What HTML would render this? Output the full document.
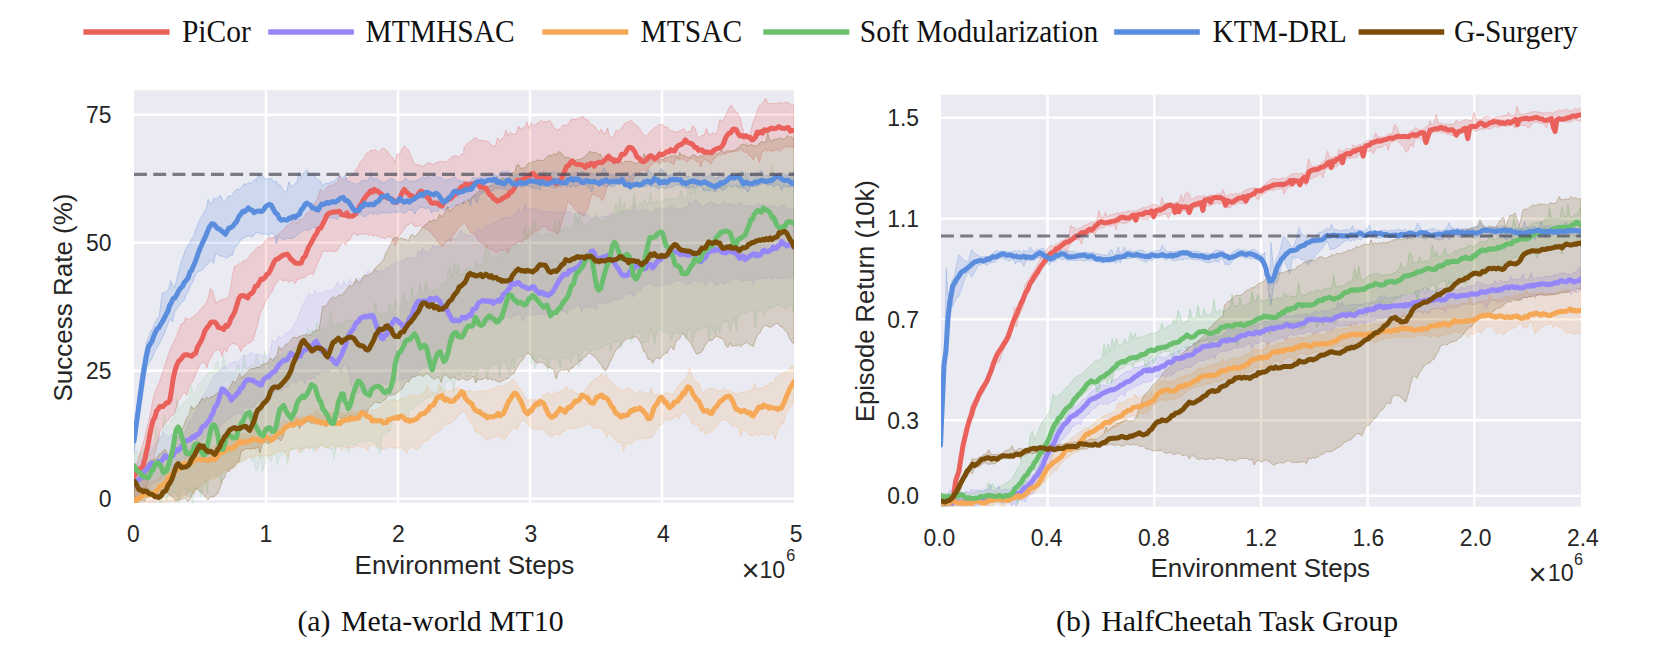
<!DOCTYPE html>
<html><head><meta charset="utf-8"><style>html,body{margin:0;padding:0;background:#fff;overflow:hidden}svg{display:block}</style></head>
<body><svg width="1653" height="662" viewBox="0 0 1653 662">
<rect width="1653" height="662" fill="#fff"/>
<line x1="83.4" y1="32" x2="169.6" y2="32" stroke="#EA615C" stroke-width="5.5"/>
<text transform="translate(181.9,41.7) scale(1,1.1)" font-family="Liberation Serif, serif" font-size="29.5" fill="#111">PiCor</text>
<line x1="268.2" y1="32" x2="353.9" y2="32" stroke="#9587F7" stroke-width="5.5"/>
<text transform="translate(365.6,41.7) scale(1,1.1)" font-family="Liberation Serif, serif" font-size="29.5" fill="#111">MTMHSAC</text>
<line x1="542.3" y1="32" x2="628.2" y2="32" stroke="#F5A855" stroke-width="5.5"/>
<text transform="translate(640.5,41.7) scale(1,1.1)" font-family="Liberation Serif, serif" font-size="29.5" fill="#111">MTSAC</text>
<line x1="763.3" y1="32" x2="849.3" y2="32" stroke="#6ABF6E" stroke-width="5.5"/>
<text transform="translate(859.8,41.7) scale(1,1.1)" font-family="Liberation Serif, serif" font-size="29.5" fill="#111">Soft Modularization</text>
<line x1="1114.2" y1="32" x2="1199.8" y2="32" stroke="#5A8DDD" stroke-width="5.5"/>
<text transform="translate(1212.5,41.7) scale(1,1.1)" font-family="Liberation Serif, serif" font-size="29.5" fill="#111">KTM-DRL</text>
<line x1="1358.6" y1="32" x2="1444.2" y2="32" stroke="#7A4E08" stroke-width="5.5"/>
<text transform="translate(1453.9,41.7) scale(1,1.1)" font-family="Liberation Serif, serif" font-size="29.5" fill="#111">G-Surgery</text>
<rect x="134" y="90.3" width="660" height="412.59999999999997" fill="#EAEAF2"/>
<line x1="266" y1="90.3" x2="266" y2="502.9" stroke="#fff" stroke-width="2.4"/>
<line x1="398" y1="90.3" x2="398" y2="502.9" stroke="#fff" stroke-width="2.4"/>
<line x1="530" y1="90.3" x2="530" y2="502.9" stroke="#fff" stroke-width="2.4"/>
<line x1="662" y1="90.3" x2="662" y2="502.9" stroke="#fff" stroke-width="2.4"/>
<line x1="134" y1="498.8" x2="794" y2="498.8" stroke="#fff" stroke-width="2.4"/>
<line x1="134" y1="370.76750000000004" x2="794" y2="370.76750000000004" stroke="#fff" stroke-width="2.4"/>
<line x1="134" y1="242.735" x2="794" y2="242.735" stroke="#fff" stroke-width="2.4"/>
<line x1="134" y1="114.70250000000004" x2="794" y2="114.70250000000004" stroke="#fff" stroke-width="2.4"/>
<rect x="941" y="94.6" width="640" height="411.9" fill="#EAEAF2"/>
<line x1="1047.6680000000001" y1="94.6" x2="1047.6680000000001" y2="506.5" stroke="#fff" stroke-width="2.4"/>
<line x1="1154.336" y1="94.6" x2="1154.336" y2="506.5" stroke="#fff" stroke-width="2.4"/>
<line x1="1261.004" y1="94.6" x2="1261.004" y2="506.5" stroke="#fff" stroke-width="2.4"/>
<line x1="1367.672" y1="94.6" x2="1367.672" y2="506.5" stroke="#fff" stroke-width="2.4"/>
<line x1="1474.3400000000001" y1="94.6" x2="1474.3400000000001" y2="506.5" stroke="#fff" stroke-width="2.4"/>
<line x1="941" y1="495.8" x2="1581" y2="495.8" stroke="#fff" stroke-width="2.4"/>
<line x1="941" y1="420.20000000000005" x2="1581" y2="420.20000000000005" stroke="#fff" stroke-width="2.4"/>
<line x1="941" y1="319.40000000000003" x2="1581" y2="319.40000000000003" stroke="#fff" stroke-width="2.4"/>
<line x1="941" y1="218.59999999999997" x2="1581" y2="218.59999999999997" stroke="#fff" stroke-width="2.4"/>
<line x1="941" y1="117.80000000000001" x2="1581" y2="117.80000000000001" stroke="#fff" stroke-width="2.4"/>
<defs><clipPath id="cl"><rect x="134" y="90.3" width="660" height="412.59999999999997"/></clipPath><clipPath id="cr"><rect x="941" y="94.6" width="640" height="411.9"/></clipPath></defs>
<g clip-path="url(#cl)"><path d="M134.0,471.6 L136.1,465.7 L138.2,459.6 L140.3,451.5 L142.4,445.7 L144.5,438.5 L146.6,429.0 L148.7,421.4 L150.8,411.4 L152.9,400.0 L155.0,392.1 L157.1,387.1 L159.2,383.0 L161.2,376.7 L163.3,370.1 L165.4,364.3 L167.6,357.1 L169.9,350.6 L172.1,345.0 L174.4,341.0 L176.6,335.9 L178.9,330.2 L181.1,323.7 L183.4,323.5 L185.6,317.4 L187.9,319.5 L190.1,319.2 L192.4,317.3 L194.6,315.3 L196.9,313.9 L199.1,310.9 L201.4,308.6 L203.6,306.0 L205.9,303.6 L208.1,298.2 L210.4,288.5 L212.6,291.1 L215.7,302.6 L217.8,302.2 L219.9,300.0 L222.0,299.9 L224.1,298.0 L226.2,299.4 L228.3,296.8 L230.4,288.6 L232.5,275.4 L234.6,266.1 L236.7,265.9 L238.8,263.7 L240.9,264.0 L243.0,261.0 L245.0,260.9 L247.1,259.5 L249.2,256.8 L251.3,253.8 L253.4,251.9 L255.5,249.4 L257.6,247.1 L259.7,247.0 L261.8,245.6 L263.9,242.6 L266.0,239.9 L268.1,237.9 L270.2,237.9 L272.3,237.9 L274.6,237.3 L277.0,235.6 L279.4,233.4 L281.7,231.0 L283.9,229.8 L286.2,226.0 L288.4,225.5 L290.7,222.9 L292.9,221.6 L295.2,218.4 L297.4,224.0 L299.5,219.1 L301.6,219.3 L303.7,218.1 L305.8,214.1 L307.9,213.6 L310.0,209.9 L312.1,208.3 L314.2,203.5 L316.3,200.9 L318.4,195.4 L320.5,189.1 L322.6,192.6 L324.7,190.3 L326.8,187.6 L328.9,186.1 L331.0,184.7 L333.1,185.8 L335.2,182.9 L337.3,183.0 L339.4,175.9 L341.5,179.3 L343.6,180.2 L345.6,178.2 L347.7,178.4 L349.8,176.5 L351.9,175.0 L354.0,173.3 L356.1,169.2 L358.2,166.9 L360.3,162.4 L362.4,160.2 L364.5,157.3 L366.6,153.3 L368.7,152.3 L370.8,150.2 L372.9,150.9 L375.0,149.3 L377.0,151.8 L379.1,152.2 L381.2,149.4 L383.3,148.2 L385.4,149.3 L387.8,152.0 L390.1,155.6 L392.5,157.6 L394.9,162.6 L397.2,154.2 L399.6,154.2 L401.9,149.2 L404.3,146.0 L406.4,148.2 L408.5,150.1 L410.6,155.1 L412.7,160.5 L414.8,164.1 L416.9,165.1 L419.1,164.8 L421.4,165.8 L423.6,166.7 L425.9,164.2 L428.1,162.9 L430.4,163.1 L432.6,164.6 L434.8,163.5 L437.1,162.2 L439.3,161.5 L441.6,161.7 L443.8,161.6 L446.1,162.3 L448.3,159.8 L450.5,158.7 L452.7,156.2 L454.9,156.0 L457.1,156.3 L459.3,156.7 L461.5,154.3 L463.7,154.4 L464.0,147.7 L466.1,145.0 L468.2,142.9 L470.3,141.8 L472.4,139.9 L474.5,137.8 L476.6,138.0 L478.7,140.8 L480.8,139.8 L482.9,140.6 L485.0,141.5 L487.0,140.8 L489.1,142.4 L491.2,144.7 L493.3,146.2 L495.4,146.7 L497.5,137.9 L499.6,141.4 L501.7,138.6 L503.8,137.6 L505.9,130.1 L508.0,135.9 L510.1,132.5 L512.2,133.9 L514.3,134.0 L516.4,134.0 L518.5,125.9 L520.6,129.8 L522.7,127.7 L524.8,128.1 L526.9,121.9 L529.0,128.8 L531.1,122.5 L533.2,126.2 L535.2,124.9 L537.3,123.0 L539.4,122.2 L541.5,120.3 L543.6,122.1 L545.7,121.8 L547.8,121.6 L549.9,120.4 L552.0,124.0 L554.1,127.5 L556.2,130.2 L558.3,129.6 L560.4,128.4 L562.5,125.4 L564.6,125.0 L566.7,125.2 L568.8,123.4 L570.9,119.8 L573.0,119.5 L575.1,119.6 L577.1,118.9 L579.2,118.6 L581.3,116.5 L583.4,116.8 L585.6,119.6 L587.9,119.9 L590.1,124.4 L592.4,124.7 L594.6,126.2 L596.9,130.0 L599.1,133.2 L601.2,129.1 L603.3,133.9 L605.4,133.1 L607.5,127.9 L609.6,136.4 L611.7,137.8 L613.8,136.6 L615.9,130.3 L618.0,130.9 L620.1,129.8 L622.2,127.2 L624.3,124.0 L626.4,122.1 L628.5,121.9 L630.6,120.3 L632.8,122.0 L635.1,125.0 L637.3,126.0 L639.6,128.0 L641.8,133.0 L644.1,135.1 L646.3,136.4 L648.4,134.2 L650.5,131.3 L652.6,129.4 L654.7,127.3 L656.8,127.4 L658.9,124.2 L661.0,125.1 L663.1,124.6 L665.1,127.6 L667.2,127.2 L669.3,129.1 L671.4,131.3 L673.5,131.2 L675.6,132.4 L677.7,131.5 L679.8,131.0 L681.9,129.8 L684.0,128.9 L686.2,132.6 L688.5,131.5 L690.7,131.5 L693.0,125.6 L695.2,128.7 L697.5,136.7 L699.7,137.6 L701.9,135.3 L704.2,135.3 L706.4,128.4 L708.7,134.8 L710.9,133.9 L713.2,132.6 L715.4,134.2 L717.7,130.7 L719.9,119.5 L722.2,121.5 L724.4,117.9 L726.7,113.7 L728.9,108.2 L731.2,105.0 L733.6,109.1 L735.9,112.1 L738.2,113.6 L740.6,119.9 L742.7,128.6 L744.8,137.8 L746.9,145.8 L749.0,137.4 L751.1,129.8 L753.1,122.2 L755.2,117.6 L757.3,110.4 L759.4,105.5 L761.5,104.2 L763.6,101.7 L765.7,98.3 L767.8,103.0 L769.9,104.0 L772.0,103.4 L774.1,103.6 L776.2,103.7 L778.3,102.4 L780.5,102.6 L782.8,103.7 L785.0,102.4 L787.3,102.1 L789.5,103.6 L791.8,104.9 L794.0,104.8 L794.0,147.7 L792.0,147.2 L790.0,146.9 L788.0,146.8 L786.0,146.6 L784.0,147.2 L782.0,149.1 L780.0,151.3 L778.0,148.8 L776.0,150.1 L774.0,150.3 L772.0,151.7 L769.9,149.8 L767.8,151.5 L765.7,149.6 L763.6,151.1 L761.6,152.5 L759.5,162.2 L757.4,156.1 L755.3,154.5 L753.2,159.8 L751.1,156.8 L749.0,155.2 L746.9,151.9 L744.8,152.4 L742.7,150.8 L740.6,148.9 L738.4,150.4 L736.1,151.3 L733.9,151.0 L731.6,151.8 L729.4,152.5 L727.1,152.7 L724.9,154.5 L722.9,153.4 L720.9,155.1 L718.9,153.7 L716.9,156.5 L714.9,158.5 L712.9,159.1 L710.9,164.3 L708.9,161.3 L706.9,161.3 L704.9,159.4 L702.9,160.3 L700.8,166.8 L698.7,161.0 L696.6,162.2 L694.5,159.3 L692.4,158.2 L690.3,158.9 L688.2,160.8 L686.1,161.7 L684.0,159.6 L681.9,158.3 L679.8,160.2 L677.7,157.9 L675.6,158.8 L673.6,164.9 L671.5,162.4 L669.4,162.1 L667.3,160.0 L665.2,162.2 L663.1,160.9 L661.0,163.1 L658.9,163.4 L656.8,161.4 L654.7,162.3 L652.6,163.6 L650.5,166.3 L648.4,168.0 L646.3,171.6 L644.1,169.5 L641.8,169.8 L639.6,172.5 L637.3,174.6 L635.1,177.1 L632.8,179.6 L630.6,187.7 L628.5,180.2 L626.4,180.9 L624.3,177.9 L622.2,178.8 L620.1,178.3 L618.0,179.8 L615.9,177.3 L613.8,178.7 L611.7,177.7 L609.4,182.3 L607.0,187.4 L604.6,194.9 L602.3,200.7 L599.9,197.1 L597.6,195.8 L595.2,195.4 L592.9,193.6 L590.5,197.9 L588.1,207.6 L585.8,211.7 L583.4,216.3 L581.2,213.4 L578.9,213.2 L576.7,210.9 L574.4,208.4 L572.2,204.8 L569.9,203.4 L567.7,201.2 L565.4,210.6 L563.0,217.7 L560.6,226.2 L558.3,233.5 L556.1,233.6 L553.8,231.0 L551.6,230.3 L549.3,231.0 L547.1,228.0 L544.8,226.6 L542.6,226.4 L540.6,228.5 L538.6,230.5 L536.5,230.7 L534.5,230.2 L532.5,233.7 L530.5,236.1 L528.5,237.2 L526.4,238.1 L524.4,239.2 L522.4,241.7 L520.4,241.7 L518.3,241.5 L516.3,244.0 L514.3,244.2 L512.2,245.6 L510.1,247.7 L508.0,253.1 L505.9,249.4 L503.8,250.6 L501.7,250.2 L499.6,250.6 L497.5,252.6 L495.4,252.3 L493.2,250.8 L490.9,248.6 L488.7,248.1 L486.4,247.4 L484.2,244.5 L481.9,242.9 L479.7,242.1 L477.5,238.6 L475.2,234.0 L473.0,232.7 L470.7,232.7 L468.5,228.8 L466.2,224.9 L464.0,221.8 L463.7,223.1 L461.5,224.8 L459.4,226.2 L457.2,229.8 L455.0,233.2 L452.9,234.6 L450.7,241.3 L448.5,240.1 L446.3,240.6 L444.2,243.6 L442.0,246.9 L439.9,243.7 L437.8,241.9 L435.7,237.4 L433.6,236.2 L431.5,232.9 L429.4,231.0 L427.3,229.6 L425.2,228.5 L423.1,227.4 L421.0,226.3 L419.0,225.4 L416.9,226.4 L414.8,226.6 L412.7,224.0 L410.6,223.0 L408.4,225.3 L406.1,226.0 L403.9,229.8 L401.6,232.5 L399.4,235.8 L397.1,240.9 L394.9,245.7 L392.9,240.1 L390.9,236.8 L388.9,236.7 L386.9,237.1 L384.9,238.7 L382.9,237.2 L380.9,237.9 L378.9,235.7 L376.9,236.3 L374.9,234.8 L372.9,236.4 L370.8,234.2 L368.7,235.5 L366.6,233.6 L364.5,233.6 L362.4,234.3 L360.3,234.1 L358.2,235.4 L356.1,234.8 L354.0,232.5 L351.9,235.6 L349.8,240.2 L347.7,240.3 L345.6,245.3 L343.6,242.1 L341.5,243.1 L339.4,246.6 L337.3,250.8 L335.2,251.8 L333.1,250.8 L331.0,251.9 L328.9,250.4 L326.8,251.9 L324.7,250.4 L322.6,251.4 L320.2,258.0 L317.9,262.3 L315.6,268.5 L313.2,274.6 L310.9,273.5 L308.7,274.3 L306.4,276.2 L304.2,278.1 L301.9,277.6 L299.7,279.3 L297.4,278.9 L295.3,283.8 L293.2,280.9 L291.1,280.0 L289.0,282.6 L287.0,280.1 L284.9,280.3 L282.8,280.9 L280.7,279.3 L278.6,279.9 L276.5,282.4 L274.4,285.3 L272.3,291.3 L270.2,293.5 L268.1,297.7 L266.0,300.2 L263.9,305.7 L261.8,310.2 L259.7,314.8 L257.4,325.1 L255.2,332.8 L252.9,340.2 L250.2,342.9 L247.6,343.1 L245.0,346.0 L242.9,346.7 L240.9,351.6 L238.8,346.8 L236.7,344.5 L234.7,343.9 L232.6,343.3 L230.6,344.8 L228.5,346.6 L226.5,352.2 L224.3,348.6 L222.1,355.9 L219.9,350.0 L217.7,349.9 L215.5,350.6 L213.3,352.2 L211.1,357.7 L209.0,359.4 L206.9,368.1 L204.8,362.5 L202.7,362.6 L200.4,364.5 L198.2,368.7 L195.9,373.7 L193.6,379.6 L191.4,383.3 L189.1,385.9 L186.8,395.2 L184.6,392.7 L182.4,393.6 L180.2,398.8 L178.0,400.5 L175.8,409.7 L173.6,414.8 L171.4,415.4 L169.2,418.7 L167.0,421.4 L164.8,423.3 L162.6,427.1 L160.4,429.5 L158.3,440.1 L156.2,447.6 L154.1,457.7 L152.0,467.0 L149.9,478.1 L147.7,482.8 L145.6,488.3 L143.4,491.7 L141.1,493.8 L138.7,496.7 L136.3,500.1 L134.0,503.2Z" fill="#EA615C" fill-opacity="0.2" stroke="#EA615C" stroke-opacity="0.32000000000000006" stroke-width="1"/><path d="M134.0,467.0 L136.1,466.5 L138.2,462.4 L140.3,461.1 L142.4,457.0 L144.5,456.6 L146.6,453.6 L148.7,450.6 L150.7,447.6 L152.8,447.2 L154.9,444.9 L157.0,443.9 L159.1,436.3 L161.2,437.7 L163.3,431.7 L165.4,434.5 L167.4,435.5 L169.4,437.0 L171.5,434.6 L173.5,434.5 L175.5,436.5 L177.5,436.9 L179.5,437.5 L181.6,437.9 L183.7,433.0 L185.8,430.7 L187.9,424.2 L190.0,420.1 L192.1,418.0 L194.2,413.0 L196.4,411.4 L198.5,405.4 L200.6,400.0 L202.7,397.2 L204.8,392.6 L206.9,389.4 L209.0,387.3 L211.1,380.9 L213.3,377.1 L215.9,374.0 L218.5,372.4 L221.2,369.2 L223.2,366.7 L225.3,367.0 L227.4,365.7 L229.4,362.9 L231.5,363.6 L233.5,361.6 L235.6,361.9 L237.6,362.2 L239.7,360.0 L241.8,357.1 L243.9,354.7 L246.0,355.2 L248.1,355.6 L250.2,352.8 L252.5,352.7 L254.8,354.9 L257.0,353.9 L259.3,355.1 L261.6,355.3 L263.8,355.9 L266.1,356.4 L268.2,354.5 L270.3,351.6 L272.4,340.2 L274.6,342.4 L276.7,340.3 L278.9,336.4 L281.2,337.4 L283.5,336.4 L285.7,333.0 L288.0,333.1 L290.3,329.7 L292.5,329.1 L294.6,323.4 L296.6,321.1 L298.7,314.9 L300.7,310.7 L302.8,304.7 L304.8,301.3 L306.9,298.0 L308.9,293.4 L311.0,295.3 L313.0,296.2 L315.1,290.4 L317.1,294.9 L319.2,292.4 L321.2,292.8 L323.3,292.8 L325.3,291.1 L327.4,290.3 L329.4,291.0 L331.5,290.5 L333.5,288.2 L335.6,286.0 L337.6,281.9 L339.7,285.9 L341.7,286.8 L343.8,280.9 L345.8,286.6 L347.9,284.8 L349.9,278.8 L352.0,283.3 L354.0,282.9 L356.0,280.5 L358.0,281.6 L360.0,278.2 L362.0,278.9 L364.1,277.6 L366.1,275.2 L368.1,270.2 L370.1,274.2 L372.1,272.2 L374.1,270.7 L376.1,269.8 L378.1,271.1 L380.1,271.9 L382.1,270.7 L384.2,271.1 L386.2,268.2 L388.2,268.5 L390.2,266.0 L392.2,264.1 L394.2,264.6 L396.2,261.8 L398.2,262.2 L400.2,262.2 L402.3,260.1 L404.3,261.1 L406.3,258.1 L408.3,256.7 L410.3,257.6 L412.3,258.1 L414.3,257.8 L416.3,257.8 L418.3,250.4 L420.3,254.3 L422.4,247.5 L424.4,252.2 L426.4,250.2 L428.4,251.7 L430.4,251.4 L432.4,245.3 L434.4,247.3 L436.4,247.0 L438.4,246.2 L440.4,247.4 L442.5,246.9 L444.5,243.7 L446.5,241.2 L448.5,239.2 L450.5,239.7 L452.5,237.9 L454.5,239.5 L456.5,238.0 L458.5,236.5 L460.6,230.1 L462.6,233.3 L464.6,233.8 L466.6,234.9 L468.6,235.5 L470.6,235.7 L472.6,234.6 L474.6,233.4 L476.6,232.5 L478.6,228.7 L480.7,230.5 L482.7,230.3 L484.7,226.7 L486.7,225.5 L488.7,226.2 L490.7,225.0 L492.7,223.8 L494.7,223.6 L496.7,222.2 L498.8,221.1 L500.8,218.5 L502.8,218.9 L504.8,217.6 L506.8,217.8 L508.8,216.9 L510.8,217.4 L512.8,217.1 L514.8,213.6 L516.8,214.9 L518.9,208.5 L520.9,215.0 L522.9,212.4 L524.9,203.6 L526.9,209.4 L528.9,208.7 L531.0,208.7 L533.0,209.1 L535.0,209.0 L537.0,209.5 L539.1,210.3 L541.1,211.8 L543.1,211.8 L545.1,211.5 L547.2,211.3 L549.2,212.3 L551.2,210.9 L553.2,211.9 L555.3,212.2 L557.3,213.6 L559.3,211.5 L561.3,213.9 L563.4,212.7 L565.4,211.1 L567.4,212.4 L569.4,211.6 L571.5,213.3 L573.5,214.7 L575.5,213.6 L577.5,213.2 L579.6,212.2 L581.6,214.1 L583.6,213.8 L585.6,214.8 L587.7,214.6 L589.7,217.1 L591.7,218.2 L593.8,218.0 L595.8,216.5 L597.8,217.6 L599.8,217.3 L601.9,216.3 L603.9,216.5 L605.9,216.7 L608.0,216.4 L610.0,212.7 L612.0,213.8 L614.0,214.5 L616.1,215.1 L618.1,214.2 L620.1,211.6 L622.2,212.6 L624.2,211.0 L626.2,210.7 L628.3,211.6 L630.3,210.6 L632.3,212.2 L634.3,204.5 L636.4,212.1 L638.4,212.9 L640.4,209.9 L642.5,210.0 L644.5,211.4 L646.5,209.0 L648.5,211.4 L650.6,212.4 L652.6,212.3 L654.6,209.7 L656.7,209.3 L658.7,208.8 L660.7,207.8 L662.7,209.7 L664.8,208.9 L666.8,210.2 L668.8,207.2 L670.8,205.3 L672.9,206.7 L674.9,208.7 L676.9,208.3 L678.9,208.7 L681.0,209.5 L683.0,208.1 L685.0,207.1 L687.0,207.9 L689.1,201.5 L691.1,204.8 L693.1,205.5 L695.1,199.5 L697.2,200.5 L699.2,203.6 L701.2,205.8 L703.2,206.4 L705.3,205.1 L707.3,203.1 L709.3,202.7 L711.3,201.4 L713.4,203.4 L715.4,204.1 L717.4,204.7 L719.5,205.5 L721.5,202.9 L723.5,201.7 L725.5,203.7 L727.6,204.6 L729.6,203.3 L731.6,203.7 L733.7,204.9 L735.7,205.2 L737.7,204.0 L739.7,202.6 L741.8,204.0 L743.8,206.0 L745.8,206.4 L747.9,206.0 L749.9,206.1 L751.9,205.5 L754.0,207.0 L756.0,205.4 L758.0,203.7 L760.0,205.6 L762.1,204.9 L764.1,204.7 L766.1,206.3 L768.2,206.5 L770.2,206.8 L772.2,205.4 L774.2,206.5 L776.3,208.2 L778.3,207.0 L780.5,206.3 L782.8,205.4 L785.0,204.7 L787.3,207.6 L789.5,209.7 L791.8,208.4 L794.0,209.9 L794.0,276.2 L792.0,278.0 L790.0,277.1 L788.0,279.0 L785.9,277.3 L783.9,278.0 L781.9,278.4 L779.9,278.6 L777.9,279.5 L775.8,276.8 L773.8,277.6 L771.8,279.4 L769.8,277.4 L767.7,278.0 L765.7,279.3 L763.7,277.6 L761.7,278.9 L759.7,278.5 L757.6,278.5 L755.6,279.7 L753.6,284.5 L751.6,280.4 L749.6,280.3 L747.5,280.1 L745.5,279.8 L743.5,282.0 L741.5,281.5 L739.5,280.1 L737.4,278.8 L735.4,277.9 L733.4,279.1 L731.4,280.5 L729.4,283.0 L727.3,282.1 L725.3,284.0 L723.3,283.4 L721.3,281.8 L719.3,282.6 L717.2,285.6 L715.2,285.2 L713.2,281.2 L711.2,280.1 L709.2,281.4 L707.1,283.1 L705.1,285.4 L703.1,282.5 L701.1,280.6 L699.1,282.4 L697.0,280.9 L695.0,280.0 L693.0,280.9 L691.0,282.6 L688.9,284.2 L686.9,284.8 L684.9,283.5 L682.9,281.6 L680.9,280.4 L678.8,280.4 L676.8,281.3 L674.8,281.2 L672.8,282.5 L670.8,283.6 L668.7,284.1 L666.7,284.1 L664.7,285.0 L662.7,285.6 L660.7,285.4 L658.6,285.0 L656.6,285.9 L654.6,286.2 L652.6,284.6 L650.5,283.8 L648.4,283.8 L646.3,285.4 L644.2,285.8 L642.1,288.6 L640.0,291.1 L637.9,290.2 L635.8,290.7 L633.7,297.3 L631.6,293.0 L629.5,294.4 L627.4,292.7 L625.3,295.7 L623.2,297.8 L621.1,298.0 L619.1,299.7 L617.0,298.7 L614.9,299.8 L612.8,299.0 L610.7,302.5 L608.6,303.0 L606.5,303.2 L604.4,303.7 L602.3,302.8 L600.2,302.3 L598.1,302.6 L596.0,309.5 L593.9,307.4 L591.8,307.3 L589.7,308.3 L587.7,306.6 L585.7,307.5 L583.6,306.9 L581.6,312.0 L579.6,304.8 L577.6,305.5 L575.5,306.8 L573.5,308.5 L571.5,308.4 L569.4,307.8 L567.4,313.9 L565.4,311.6 L563.4,311.4 L561.3,311.3 L559.3,310.0 L557.3,308.4 L555.2,309.4 L553.2,316.7 L551.2,313.8 L549.2,312.5 L547.1,315.0 L545.1,314.2 L543.1,314.8 L541.1,313.9 L539.0,313.4 L537.0,314.1 L535.0,315.2 L532.9,315.6 L530.9,315.6 L528.9,314.5 L526.9,314.8 L524.8,316.4 L522.8,321.6 L520.8,315.8 L518.7,314.8 L516.7,314.5 L514.7,315.7 L512.7,317.2 L510.6,319.2 L508.6,316.3 L506.6,316.6 L504.6,317.5 L502.5,319.2 L500.5,322.1 L498.5,319.5 L496.4,321.2 L494.4,321.5 L492.4,322.4 L490.4,323.2 L488.3,321.5 L486.3,323.4 L484.3,324.5 L482.2,324.9 L480.2,322.3 L478.2,322.8 L476.2,323.9 L474.1,326.0 L472.1,325.8 L470.1,325.5 L468.1,326.2 L466.0,327.0 L464.0,329.0 L462.0,330.1 L459.9,335.9 L457.9,334.0 L455.8,336.7 L453.8,342.0 L451.7,343.3 L449.7,345.3 L447.6,345.9 L445.6,348.5 L443.5,349.5 L441.5,351.0 L439.4,351.8 L437.4,354.1 L435.3,358.0 L433.3,361.7 L431.2,361.5 L429.2,363.7 L427.1,367.1 L425.1,367.0 L423.0,367.2 L421.0,369.4 L418.9,370.2 L416.9,373.1 L414.9,374.4 L412.8,378.7 L410.8,375.8 L408.8,379.0 L406.8,378.6 L404.7,377.4 L402.7,379.9 L400.7,379.2 L398.6,380.7 L396.6,380.5 L394.6,382.3 L392.6,383.0 L390.5,381.5 L388.5,382.0 L386.5,385.1 L384.4,383.6 L382.4,383.3 L380.4,382.8 L378.3,384.8 L376.3,387.7 L374.3,386.2 L372.3,387.1 L370.2,393.5 L368.2,390.9 L366.2,395.4 L364.1,391.7 L362.1,391.9 L360.1,392.2 L358.1,392.6 L356.0,393.3 L354.0,393.0 L351.8,385.4 L349.7,377.3 L347.5,369.2 L345.4,363.3 L343.3,365.2 L341.3,372.8 L339.3,368.9 L337.2,368.0 L335.2,368.2 L333.2,368.9 L331.1,367.5 L329.1,372.7 L327.1,371.4 L325.0,371.2 L323.0,371.0 L321.0,372.0 L318.9,374.6 L316.9,374.9 L314.9,378.2 L312.8,376.9 L310.8,379.5 L308.8,379.3 L306.7,378.5 L304.7,383.7 L302.7,378.7 L300.6,379.3 L298.6,380.8 L296.6,382.6 L294.6,382.5 L292.5,381.4 L290.5,383.4 L288.5,386.4 L286.4,387.6 L284.4,386.8 L282.4,390.3 L280.3,391.2 L278.3,390.7 L276.3,390.5 L274.2,392.7 L272.2,396.4 L270.2,397.4 L268.1,398.4 L266.1,398.5 L264.1,401.0 L262.0,401.5 L260.0,400.5 L258.0,401.6 L255.9,403.1 L253.9,407.0 L251.9,407.0 L249.8,408.4 L247.8,408.5 L245.8,406.6 L243.7,409.0 L241.7,415.1 L239.7,411.8 L237.6,414.5 L235.6,414.9 L233.6,413.8 L231.6,417.0 L229.5,419.1 L227.5,418.5 L225.5,421.7 L223.4,423.1 L221.4,424.2 L219.4,427.7 L217.3,429.0 L215.3,428.4 L213.3,429.0 L211.2,429.5 L209.2,432.5 L207.2,434.4 L205.1,437.4 L203.1,438.3 L201.1,442.5 L199.0,444.1 L197.0,443.2 L195.0,445.8 L192.9,450.0 L190.9,454.0 L188.9,457.2 L186.8,456.4 L184.8,457.7 L182.8,457.7 L180.7,460.5 L178.7,463.0 L176.7,466.2 L174.6,467.1 L172.6,471.8 L170.6,469.9 L168.5,470.6 L166.5,473.5 L164.5,475.6 L162.5,475.2 L160.4,479.8 L158.4,481.3 L156.4,481.6 L154.3,483.0 L152.3,483.6 L150.3,484.4 L148.2,492.9 L146.2,488.4 L144.2,491.4 L142.1,492.4 L140.1,494.5 L138.1,496.1 L136.0,496.7 L134.0,499.9Z" fill="#9587F7" fill-opacity="0.12" stroke="#9587F7" stroke-opacity="0.192" stroke-width="1"/><path d="M134.0,490.5 L136.0,490.9 L138.1,485.5 L140.1,489.4 L142.1,488.9 L144.2,485.8 L146.2,485.5 L148.2,483.3 L150.3,483.2 L152.3,481.2 L154.3,481.3 L156.4,479.9 L158.4,477.6 L160.4,477.7 L162.5,475.9 L164.5,475.8 L166.5,475.5 L168.5,474.2 L170.6,472.3 L172.6,470.1 L174.6,467.7 L176.7,461.0 L178.7,466.2 L180.7,464.0 L182.8,461.1 L184.8,458.7 L186.8,455.9 L188.9,454.1 L190.9,453.8 L192.9,453.3 L195.0,452.1 L197.0,451.8 L199.0,451.3 L201.1,449.7 L203.1,450.7 L205.1,451.6 L207.2,447.9 L209.2,448.0 L211.2,448.0 L213.3,446.6 L215.3,446.8 L217.3,443.6 L219.4,441.8 L221.4,441.8 L223.4,440.9 L225.5,440.5 L227.5,438.1 L229.5,438.6 L231.6,440.1 L233.6,435.2 L235.6,438.5 L237.6,436.2 L239.7,436.3 L241.7,433.7 L243.7,434.7 L245.8,432.6 L247.8,434.5 L249.8,431.8 L251.9,431.0 L253.9,430.8 L255.9,431.2 L258.0,425.7 L260.0,432.1 L262.0,432.3 L264.1,425.9 L266.1,430.2 L268.1,428.3 L270.2,429.1 L272.2,428.5 L274.2,427.5 L276.3,426.4 L278.3,426.5 L280.3,423.9 L282.4,421.9 L284.4,420.6 L286.4,422.0 L288.5,423.1 L290.5,422.5 L292.5,419.6 L294.6,417.3 L296.6,417.0 L298.6,416.8 L300.6,417.9 L302.7,416.0 L304.7,417.8 L306.7,416.4 L308.8,416.3 L310.8,414.8 L312.8,414.3 L314.9,412.6 L316.9,409.3 L318.9,413.4 L321.0,415.3 L323.0,415.1 L325.0,413.6 L327.1,412.5 L329.1,412.3 L331.1,413.2 L333.2,412.0 L335.2,411.0 L337.2,411.3 L339.3,413.0 L341.3,412.8 L343.3,414.0 L345.4,414.0 L347.4,411.8 L349.4,413.6 L351.5,411.2 L353.5,411.5 L355.5,412.8 L357.6,413.2 L359.6,413.7 L361.6,413.1 L363.7,412.8 L365.7,411.8 L367.8,409.4 L369.8,411.5 L371.8,410.0 L373.9,410.9 L375.9,409.1 L377.9,408.0 L380.0,408.1 L382.7,405.1 L385.4,402.2 L387.5,402.8 L389.6,400.8 L391.7,399.6 L393.8,400.2 L395.9,400.4 L398.0,400.9 L400.1,399.7 L402.2,397.9 L404.3,399.0 L406.4,397.4 L408.5,395.7 L410.6,397.2 L412.7,394.4 L414.8,395.4 L416.9,396.0 L418.9,395.5 L421.0,395.9 L423.0,392.9 L425.1,391.9 L427.1,385.3 L429.2,390.2 L431.2,391.9 L433.3,393.1 L435.3,393.2 L437.4,392.7 L439.4,385.0 L441.5,390.5 L443.5,391.6 L445.6,390.2 L447.6,390.2 L449.7,391.1 L451.7,390.0 L453.8,388.4 L455.8,390.0 L457.9,386.2 L459.9,390.2 L462.0,391.8 L464.0,391.7 L466.5,390.9 L469.0,390.7 L471.5,390.9 L474.0,392.5 L476.2,391.8 L478.4,390.7 L480.6,392.0 L482.9,390.5 L485.1,390.6 L487.3,391.2 L489.5,389.4 L491.7,389.1 L493.9,388.5 L496.2,386.7 L498.4,386.0 L500.6,385.2 L502.8,386.9 L505.0,386.1 L507.3,384.1 L509.5,383.1 L511.7,380.0 L513.9,379.4 L516.2,384.1 L518.6,386.4 L520.9,390.2 L523.2,393.9 L525.6,398.3 L527.9,401.4 L530.2,398.7 L532.4,399.9 L534.7,400.0 L537.0,399.8 L539.3,398.8 L541.6,398.4 L543.9,395.0 L546.1,393.2 L548.3,392.8 L550.5,395.1 L552.7,395.0 L554.9,391.2 L557.2,392.7 L559.4,392.3 L561.6,391.0 L563.8,390.3 L566.0,386.2 L568.3,390.8 L570.5,390.6 L572.7,389.9 L574.9,392.5 L577.1,394.2 L579.3,393.6 L581.6,393.9 L583.8,393.0 L586.0,388.8 L588.3,385.8 L590.5,382.9 L592.8,381.6 L595.0,377.9 L597.3,378.1 L599.5,376.8 L601.8,373.6 L603.9,376.8 L606.1,374.5 L608.3,378.6 L610.5,381.2 L612.7,383.4 L614.9,386.1 L617.1,387.7 L619.3,388.7 L621.5,391.3 L623.7,390.1 L626.0,389.1 L628.3,387.3 L630.6,390.7 L632.8,390.4 L635.1,392.6 L637.4,393.2 L639.7,391.0 L642.0,391.8 L644.3,393.9 L646.7,392.6 L649.0,395.0 L651.3,388.5 L653.7,396.5 L655.9,394.3 L658.1,393.9 L660.3,396.3 L662.5,395.2 L664.7,393.1 L667.0,392.9 L669.2,393.2 L671.4,393.9 L673.6,394.6 L675.9,389.5 L678.2,385.8 L680.5,384.2 L682.7,381.3 L685.0,380.1 L687.3,376.6 L689.6,368.4 L691.9,375.2 L694.3,380.5 L696.6,381.3 L698.9,383.4 L701.2,390.7 L703.6,392.8 L705.8,390.3 L708.0,389.3 L710.2,388.8 L712.4,388.4 L714.7,388.9 L716.9,390.4 L719.1,390.4 L721.3,390.6 L723.5,388.4 L725.8,390.7 L728.0,390.7 L730.2,390.2 L732.4,392.4 L734.6,393.1 L736.8,393.9 L739.1,393.5 L741.3,391.3 L743.5,393.1 L745.7,391.4 L747.9,391.7 L750.2,389.7 L752.4,389.9 L754.6,383.7 L756.8,390.2 L759.0,387.9 L761.2,387.7 L763.5,389.2 L765.6,385.2 L767.8,385.9 L769.9,382.7 L772.1,383.0 L774.2,382.0 L776.4,377.0 L778.5,376.2 L780.7,374.5 L782.8,373.5 L785.0,372.0 L787.1,371.4 L789.3,369.3 L791.4,366.2 L794.0,366.4 L794.0,402.0 L791.9,405.6 L789.8,408.0 L787.8,411.1 L785.7,413.8 L783.6,424.4 L781.5,422.9 L779.4,428.3 L777.3,430.6 L775.1,439.5 L773.0,432.5 L770.8,433.5 L768.7,435.2 L766.5,435.1 L764.4,434.7 L762.2,433.2 L760.1,435.1 L757.9,435.4 L755.8,433.7 L753.6,435.3 L751.5,435.4 L749.3,435.5 L747.2,432.0 L745.0,429.8 L742.9,429.2 L740.7,436.4 L738.6,428.0 L736.4,426.3 L734.3,425.9 L732.1,425.9 L730.0,422.9 L727.8,421.9 L725.7,419.7 L723.5,419.6 L721.3,419.8 L719.0,422.4 L716.7,426.3 L714.4,428.8 L712.1,431.2 L709.8,432.5 L707.6,432.7 L705.4,434.5 L703.2,427.9 L701.0,431.7 L698.8,426.4 L696.7,425.1 L694.5,424.0 L692.3,424.0 L690.1,418.0 L688.0,415.9 L685.8,413.2 L683.6,412.1 L681.4,413.0 L679.2,418.9 L677.0,415.3 L674.7,418.2 L672.5,418.7 L670.3,419.6 L668.1,420.4 L665.9,419.1 L663.6,421.0 L661.3,425.1 L659.0,424.9 L656.7,429.2 L654.3,434.2 L652.0,436.8 L649.7,438.4 L647.5,436.9 L645.3,439.6 L643.2,438.2 L641.0,438.5 L638.9,440.3 L636.7,438.9 L634.5,441.0 L632.4,442.5 L630.2,444.6 L628.0,443.3 L625.9,443.9 L623.7,450.8 L621.6,441.9 L619.4,442.6 L617.3,442.1 L615.2,439.7 L613.0,437.4 L610.9,433.7 L608.7,433.7 L606.6,437.8 L604.5,432.6 L602.3,429.2 L600.2,428.9 L598.0,427.6 L595.9,429.0 L593.8,427.7 L591.6,425.8 L589.4,424.3 L587.2,423.6 L585.0,425.0 L582.8,425.7 L580.6,427.0 L578.4,426.4 L576.2,428.3 L574.0,429.0 L571.8,428.1 L569.6,428.0 L567.4,427.9 L565.2,431.0 L562.9,430.3 L560.7,434.2 L558.5,434.9 L556.3,433.8 L554.1,434.4 L551.8,437.1 L549.7,434.7 L547.5,434.7 L545.4,432.6 L543.2,429.7 L541.1,429.5 L538.9,428.6 L536.8,429.0 L534.6,429.4 L532.5,428.4 L530.3,426.8 L528.2,424.9 L526.0,422.8 L523.9,419.4 L521.7,421.0 L519.5,424.0 L517.2,430.0 L515.0,427.7 L512.8,427.7 L510.6,431.9 L508.4,434.0 L506.1,437.5 L503.9,440.6 L501.7,436.3 L499.5,437.7 L497.3,435.6 L495.1,438.0 L492.8,436.7 L490.6,438.2 L488.4,440.8 L486.2,439.6 L484.0,437.6 L481.7,435.7 L479.5,433.5 L477.3,431.9 L475.1,431.2 L472.9,424.4 L470.7,422.7 L468.4,418.6 L466.2,414.0 L464.0,411.2 L462.0,411.3 L459.9,414.5 L457.9,415.2 L455.8,418.8 L453.8,420.5 L451.7,422.6 L449.7,423.2 L447.6,424.5 L445.6,424.1 L443.5,426.3 L441.5,428.0 L439.4,431.6 L437.4,431.9 L435.3,434.0 L433.3,434.6 L431.2,436.5 L429.2,439.4 L427.1,441.1 L425.1,440.1 L423.0,443.4 L421.0,445.5 L418.9,447.6 L416.9,449.5 L414.8,448.4 L412.7,447.3 L410.6,448.2 L408.5,448.5 L406.4,453.8 L404.3,449.7 L402.2,448.5 L400.1,447.4 L398.0,448.5 L395.9,447.7 L393.8,448.2 L391.7,446.7 L389.6,447.7 L387.5,447.1 L385.4,448.7 L382.7,449.3 L380.0,447.9 L377.9,445.9 L375.9,446.7 L373.9,444.0 L371.8,445.0 L369.8,445.4 L367.8,450.6 L365.7,448.2 L363.7,446.6 L361.6,447.6 L359.6,445.3 L357.6,446.7 L355.5,445.6 L353.5,447.8 L351.5,447.5 L349.4,447.8 L347.4,446.9 L345.4,448.1 L343.3,447.6 L341.3,450.3 L339.3,445.4 L337.2,445.2 L335.2,448.6 L333.2,444.2 L331.1,445.3 L329.1,446.9 L327.1,448.1 L325.0,447.0 L323.0,444.8 L321.0,446.3 L318.9,446.5 L316.9,450.9 L314.9,446.4 L312.8,447.4 L310.8,448.2 L308.8,448.4 L306.7,446.7 L304.7,449.1 L302.7,449.4 L300.6,448.4 L298.6,453.1 L296.6,447.4 L294.6,448.5 L292.5,449.4 L290.5,448.1 L288.5,457.5 L286.4,454.6 L284.4,451.5 L282.4,450.4 L280.3,451.3 L278.3,451.3 L276.3,451.9 L274.2,452.5 L272.2,455.1 L270.2,455.6 L268.1,456.1 L266.1,455.5 L264.1,456.2 L262.0,456.2 L260.0,456.0 L258.0,454.9 L255.9,455.3 L253.9,457.0 L251.9,458.8 L249.8,456.1 L247.8,457.9 L245.8,459.6 L243.7,461.2 L241.7,460.6 L239.7,462.7 L237.6,463.5 L235.6,466.8 L233.6,466.4 L231.6,467.8 L229.5,470.0 L227.5,470.5 L225.5,469.3 L223.4,471.0 L221.4,473.2 L219.4,475.0 L217.3,476.0 L215.3,478.6 L213.3,478.6 L211.2,478.9 L209.1,478.9 L207.0,482.3 L204.9,483.2 L202.8,483.8 L200.7,486.7 L198.7,487.1 L196.6,488.9 L194.5,492.7 L192.4,493.1 L190.3,489.4 L188.2,492.3 L186.1,495.7 L184.1,493.9 L182.0,496.5 L179.9,499.1 L177.8,498.6 L175.7,502.2 L173.6,501.5 L171.5,500.8 L169.5,501.2 L167.4,501.8 L165.3,502.4 L163.2,503.7 L161.1,502.1 L159.0,500.6 L156.9,501.1 L154.9,502.4 L152.8,507.6 L150.7,502.3 L148.6,503.1 L146.5,507.9 L144.4,503.7 L142.3,504.8 L140.3,502.9 L138.2,508.6 L136.1,504.1 L134.0,506.0Z" fill="#F5A855" fill-opacity="0.17" stroke="#F5A855" stroke-opacity="0.272" stroke-width="1"/><path d="M134.0,462.4 L136.2,450.0 L138.5,458.2 L140.7,451.7 L143.0,452.8 L145.2,446.2 L147.5,455.8 L149.7,455.7 L151.8,450.6 L153.9,449.0 L156.0,428.0 L158.1,442.0 L160.2,438.8 L162.3,433.2 L164.4,414.5 L166.5,426.7 L168.6,425.4 L170.7,422.2 L172.8,418.1 L174.9,415.3 L176.9,398.2 L179.0,409.6 L181.0,407.2 L183.0,404.6 L185.0,401.7 L187.1,399.8 L189.1,398.4 L191.1,385.5 L193.2,393.1 L195.2,391.5 L197.2,387.5 L199.3,383.1 L201.3,381.8 L203.3,378.7 L205.3,377.6 L207.4,374.0 L209.4,372.4 L211.4,371.9 L213.5,373.4 L215.5,363.9 L217.5,361.0 L219.6,371.8 L221.6,369.6 L223.6,355.1 L225.7,370.6 L227.7,371.6 L229.8,370.0 L231.8,371.3 L233.8,370.6 L235.9,370.9 L237.9,364.2 L239.9,371.4 L242.0,372.2 L244.0,355.3 L246.1,368.6 L248.2,367.3 L250.3,365.8 L252.4,365.1 L254.5,364.3 L256.6,354.5 L258.7,362.4 L260.7,364.7 L262.8,364.0 L264.9,350.6 L267.0,362.4 L269.1,363.1 L271.2,362.5 L273.3,360.3 L275.4,356.2 L277.5,359.1 L279.5,355.6 L281.6,355.8 L283.6,355.1 L285.7,355.2 L287.7,351.7 L289.8,350.7 L291.8,350.8 L293.9,347.5 L295.9,347.3 L298.0,345.9 L300.0,346.0 L302.1,342.4 L304.1,341.3 L306.2,333.7 L308.2,328.9 L310.3,335.7 L312.3,329.3 L314.4,336.7 L316.4,322.2 L318.5,325.7 L320.5,329.1 L322.6,328.4 L324.6,327.4 L326.7,328.3 L328.7,325.4 L330.7,311.4 L332.7,326.6 L334.8,326.0 L336.8,324.7 L338.8,323.8 L340.8,324.9 L342.9,322.5 L344.9,321.1 L346.9,320.1 L348.9,321.8 L351.0,319.5 L353.0,321.3 L355.0,321.9 L357.0,320.4 L359.1,319.3 L361.1,317.4 L363.1,317.9 L365.1,312.1 L367.2,316.8 L369.2,310.5 L371.2,315.8 L373.2,313.8 L375.3,302.3 L377.3,313.6 L379.3,313.0 L381.3,313.1 L383.4,312.9 L385.4,313.9 L387.4,312.7 L389.4,304.1 L391.5,308.8 L393.5,309.9 L395.5,298.1 L397.5,307.3 L399.5,306.7 L401.6,305.0 L403.6,291.9 L405.6,302.3 L407.6,302.3 L409.7,302.7 L411.7,286.2 L413.7,299.5 L415.7,296.7 L417.7,295.8 L419.8,282.8 L421.8,292.9 L423.8,292.6 L425.8,281.3 L427.8,289.9 L429.9,291.0 L431.9,291.0 L433.9,289.5 L435.9,289.5 L438.0,288.9 L440.0,286.8 L442.0,283.0 L444.0,283.6 L446.0,282.2 L448.1,272.5 L450.1,266.1 L452.1,278.1 L454.1,263.9 L456.1,274.1 L458.2,264.2 L460.2,274.2 L462.2,274.2 L464.2,272.1 L466.3,269.4 L468.3,267.6 L470.3,268.0 L472.3,269.2 L474.3,268.4 L476.4,259.5 L478.4,263.9 L480.4,264.9 L482.4,265.7 L484.4,254.8 L486.5,245.5 L488.5,250.1 L490.5,257.4 L492.5,257.8 L494.6,258.5 L496.6,257.7 L498.6,256.2 L500.6,252.9 L502.6,253.8 L504.7,252.3 L506.7,251.5 L508.7,248.6 L510.7,249.2 L512.8,247.0 L514.8,244.5 L516.8,245.8 L518.8,245.3 L520.8,243.0 L522.9,240.5 L524.9,226.6 L526.9,240.1 L528.9,227.1 L531.0,229.5 L533.0,225.6 L535.0,221.0 L537.0,234.6 L539.1,234.0 L541.1,235.4 L543.1,236.7 L545.1,234.6 L547.2,233.1 L549.2,234.7 L551.2,233.3 L553.2,232.2 L555.3,220.3 L557.3,232.6 L559.3,220.7 L561.3,230.8 L563.4,228.6 L565.4,226.6 L567.4,228.4 L569.4,229.6 L571.5,229.7 L573.5,228.4 L575.5,213.4 L577.5,223.7 L579.6,213.2 L581.6,222.6 L583.6,224.7 L585.6,223.9 L587.7,223.9 L589.7,221.0 L591.7,220.3 L593.8,220.7 L595.8,213.2 L597.8,218.7 L599.8,219.8 L601.9,220.5 L603.9,220.7 L605.9,218.6 L608.0,218.0 L610.0,217.4 L612.0,216.7 L614.0,209.8 L616.1,202.9 L618.1,214.2 L620.1,198.4 L622.2,212.7 L624.2,202.2 L626.2,210.0 L628.3,209.1 L630.3,207.5 L632.3,207.4 L634.3,193.5 L636.4,208.4 L638.4,207.1 L640.4,201.9 L642.5,205.8 L644.5,198.8 L646.5,203.6 L648.5,203.1 L650.6,192.4 L652.6,204.2 L654.6,201.8 L656.7,201.2 L658.7,202.0 L660.7,202.2 L662.7,199.8 L664.8,200.1 L666.8,198.3 L668.8,198.5 L670.8,198.7 L672.9,199.2 L674.9,199.1 L676.9,197.4 L678.9,199.4 L681.0,190.6 L683.0,197.4 L685.0,198.5 L687.0,197.1 L689.1,181.6 L691.1,194.8 L693.1,184.4 L695.1,193.1 L697.2,182.4 L699.2,193.3 L701.2,191.8 L703.2,187.2 L705.3,191.0 L707.3,180.4 L709.3,190.1 L711.3,191.0 L713.4,190.8 L715.4,189.1 L717.4,191.0 L719.5,190.4 L721.5,188.0 L723.5,187.3 L725.5,182.4 L727.6,190.2 L729.6,189.5 L731.6,186.8 L733.7,187.2 L735.7,185.8 L737.7,185.6 L739.7,186.9 L741.8,170.8 L743.8,186.3 L745.8,174.1 L747.9,182.9 L749.9,185.1 L751.9,184.2 L754.0,186.0 L756.0,172.6 L758.0,183.4 L760.0,183.2 L762.1,173.4 L764.1,184.1 L766.1,184.6 L768.2,185.1 L770.2,181.9 L772.2,164.5 L774.2,181.7 L776.3,182.6 L778.3,182.2 L780.5,172.8 L782.8,179.2 L785.0,179.4 L787.3,180.2 L789.5,182.0 L791.8,172.3 L794.0,181.7 L794.0,312.3 L791.8,304.1 L789.5,305.6 L787.3,308.4 L785.0,308.1 L782.8,307.2 L780.5,306.0 L778.3,305.0 L776.2,305.6 L774.1,307.3 L772.0,307.6 L769.9,307.9 L767.8,310.0 L765.7,310.9 L763.6,315.8 L761.5,310.0 L759.4,311.9 L757.3,310.0 L755.3,327.6 L753.2,310.9 L751.1,311.0 L749.0,310.9 L746.9,312.9 L744.8,312.8 L742.7,313.0 L740.6,314.5 L738.5,315.3 L736.4,330.4 L734.3,316.8 L732.2,323.7 L730.1,330.7 L728.0,321.3 L725.9,321.0 L723.8,320.9 L721.7,322.3 L719.6,332.7 L717.5,324.3 L715.4,335.2 L713.3,331.1 L711.2,324.5 L709.2,340.6 L707.1,326.9 L705.0,326.9 L702.9,328.5 L700.8,328.4 L698.7,330.5 L696.6,329.2 L694.5,335.4 L692.4,342.5 L690.3,327.9 L688.2,329.8 L686.1,340.1 L684.0,333.8 L681.9,331.7 L679.8,334.1 L677.7,333.1 L675.6,332.8 L673.5,332.9 L671.4,340.6 L669.3,332.4 L667.2,330.8 L665.2,332.2 L663.1,331.6 L661.0,331.0 L658.9,329.1 L656.8,331.0 L654.7,344.6 L652.6,335.3 L650.5,327.5 L648.4,341.6 L646.3,341.9 L644.2,343.0 L642.1,343.1 L640.0,331.0 L637.9,333.6 L635.8,331.8 L633.7,333.1 L631.6,342.1 L629.5,334.1 L627.4,334.8 L625.3,337.5 L623.2,338.2 L621.1,348.3 L619.1,340.1 L617.0,342.0 L614.9,342.0 L612.8,341.1 L610.7,350.9 L608.6,343.1 L606.5,344.6 L604.4,344.6 L602.3,347.6 L600.2,347.3 L598.1,349.5 L596.0,349.2 L593.9,348.7 L591.8,351.4 L589.7,351.3 L587.6,349.5 L585.5,349.5 L583.4,351.2 L581.3,354.1 L579.2,366.7 L577.1,353.7 L575.1,353.3 L573.0,356.1 L570.9,363.3 L568.8,359.0 L566.7,358.7 L564.6,357.7 L562.5,357.1 L560.4,368.5 L558.3,360.7 L556.2,358.0 L554.1,358.7 L552.0,359.0 L549.9,358.2 L547.8,371.3 L545.7,357.9 L543.6,359.7 L541.5,358.2 L539.4,356.4 L537.3,356.8 L535.2,368.6 L533.1,355.8 L531.1,364.1 L529.0,354.1 L526.9,352.1 L524.8,354.4 L522.7,355.7 L520.6,356.7 L518.5,357.7 L516.4,357.0 L514.3,368.2 L512.2,358.3 L510.1,374.1 L508.0,371.1 L505.9,362.6 L503.8,361.5 L501.7,362.5 L499.6,377.4 L497.5,362.4 L495.4,364.1 L493.3,365.2 L491.2,366.6 L489.1,368.0 L487.0,379.3 L485.0,368.8 L482.9,368.6 L480.8,366.6 L478.7,368.0 L476.6,382.2 L474.5,370.0 L472.4,368.9 L470.3,376.6 L468.2,375.4 L466.1,378.6 L464.0,371.1 L462.0,371.1 L459.9,377.1 L457.9,372.7 L455.9,376.7 L453.9,392.7 L451.8,380.5 L449.8,381.4 L447.8,381.2 L445.8,382.3 L443.7,393.1 L441.7,385.8 L439.7,396.7 L437.7,394.8 L435.6,405.9 L433.6,394.2 L431.6,395.7 L429.6,397.4 L427.5,397.3 L425.5,398.9 L423.5,400.5 L421.5,402.4 L419.4,404.5 L417.4,405.6 L415.4,406.2 L413.4,409.5 L411.3,409.7 L409.3,410.2 L407.3,423.0 L405.3,420.2 L403.2,415.6 L401.2,416.0 L398.9,420.0 L396.7,419.4 L394.4,419.0 L392.2,420.2 L389.9,433.0 L387.7,430.5 L385.4,435.7 L382.7,433.1 L380.0,453.7 L377.8,447.8 L375.7,442.6 L373.6,442.2 L371.4,440.5 L369.3,440.9 L367.1,442.1 L365.0,441.6 L362.9,441.0 L360.7,441.5 L358.6,442.3 L356.5,444.7 L354.5,444.4 L352.5,444.9 L350.4,442.2 L348.4,452.7 L346.4,443.2 L344.3,444.9 L342.3,446.2 L340.3,446.8 L338.2,447.4 L336.2,446.3 L334.2,459.3 L332.2,448.6 L330.1,448.8 L328.1,448.3 L326.1,447.6 L324.0,446.1 L322.0,444.2 L320.0,445.4 L317.9,447.7 L315.9,445.3 L313.9,452.8 L311.8,446.4 L309.8,448.5 L307.8,447.7 L305.7,447.1 L303.7,447.1 L301.7,453.0 L299.6,449.0 L297.6,447.0 L295.6,449.5 L293.5,448.6 L291.5,450.9 L289.5,450.3 L287.4,464.4 L285.4,450.9 L283.4,453.3 L281.3,456.5 L279.3,456.3 L277.2,464.8 L275.1,453.2 L273.0,455.4 L270.9,461.7 L268.7,457.5 L266.6,458.4 L264.5,464.7 L262.4,471.7 L260.3,454.2 L258.2,468.1 L256.1,471.1 L253.9,460.3 L251.8,461.1 L249.7,456.0 L247.6,456.9 L245.6,458.3 L243.5,459.9 L241.5,462.5 L239.5,462.2 L237.4,462.3 L235.4,463.0 L233.4,464.7 L231.3,466.2 L229.3,469.5 L227.3,468.8 L225.3,469.4 L223.2,472.5 L221.2,482.7 L219.2,475.2 L217.1,475.9 L215.1,474.8 L213.1,474.6 L211.1,476.9 L209.1,476.4 L207.0,494.1 L205.0,478.1 L203.0,488.6 L201.0,497.4 L199.0,485.0 L196.9,490.1 L194.9,486.6 L192.9,503.0 L190.9,498.9 L188.9,489.8 L186.8,495.5 L184.8,488.6 L182.8,491.1 L180.7,490.8 L178.7,506.5 L176.7,491.4 L174.6,493.3 L172.6,494.1 L170.6,493.1 L168.5,492.4 L166.5,500.9 L164.5,490.8 L162.5,498.4 L160.4,506.4 L158.4,494.4 L156.4,496.1 L154.3,495.4 L152.3,493.4 L150.3,493.1 L148.2,493.6 L146.2,494.9 L144.2,496.0 L142.1,496.6 L140.1,513.9 L138.1,498.5 L136.0,496.6 L134.0,497.5Z" fill="#6ABF6E" fill-opacity="0.1" stroke="#6ABF6E" stroke-opacity="0.16000000000000003" stroke-width="1"/><path d="M134.0,430.8 L136.1,411.1 L138.2,394.6 L140.3,377.8 L142.4,364.6 L144.5,353.2 L146.6,341.8 L148.7,337.1 L150.8,331.5 L152.8,328.2 L154.9,323.1 L157.0,318.8 L159.1,316.6 L162.3,292.8 L164.4,293.1 L166.5,291.4 L168.6,288.8 L170.7,280.7 L172.8,286.0 L174.9,287.3 L177.0,278.3 L179.0,270.4 L181.1,262.0 L183.2,256.9 L185.3,250.2 L187.4,246.5 L189.5,242.9 L191.6,239.2 L193.7,236.6 L195.8,229.6 L197.9,224.4 L200.0,219.4 L202.0,216.2 L204.0,212.7 L206.0,209.4 L208.1,199.5 L210.1,204.0 L212.1,202.9 L214.1,197.9 L216.1,198.8 L218.2,197.5 L220.2,195.2 L222.2,199.5 L224.2,201.2 L226.3,199.4 L228.3,196.3 L230.5,196.5 L232.8,194.3 L235.0,190.9 L237.3,189.0 L239.5,189.5 L241.8,187.4 L244.0,183.4 L246.1,184.9 L248.2,182.5 L250.3,183.4 L252.4,182.6 L254.5,179.6 L256.6,180.5 L258.6,173.7 L260.7,178.5 L262.8,175.9 L264.9,179.1 L267.0,178.8 L269.1,179.2 L271.4,178.4 L273.6,182.2 L275.9,180.7 L278.1,185.0 L280.4,185.0 L282.6,188.9 L284.9,192.6 L286.9,190.3 L288.9,181.7 L290.9,187.0 L292.9,185.9 L294.9,183.6 L296.9,182.4 L298.9,172.7 L300.9,177.2 L302.9,174.0 L304.9,171.9 L306.9,169.8 L309.1,173.3 L311.4,175.0 L313.6,173.2 L315.9,178.9 L318.1,179.7 L320.4,181.2 L322.6,185.3 L324.8,183.7 L327.1,183.1 L329.3,183.1 L331.6,182.1 L333.8,181.6 L336.1,179.2 L338.3,176.5 L340.5,176.0 L342.8,178.7 L345.0,175.2 L347.3,181.9 L349.5,180.8 L351.8,183.4 L354.0,183.2 L356.1,184.2 L358.2,183.9 L360.3,181.9 L362.4,180.3 L364.5,180.6 L366.6,180.8 L368.7,180.2 L370.8,172.6 L372.9,180.0 L374.9,178.7 L376.9,178.3 L379.0,180.8 L381.0,181.2 L383.0,182.5 L385.0,183.0 L387.0,180.0 L389.1,180.3 L391.1,178.4 L393.1,179.3 L395.1,181.1 L397.2,182.3 L399.2,182.3 L401.2,181.7 L403.2,181.8 L405.3,178.1 L407.3,179.9 L409.4,181.3 L411.4,181.0 L413.5,181.7 L415.5,181.2 L417.6,179.6 L419.6,179.4 L421.7,177.5 L423.7,176.9 L425.8,179.1 L427.8,175.4 L429.9,178.2 L431.9,176.9 L434.0,174.5 L436.0,176.3 L438.1,177.5 L440.1,177.4 L442.2,178.1 L444.2,180.0 L446.3,180.2 L448.3,179.6 L450.5,179.1 L452.7,178.2 L454.9,176.9 L457.1,179.8 L459.3,180.2 L461.5,181.7 L463.7,180.6 L464.0,183.2 L466.1,183.7 L468.2,181.5 L470.3,181.4 L472.4,178.2 L474.5,177.3 L476.6,178.2 L478.7,177.5 L480.7,177.2 L482.8,176.9 L484.9,176.6 L487.0,174.4 L489.1,174.9 L491.2,173.6 L493.3,174.2 L495.4,175.2 L497.5,176.3 L499.6,173.3 L501.7,171.5 L503.8,171.8 L505.9,172.2 L508.0,171.1 L510.1,173.0 L512.2,174.4 L514.3,176.2 L516.4,173.8 L518.5,174.1 L520.6,174.5 L522.7,172.7 L524.8,172.2 L526.9,174.5 L529.0,174.3 L531.1,173.2 L533.2,174.7 L535.3,175.5 L537.4,174.4 L539.5,172.9 L541.6,172.7 L543.6,171.4 L545.7,172.3 L547.8,172.9 L549.9,173.3 L552.0,172.3 L554.1,172.4 L556.2,172.5 L558.3,174.9 L560.4,175.9 L562.5,174.5 L564.6,174.7 L566.7,174.8 L568.8,174.3 L570.9,175.1 L573.0,173.5 L575.0,172.9 L577.1,172.3 L579.2,173.0 L581.3,171.7 L583.4,171.6 L585.5,174.3 L587.6,175.3 L589.7,174.2 L591.8,173.3 L593.9,174.2 L596.0,174.9 L598.1,175.4 L600.2,175.2 L602.3,171.0 L604.4,167.5 L606.4,173.1 L608.5,173.4 L610.6,174.7 L612.7,174.7 L614.8,176.2 L616.9,176.2 L619.0,174.3 L621.1,174.4 L623.2,176.1 L625.3,175.6 L627.4,171.9 L629.5,176.2 L631.6,176.1 L633.7,173.3 L635.8,174.9 L637.9,175.8 L640.0,173.5 L642.1,173.5 L644.2,174.6 L646.3,175.6 L648.4,170.0 L650.5,171.9 L652.6,174.9 L654.7,176.3 L656.8,174.8 L658.9,173.1 L661.0,168.3 L663.1,170.3 L665.2,173.7 L667.3,175.7 L669.3,175.2 L671.4,174.7 L673.5,173.8 L675.6,172.8 L677.7,173.0 L679.8,171.2 L681.9,174.2 L684.0,172.2 L686.1,177.4 L688.2,176.2 L690.3,177.2 L692.4,178.3 L694.5,174.7 L696.6,177.4 L698.7,175.5 L700.7,175.1 L702.8,176.1 L704.9,176.3 L707.0,177.4 L709.1,175.7 L711.2,172.6 L713.3,177.4 L715.4,178.1 L717.5,178.3 L719.6,172.4 L721.7,176.9 L723.8,176.2 L725.9,178.0 L728.0,177.9 L730.1,177.4 L732.2,177.6 L734.3,175.6 L736.4,175.5 L738.5,173.6 L740.6,172.5 L742.7,172.1 L744.8,174.2 L746.9,173.2 L748.9,174.2 L751.0,173.5 L753.0,174.5 L755.1,174.2 L757.1,172.8 L759.2,173.8 L761.2,170.3 L763.3,174.3 L765.3,176.0 L767.4,175.2 L769.4,176.7 L771.5,174.4 L773.5,172.8 L775.6,174.4 L777.6,174.5 L779.7,172.9 L781.7,174.3 L783.8,173.5 L785.8,175.1 L787.9,175.7 L789.9,173.5 L792.0,172.2 L794.0,172.6 L794.0,184.0 L792.0,185.8 L789.9,187.1 L787.9,187.0 L785.8,187.0 L783.8,185.5 L781.7,190.2 L779.7,185.8 L777.6,184.3 L775.6,185.0 L773.5,187.2 L771.5,184.8 L769.4,184.8 L767.4,185.8 L765.3,182.7 L763.3,183.6 L761.2,184.4 L759.2,184.7 L757.1,187.0 L755.1,186.0 L753.0,186.8 L751.0,185.5 L748.9,191.2 L746.9,191.4 L744.8,187.5 L742.7,188.8 L740.6,187.6 L738.5,187.6 L736.4,186.2 L734.3,185.1 L732.2,186.8 L730.1,186.6 L728.0,185.9 L725.9,187.9 L723.8,190.3 L721.7,189.5 L719.6,188.3 L717.5,189.1 L715.4,192.0 L713.3,190.6 L711.2,189.1 L709.1,191.3 L707.0,190.1 L704.9,191.1 L702.8,189.5 L700.7,186.9 L698.7,186.1 L696.6,186.6 L694.5,188.6 L692.4,186.5 L690.3,188.2 L688.2,187.4 L686.1,188.4 L684.0,186.2 L681.9,187.3 L679.8,185.1 L677.7,184.8 L675.6,184.8 L673.5,186.2 L671.4,187.6 L669.3,186.4 L667.3,188.2 L665.2,188.2 L663.1,188.1 L661.0,186.7 L658.9,189.0 L656.8,187.5 L654.7,186.3 L652.6,186.5 L650.5,186.7 L648.4,184.5 L646.3,186.4 L644.2,186.5 L642.1,186.4 L640.0,183.9 L637.9,185.5 L635.8,183.7 L633.7,184.1 L631.6,183.9 L629.5,185.7 L627.4,185.4 L625.3,185.2 L623.2,183.0 L621.1,183.2 L619.0,183.9 L616.9,184.2 L614.8,186.0 L612.7,186.3 L610.6,186.5 L608.5,185.7 L606.4,186.8 L604.4,186.1 L602.3,185.6 L600.2,182.3 L598.1,182.4 L596.0,182.7 L593.9,184.2 L591.8,192.0 L589.7,187.7 L587.6,186.6 L585.5,184.6 L583.4,183.6 L581.3,183.6 L579.2,185.7 L577.1,185.8 L575.0,187.1 L573.0,185.1 L570.9,188.0 L568.8,185.3 L566.7,187.0 L564.6,185.3 L562.5,185.9 L560.4,187.0 L558.3,185.9 L556.2,188.0 L554.1,188.2 L552.0,187.5 L549.9,186.3 L547.8,184.8 L545.7,186.2 L543.6,186.6 L541.6,184.7 L539.5,190.1 L537.4,187.1 L535.3,188.4 L533.2,187.8 L531.1,187.3 L529.0,186.5 L526.9,184.9 L524.8,186.0 L522.7,187.2 L520.6,186.8 L518.5,184.8 L516.4,186.3 L514.3,188.1 L512.2,190.0 L510.1,189.8 L508.0,190.1 L505.9,189.4 L503.8,188.8 L501.7,189.3 L499.6,188.1 L497.5,188.9 L495.4,187.7 L493.3,191.2 L491.2,191.2 L489.1,190.2 L487.0,190.6 L484.9,191.4 L482.8,194.0 L480.7,192.9 L478.7,197.6 L476.6,202.6 L474.5,197.0 L472.4,197.0 L470.3,205.3 L468.2,198.9 L466.1,201.0 L464.0,200.7 L463.7,204.1 L461.5,202.8 L459.3,203.3 L457.1,204.9 L454.9,205.6 L452.7,206.9 L450.5,207.4 L448.3,207.7 L446.2,209.3 L444.1,210.5 L442.0,209.1 L439.9,208.5 L437.8,211.7 L435.7,210.9 L433.6,210.0 L431.6,213.1 L429.5,208.1 L427.4,208.1 L425.3,208.6 L423.2,207.2 L421.1,207.4 L419.0,208.3 L416.9,210.0 L414.8,214.1 L412.7,210.8 L410.6,209.7 L408.5,209.7 L406.4,212.2 L404.3,213.3 L402.2,212.4 L400.1,210.6 L398.0,212.3 L395.9,212.9 L393.8,211.8 L391.7,213.1 L389.6,212.3 L387.5,212.4 L385.4,213.2 L383.3,212.5 L381.2,213.0 L379.1,212.8 L377.0,214.8 L374.9,213.2 L372.8,214.5 L370.7,212.0 L368.7,214.1 L366.6,215.9 L364.5,217.0 L362.4,215.6 L360.3,213.8 L358.2,215.8 L356.1,214.9 L354.0,214.2 L351.9,216.3 L349.8,214.5 L347.7,216.3 L345.6,217.5 L343.5,215.6 L341.4,216.8 L339.4,216.4 L337.3,219.2 L335.2,218.7 L333.1,218.1 L331.0,217.9 L328.9,217.8 L326.8,220.3 L324.7,222.1 L322.6,223.3 L320.5,224.4 L318.4,230.0 L316.3,227.5 L314.2,227.6 L312.1,227.1 L310.0,230.0 L307.9,230.0 L305.8,230.0 L303.7,229.7 L301.6,231.7 L299.5,232.9 L297.4,235.3 L295.3,236.9 L293.2,238.0 L291.1,238.7 L289.0,238.4 L286.9,238.2 L284.8,239.5 L282.7,239.5 L280.7,238.5 L278.6,235.7 L276.5,244.0 L274.4,235.0 L272.3,233.2 L270.2,233.7 L268.1,235.7 L266.0,233.9 L263.9,233.8 L261.8,234.3 L259.7,232.8 L257.6,232.7 L255.5,232.7 L253.4,236.3 L251.3,237.1 L249.3,235.7 L247.2,236.2 L245.1,237.5 L243.0,238.5 L240.9,239.2 L238.8,243.5 L236.7,245.4 L234.6,248.3 L232.5,255.2 L230.4,255.4 L228.3,257.6 L226.2,258.2 L224.1,256.8 L222.0,256.1 L219.9,256.2 L217.8,254.4 L215.7,253.3 L213.6,263.5 L211.5,260.0 L209.4,262.3 L207.3,264.2 L205.3,266.2 L203.2,269.0 L201.1,270.5 L199.0,271.3 L196.9,272.3 L194.8,276.7 L192.7,282.1 L190.6,285.6 L188.5,291.1 L186.4,294.5 L184.3,300.1 L182.0,301.8 L179.6,304.8 L177.2,308.9 L174.9,310.3 L172.6,321.9 L170.4,318.5 L168.1,323.6 L165.9,329.3 L163.6,335.3 L161.4,339.9 L159.1,344.0 L157.0,347.9 L154.9,351.4 L152.8,356.4 L150.8,360.5 L148.7,363.2 L146.6,367.8 L144.5,382.0 L142.4,397.5 L140.3,408.4 L138.2,424.7 L136.1,437.8 L134.0,453.7Z" fill="#5A8DDD" fill-opacity="0.2" stroke="#5A8DDD" stroke-opacity="0.32000000000000006" stroke-width="1"/><path d="M134.0,474.5 L136.1,474.0 L138.2,470.4 L140.3,469.4 L142.4,466.5 L144.5,464.3 L146.6,464.4 L148.7,462.5 L150.7,460.4 L152.8,460.4 L154.9,458.9 L157.0,457.9 L159.1,454.3 L161.2,453.0 L163.3,450.6 L165.4,449.6 L168.3,456.3 L170.4,451.5 L172.5,447.8 L174.5,442.9 L176.6,439.4 L178.6,436.6 L180.7,428.6 L182.7,428.4 L184.8,423.1 L186.8,417.7 L189.0,415.5 L191.2,405.9 L193.4,408.8 L195.6,407.3 L197.8,404.8 L200.1,401.5 L202.3,397.8 L204.5,400.5 L206.7,397.4 L208.9,398.5 L211.1,396.7 L213.3,396.5 L215.5,394.3 L217.7,393.0 L219.9,394.3 L222.1,393.3 L224.3,392.8 L226.5,391.2 L228.7,388.7 L230.9,385.6 L233.1,380.9 L235.3,383.4 L237.5,378.9 L239.7,374.1 L241.9,378.3 L244.1,375.5 L246.3,373.7 L248.5,370.7 L250.7,368.5 L252.9,368.9 L255.1,368.0 L257.3,367.3 L259.5,367.3 L261.7,365.4 L263.9,364.2 L266.1,363.6 L268.2,362.2 L270.3,357.7 L272.4,360.3 L274.6,358.3 L276.7,356.3 L278.9,346.5 L281.2,349.6 L283.5,346.9 L285.7,344.6 L288.0,343.7 L290.3,341.0 L292.5,337.9 L294.6,337.0 L296.6,338.1 L298.6,336.4 L300.6,336.2 L302.7,335.2 L304.7,335.1 L306.7,334.4 L308.8,335.2 L310.8,335.2 L312.8,331.9 L314.9,330.9 L316.9,329.8 L318.9,330.9 L322.6,306.5 L324.7,306.3 L326.8,305.0 L328.9,301.4 L331.0,298.6 L333.1,296.6 L335.2,298.2 L337.3,296.6 L339.3,294.9 L341.4,295.3 L343.5,293.3 L345.6,290.4 L347.7,287.9 L349.8,285.1 L351.9,286.6 L354.0,283.8 L356.1,278.4 L358.2,282.2 L360.3,282.1 L362.4,278.0 L364.5,274.7 L366.6,275.7 L368.7,274.8 L370.8,273.9 L372.9,272.1 L375.0,268.1 L377.1,266.5 L379.2,264.2 L381.4,262.4 L383.7,259.4 L385.9,252.7 L388.2,249.2 L390.4,244.4 L392.7,239.5 L394.9,237.7 L397.1,237.2 L399.4,239.2 L401.6,237.9 L403.9,239.2 L406.1,239.4 L408.4,240.9 L410.6,235.4 L412.7,234.4 L414.8,236.9 L416.9,234.3 L419.0,232.2 L421.0,229.1 L423.1,226.9 L425.2,224.8 L427.3,223.7 L429.4,220.8 L431.4,221.6 L433.5,219.8 L435.5,220.5 L437.5,219.6 L439.6,214.1 L441.6,217.0 L443.6,214.5 L445.6,211.5 L447.7,206.4 L449.7,211.7 L451.7,209.0 L453.8,208.4 L455.8,205.9 L457.8,204.7 L459.9,205.0 L461.9,203.6 L463.9,201.9 L466.0,202.7 L468.0,200.1 L470.0,199.7 L472.1,197.7 L474.1,194.8 L476.1,194.6 L478.1,191.9 L480.2,191.3 L482.2,190.8 L484.2,190.5 L486.3,187.2 L488.3,186.8 L490.3,185.5 L492.4,185.6 L494.4,182.8 L496.4,176.4 L498.5,182.1 L500.5,180.3 L502.5,177.6 L504.6,179.2 L506.6,178.2 L508.6,178.3 L510.6,175.0 L512.7,173.0 L514.7,172.7 L516.7,165.2 L518.8,164.7 L520.8,168.9 L522.8,167.7 L524.9,168.1 L526.9,164.9 L529.0,162.8 L531.1,163.1 L533.2,161.4 L535.3,161.4 L537.4,159.9 L539.5,160.3 L541.6,160.6 L543.6,160.4 L545.7,158.3 L547.8,155.8 L549.9,155.7 L552.0,155.3 L554.1,153.7 L556.2,155.2 L558.3,151.7 L560.5,152.2 L562.8,155.4 L565.0,157.3 L567.3,157.3 L569.5,157.7 L571.8,160.3 L574.0,161.7 L576.2,159.7 L578.5,159.7 L580.7,159.2 L583.0,157.7 L585.2,156.8 L587.5,154.1 L589.7,151.3 L591.8,152.2 L593.9,152.8 L596.0,152.3 L598.1,154.7 L600.2,154.0 L602.3,158.2 L604.4,159.7 L606.4,157.7 L608.5,159.2 L610.6,159.8 L612.7,158.5 L614.8,159.2 L616.9,158.7 L619.0,160.7 L621.1,161.7 L623.2,163.5 L625.3,161.3 L627.4,161.4 L629.5,161.6 L631.6,161.2 L633.7,162.8 L635.8,163.5 L637.9,162.4 L640.0,161.7 L642.1,159.5 L644.2,153.6 L646.3,158.8 L648.4,158.1 L650.5,156.9 L652.6,158.7 L654.7,159.5 L656.8,159.3 L658.9,160.4 L661.0,158.5 L663.1,160.1 L665.2,157.8 L667.3,157.7 L669.3,156.7 L671.4,156.0 L673.5,156.2 L675.6,154.9 L677.7,159.0 L679.8,152.4 L681.9,155.9 L684.0,154.8 L686.1,156.8 L688.2,157.1 L690.3,157.9 L692.4,155.0 L694.5,155.0 L696.6,156.7 L698.7,157.2 L700.7,155.5 L702.8,156.5 L704.9,154.9 L707.0,153.8 L709.1,154.1 L711.2,152.3 L713.3,153.2 L715.4,152.6 L717.5,154.2 L719.6,152.9 L721.7,149.4 L723.8,152.5 L725.9,151.5 L728.0,150.1 L730.1,151.4 L732.2,150.3 L734.3,151.0 L736.4,148.8 L738.5,147.2 L740.6,145.3 L742.7,144.1 L744.8,144.4 L746.9,146.0 L749.0,145.6 L751.1,144.3 L753.2,145.5 L755.3,146.3 L757.4,145.8 L759.5,142.9 L761.6,141.6 L763.6,142.1 L765.7,142.7 L767.8,133.2 L769.9,140.7 L772.0,141.1 L774.1,139.3 L776.2,139.3 L778.3,138.5 L780.5,137.9 L782.8,139.0 L785.0,139.1 L787.3,135.5 L789.5,137.2 L791.8,136.9 L794.0,138.8 L794.0,343.4 L791.8,342.2 L789.5,337.9 L787.3,332.9 L785.0,330.5 L782.8,327.3 L780.5,326.8 L778.3,323.6 L776.1,323.5 L773.8,324.9 L771.6,326.9 L769.3,327.1 L767.1,325.7 L764.8,325.6 L762.6,327.2 L760.2,332.6 L757.9,334.3 L755.6,339.6 L753.2,346.5 L751.1,345.3 L749.0,344.2 L746.9,342.0 L744.8,343.4 L742.7,344.7 L740.6,346.7 L738.5,344.8 L736.4,346.1 L734.3,345.6 L732.2,346.3 L730.1,342.8 L728.0,347.4 L725.9,345.7 L723.8,340.0 L721.7,338.2 L719.6,337.9 L717.5,336.5 L715.4,336.1 L713.3,339.4 L711.2,340.5 L709.1,340.1 L707.0,342.4 L705.0,345.4 L702.9,350.0 L700.8,352.8 L698.7,353.3 L696.6,354.3 L694.5,350.9 L692.4,346.4 L690.3,342.6 L688.2,339.9 L686.1,337.5 L684.0,334.1 L681.9,333.9 L679.8,338.0 L677.7,339.9 L675.6,342.6 L673.6,349.9 L671.5,346.8 L669.4,348.5 L667.3,353.0 L665.2,353.2 L663.1,355.0 L661.0,358.4 L658.9,358.4 L656.8,357.7 L654.7,359.6 L652.6,363.1 L650.4,358.6 L648.1,359.6 L645.9,352.4 L643.6,351.3 L641.4,343.9 L639.1,340.2 L636.9,336.9 L634.6,336.9 L632.4,337.7 L630.1,338.3 L627.9,338.5 L625.6,339.8 L623.4,341.5 L621.1,344.6 L618.9,347.5 L616.6,349.1 L614.4,352.8 L612.1,358.1 L609.9,362.3 L607.6,367.6 L605.4,371.2 L603.2,368.8 L600.9,364.3 L598.7,361.9 L596.4,358.4 L594.2,356.5 L591.9,354.8 L589.7,353.1 L587.6,353.7 L585.5,356.9 L583.4,357.6 L581.3,360.9 L579.3,361.0 L577.2,363.8 L575.1,364.6 L573.0,367.8 L570.9,368.0 L568.8,372.0 L566.7,368.7 L564.6,370.8 L562.5,369.5 L560.4,370.9 L558.3,371.8 L556.2,378.8 L554.1,370.8 L552.0,368.6 L549.9,367.3 L547.8,367.3 L545.7,365.4 L543.6,363.1 L541.5,362.8 L539.5,361.9 L537.4,363.4 L535.3,361.7 L533.2,359.2 L531.1,355.8 L529.0,353.4 L526.9,353.8 L524.8,356.0 L522.7,360.1 L520.6,361.6 L518.5,365.0 L516.4,368.1 L514.3,373.1 L512.2,374.2 L510.1,375.5 L508.0,378.7 L506.0,378.5 L504.0,380.5 L501.9,380.1 L499.9,382.4 L497.9,381.3 L495.9,381.1 L493.8,379.2 L491.8,380.4 L489.8,377.9 L487.8,379.8 L485.7,377.3 L483.7,378.9 L481.7,379.5 L479.7,379.8 L477.6,379.2 L475.6,383.0 L473.6,376.4 L471.6,377.7 L469.5,379.3 L467.5,380.0 L465.5,380.1 L463.5,378.5 L461.4,378.4 L459.4,380.3 L457.4,379.7 L455.4,377.7 L453.3,377.0 L451.3,378.6 L449.3,378.2 L447.3,375.9 L445.2,374.7 L443.2,375.3 L441.2,382.5 L439.2,377.4 L437.1,377.0 L435.1,379.3 L433.1,378.3 L431.1,377.2 L429.0,375.1 L427.0,373.4 L425.0,374.6 L423.0,376.7 L420.9,374.9 L418.9,375.0 L416.9,375.3 L414.8,376.9 L412.7,376.0 L410.6,379.0 L408.5,382.3 L406.4,381.3 L404.3,384.9 L402.2,388.6 L400.1,390.1 L398.0,392.2 L395.9,393.7 L393.8,394.6 L391.7,395.1 L389.6,395.1 L387.5,396.2 L385.4,399.7 L383.3,400.4 L381.2,403.1 L379.1,402.9 L377.0,402.4 L374.9,402.0 L372.8,404.3 L370.7,406.5 L368.7,408.6 L366.6,412.5 L364.5,410.4 L362.4,410.2 L360.3,412.5 L358.2,414.8 L356.1,417.9 L354.0,420.3 L351.9,416.3 L349.8,415.4 L347.7,417.2 L345.6,415.6 L343.5,417.0 L341.4,418.4 L339.3,417.1 L337.3,418.4 L335.2,424.2 L333.1,422.5 L331.0,422.9 L328.9,422.9 L326.8,421.8 L324.7,422.8 L322.6,425.1 L320.5,423.6 L318.4,421.5 L316.3,424.2 L314.2,421.8 L312.1,423.8 L310.0,422.3 L307.9,421.0 L305.8,422.8 L303.7,422.2 L301.6,424.3 L299.5,428.4 L297.4,423.0 L295.3,424.7 L293.2,423.5 L291.1,421.1 L289.0,424.0 L287.0,426.9 L284.9,429.1 L282.8,437.5 L280.7,440.9 L278.7,438.3 L276.6,439.0 L274.5,439.6 L272.4,441.9 L270.3,441.9 L268.3,444.0 L266.2,441.9 L264.1,442.6 L262.0,444.1 L260.0,453.0 L257.9,445.8 L255.8,448.7 L253.7,448.1 L251.7,449.0 L249.6,448.8 L247.5,448.4 L245.4,448.7 L243.4,450.7 L241.3,450.5 L239.2,461.4 L237.1,462.1 L235.0,465.4 L233.0,468.2 L230.9,468.6 L228.8,472.0 L226.7,470.5 L224.7,477.6 L222.5,480.4 L220.2,487.3 L218.0,492.9 L215.5,495.7 L213.0,497.2 L210.5,496.4 L208.1,499.9 L205.7,497.4 L203.4,494.4 L201.1,492.0 L198.8,490.5 L196.4,488.1 L194.4,490.5 L192.3,494.4 L190.2,498.5 L188.1,501.4 L185.6,498.6 L183.1,498.8 L180.6,499.4 L178.2,500.2 L175.8,500.7 L173.5,498.0 L171.2,495.8 L168.9,494.6 L166.5,491.6 L164.5,493.7 L162.5,494.9 L160.5,494.6 L158.4,494.0 L156.4,496.8 L154.4,495.0 L152.4,495.9 L150.3,494.9 L148.3,495.5 L146.3,497.8 L144.3,501.4 L142.2,499.8 L140.2,500.4 L138.2,500.7 L136.2,499.1 L134.1,499.4Z" fill="#7A4E08" fill-opacity="0.19" stroke="#7A4E08" stroke-opacity="0.30400000000000005" stroke-width="1"/><path d="M134.1,476.3 L136.0,472.1 L137.9,471.1 L139.7,468.7 L141.6,468.3 L143.3,464.8 L144.9,459.1 L146.6,451.2 L148.3,443.3 L149.9,433.8 L151.6,425.9 L153.2,419.8 L154.9,417.3 L156.6,410.7 L158.2,409.2 L159.9,406.5 L161.5,406.5 L163.2,406.5 L164.9,404.5 L166.5,402.8 L168.2,402.7 L169.9,400.1 L171.5,390.0 L173.2,378.6 L174.9,371.0 L176.8,364.8 L178.7,361.1 L180.5,359.8 L182.4,357.3 L184.3,354.9 L186.2,354.6 L188.1,355.0 L189.9,355.6 L191.8,356.2 L193.7,354.1 L195.6,353.4 L197.5,347.2 L199.3,344.0 L201.2,340.9 L203.1,336.2 L205.0,330.6 L206.9,327.8 L208.8,325.7 L210.7,322.5 L212.6,322.0 L214.5,322.0 L216.4,323.6 L218.2,327.3 L220.1,327.7 L222.0,328.6 L223.8,329.5 L225.6,325.4 L227.4,326.4 L229.2,323.7 L231.0,318.5 L232.8,315.7 L234.6,312.3 L236.7,305.7 L238.8,298.6 L240.9,295.7 L244.0,295.6 L245.9,296.9 L247.8,298.0 L249.6,294.4 L251.5,293.5 L253.4,291.4 L255.3,286.4 L257.2,285.9 L259.1,282.7 L261.0,279.1 L262.9,279.3 L264.8,277.7 L266.7,274.5 L268.5,273.4 L270.4,270.1 L272.3,265.9 L274.2,261.7 L276.1,259.4 L277.9,259.0 L279.8,257.4 L281.7,256.1 L283.6,254.7 L285.5,254.7 L287.3,254.1 L289.2,256.3 L291.1,259.3 L293.2,260.9 L295.3,263.1 L297.4,263.2 L299.3,263.4 L301.2,263.1 L303.1,258.2 L305.0,256.6 L306.9,251.7 L308.8,246.7 L310.8,243.5 L312.8,239.9 L314.7,236.1 L316.7,233.4 L318.6,228.8 L320.6,228.3 L322.6,224.4 L324.5,220.6 L326.4,216.2 L328.2,213.8 L330.1,213.0 L332.0,212.3 L333.9,211.8 L335.8,212.2 L337.6,211.5 L339.5,211.3 L341.4,214.3 L343.2,214.9 L345.0,215.2 L346.8,212.8 L348.6,216.4 L350.4,215.9 L352.2,216.2 L354.0,215.3 L355.9,213.3 L357.8,210.0 L359.6,206.3 L361.5,203.7 L363.4,199.9 L365.2,197.5 L367.0,195.0 L368.8,193.2 L370.6,190.9 L372.4,192.2 L374.2,189.4 L376.0,190.9 L377.9,191.1 L379.8,193.1 L381.6,194.1 L383.5,196.9 L385.4,196.5 L387.3,198.1 L389.2,198.0 L391.1,198.8 L393.0,199.7 L394.9,202.4 L396.8,202.2 L398.7,200.0 L400.5,196.8 L402.4,192.1 L404.3,189.5 L406.2,191.9 L408.1,193.3 L409.9,195.7 L411.8,195.6 L413.7,197.7 L415.6,197.6 L417.5,195.4 L419.4,192.3 L421.3,191.0 L423.2,192.3 L425.1,194.3 L427.0,197.2 L428.8,198.3 L430.7,202.3 L432.6,203.4 L434.5,203.0 L436.4,203.0 L438.2,203.5 L440.1,205.6 L442.0,206.0 L443.9,202.6 L445.8,201.3 L447.6,200.1 L449.5,199.1 L451.4,198.2 L453.2,195.7 L454.9,194.9 L456.7,192.5 L458.4,191.2 L460.2,188.3 L461.9,186.6 L463.7,186.0 L464.0,185.7 L465.8,183.8 L467.6,186.1 L469.4,184.9 L471.2,184.1 L473.0,184.2 L474.8,183.2 L476.6,182.8 L478.5,184.3 L480.4,187.3 L482.2,186.8 L484.1,187.9 L486.0,188.0 L487.9,191.6 L489.8,194.8 L491.6,195.5 L493.5,198.6 L495.4,199.5 L497.2,201.3 L499.0,200.5 L500.8,199.7 L502.6,198.3 L504.4,197.6 L506.2,196.0 L508.0,195.9 L509.9,192.2 L511.8,191.8 L513.6,189.4 L515.5,185.9 L517.4,180.3 L519.1,180.4 L520.9,180.6 L522.6,179.4 L524.4,178.6 L526.1,177.0 L527.9,175.8 L529.6,176.1 L531.4,173.9 L533.1,173.3 L534.9,175.2 L536.7,176.8 L538.5,177.9 L540.3,178.7 L542.1,178.1 L543.9,176.3 L545.7,177.9 L547.5,178.5 L549.3,177.7 L551.1,180.1 L552.9,180.5 L554.7,181.5 L556.5,183.9 L558.3,182.6 L560.4,180.7 L562.5,176.2 L564.6,171.6 L566.5,166.4 L568.5,165.7 L570.5,162.6 L572.4,160.8 L574.2,163.0 L576.1,164.3 L577.9,164.4 L579.7,164.4 L581.6,164.8 L583.4,165.9 L585.2,167.5 L587.0,164.8 L588.8,165.5 L590.6,163.4 L592.4,163.5 L594.2,166.1 L596.0,163.5 L597.8,162.7 L599.6,162.2 L601.4,162.8 L603.2,161.7 L605.0,160.1 L606.8,157.6 L608.6,156.1 L610.5,159.2 L612.4,159.1 L614.2,161.5 L616.1,160.1 L618.0,161.1 L619.8,158.6 L621.6,154.3 L623.4,154.6 L625.2,153.3 L627.0,149.8 L628.8,147.6 L630.6,147.4 L632.7,148.9 L634.8,151.9 L636.9,156.9 L639.0,157.9 L641.1,160.9 L643.2,161.7 L645.1,160.7 L647.0,159.4 L648.8,156.7 L650.7,155.6 L652.6,156.8 L654.4,159.0 L656.2,157.9 L658.0,156.3 L659.8,153.8 L661.6,155.0 L663.4,154.3 L665.2,153.0 L667.1,151.6 L669.0,151.9 L670.8,149.6 L672.7,150.7 L674.6,151.1 L676.4,147.4 L678.2,145.7 L680.0,145.0 L681.8,144.0 L683.6,142.7 L685.4,140.0 L687.2,142.1 L689.1,142.8 L691.0,143.5 L692.8,144.5 L694.7,147.4 L696.6,147.6 L698.5,150.4 L700.4,149.8 L702.2,150.0 L704.1,152.3 L706.0,152.1 L707.8,152.2 L709.6,152.6 L711.4,152.8 L713.2,150.7 L715.0,149.6 L716.8,148.6 L718.6,148.2 L720.3,147.8 L722.1,146.0 L723.8,143.3 L725.6,137.8 L727.3,135.2 L729.1,133.1 L730.8,132.7 L732.6,129.5 L734.3,129.1 L736.2,129.7 L738.1,133.5 L739.9,135.9 L741.8,135.6 L743.7,137.0 L745.8,135.5 L747.9,137.2 L750.0,137.2 L751.8,139.9 L753.6,139.3 L755.4,137.4 L757.2,132.0 L759.0,133.2 L760.8,131.6 L762.6,133.1 L764.4,129.7 L766.2,130.4 L768.0,130.2 L769.8,128.9 L771.6,127.9 L773.4,128.8 L775.2,128.6 L777.1,127.8 L779.0,126.6 L780.8,127.8 L782.7,128.3 L784.6,128.4 L786.5,128.0 L788.4,127.5 L790.2,131.1 L792.1,130.4 L794.0,130.6" fill="none" stroke="#EA615C" stroke-width="5" stroke-linejoin="round" stroke-linecap="round"/><path d="M134.1,484.8 L135.9,481.8 L137.6,480.1 L139.4,479.3 L141.1,477.9 L142.9,476.6 L144.7,470.8 L146.4,469.2 L148.2,468.2 L149.9,464.6 L151.6,463.1 L153.2,464.7 L154.9,463.8 L156.6,464.1 L158.2,461.2 L159.9,461.7 L161.5,461.2 L163.2,458.8 L164.9,455.5 L166.5,457.1 L168.2,457.7 L169.9,457.8 L171.5,456.6 L173.2,455.3 L174.8,452.0 L176.5,449.6 L178.2,450.8 L179.8,448.7 L181.5,446.5 L183.1,444.7 L184.8,441.1 L186.5,440.8 L188.1,440.2 L189.8,439.8 L191.4,438.0 L193.1,436.5 L194.8,437.3 L196.4,434.7 L198.1,434.3 L199.8,432.9 L201.4,428.6 L203.1,426.3 L204.7,426.0 L206.4,423.6 L208.1,421.5 L209.7,419.7 L211.4,415.5 L213.0,413.2 L214.7,407.4 L216.4,405.5 L218.0,402.3 L220.0,394.8 L222.0,388.8 L223.9,389.5 L225.8,392.3 L227.6,393.5 L229.5,396.2 L231.4,400.1 L233.2,397.3 L235.0,396.4 L236.8,393.7 L238.6,392.7 L240.4,388.2 L242.2,387.7 L244.0,383.7 L245.7,381.1 L247.5,379.8 L249.2,379.6 L251.0,380.4 L252.7,379.9 L254.5,381.6 L256.2,382.4 L258.0,383.2 L259.7,384.9 L261.5,384.8 L263.3,380.0 L265.1,378.3 L266.9,376.8 L268.7,376.6 L270.5,374.3 L272.3,372.7 L274.2,371.7 L276.1,369.7 L277.9,366.1 L279.8,363.8 L281.7,362.2 L283.6,360.2 L285.5,360.4 L287.3,359.5 L289.2,356.3 L291.1,353.3 L292.9,355.2 L294.7,355.7 L296.5,358.2 L298.3,355.4 L300.1,356.4 L301.9,352.8 L303.7,350.6 L305.5,349.6 L307.3,349.1 L309.1,348.2 L310.9,347.8 L312.7,345.6 L314.5,342.6 L316.3,341.2 L318.1,345.1 L319.9,347.1 L321.7,351.2 L323.5,351.9 L325.3,350.7 L327.1,352.6 L328.9,356.9 L330.8,358.4 L332.7,359.6 L334.5,362.6 L336.4,363.9 L338.3,360.7 L340.0,357.4 L341.6,355.0 L343.3,350.1 L344.9,347.2 L346.5,340.9 L348.2,336.8 L349.8,333.3 L351.5,331.0 L353.2,329.1 L354.9,325.6 L356.5,322.4 L358.2,321.9 L359.9,318.9 L361.6,317.7 L363.3,316.8 L365.0,316.6 L366.6,317.0 L368.3,315.8 L370.0,316.8 L371.7,315.2 L373.4,316.4 L375.3,322.5 L377.3,328.4 L379.3,332.0 L381.2,337.9 L382.9,338.9 L384.7,335.2 L386.4,335.0 L388.1,330.5 L389.8,327.3 L391.5,324.4 L393.2,321.4 L395.0,319.0 L396.6,320.0 L398.2,321.3 L399.9,323.3 L401.5,323.7 L403.1,327.3 L404.8,325.9 L406.5,325.6 L408.2,321.4 L409.9,317.2 L411.7,315.9 L413.4,310.1 L415.1,306.4 L416.8,303.1 L418.5,301.0 L420.2,301.1 L421.8,301.6 L423.4,300.7 L425.1,301.0 L426.7,301.6 L428.3,300.8 L430.0,298.3 L431.6,299.2 L433.2,298.7 L434.9,299.6 L436.5,297.8 L438.2,299.9 L439.9,301.3 L441.6,305.4 L443.4,308.2 L445.1,309.6 L446.9,309.6 L448.6,313.6 L450.4,316.5 L452.1,320.3 L453.9,321.0 L455.6,320.0 L457.3,320.6 L459.0,321.0 L460.7,319.8 L462.4,317.1 L464.2,317.4 L465.9,318.1 L467.6,316.4 L469.3,315.0 L471.0,315.9 L472.8,309.5 L474.5,308.8 L476.2,308.2 L477.9,303.5 L479.6,302.2 L481.3,301.4 L483.0,300.2 L484.7,301.0 L486.4,301.4 L488.1,301.0 L489.8,301.9 L491.5,301.0 L493.2,303.4 L494.9,302.0 L496.6,301.2 L498.3,299.9 L500.0,301.1 L501.6,298.6 L503.3,294.4 L504.9,293.3 L506.6,292.0 L508.2,289.3 L509.9,287.8 L511.5,282.9 L513.2,283.6 L514.9,284.4 L516.7,282.7 L518.4,282.5 L520.2,284.5 L522.0,285.9 L523.7,286.7 L525.5,287.1 L527.3,288.4 L529.0,288.8 L530.7,288.0 L532.5,286.6 L534.2,286.8 L535.9,290.3 L537.7,291.5 L539.4,293.7 L541.1,292.1 L542.9,292.4 L544.6,294.6 L546.3,294.1 L548.0,295.5 L549.8,294.2 L551.6,292.8 L553.3,290.9 L555.1,287.6 L556.8,284.8 L558.6,281.4 L560.4,278.4 L562.1,276.4 L563.9,274.1 L565.7,274.7 L567.4,274.2 L569.2,270.3 L570.9,270.9 L572.7,269.5 L574.5,269.2 L576.2,267.5 L578.0,267.7 L579.7,264.7 L581.6,262.5 L583.6,262.4 L585.5,259.3 L587.4,258.2 L589.3,254.8 L591.0,251.6 L592.7,250.8 L594.4,253.3 L596.2,258.1 L597.9,258.5 L599.6,258.8 L601.4,257.6 L603.1,257.3 L604.8,256.7 L606.6,256.5 L608.3,255.1 L610.0,256.0 L611.8,260.4 L613.6,261.1 L615.3,264.6 L617.1,267.1 L618.9,269.7 L620.6,272.9 L622.4,275.4 L624.1,275.1 L625.9,275.8 L627.7,275.3 L629.4,272.2 L631.2,270.8 L632.9,269.6 L634.7,267.9 L636.5,265.2 L638.2,264.1 L640.0,266.4 L641.8,267.6 L643.6,268.9 L645.4,268.8 L647.2,266.5 L649.0,264.0 L650.8,264.7 L652.6,267.9 L654.4,265.8 L656.2,262.9 L658.0,260.8 L659.8,260.2 L661.6,257.9 L663.4,255.8 L665.2,256.0 L666.9,255.5 L668.6,254.5 L670.3,252.9 L672.0,250.9 L673.7,251.9 L675.5,252.0 L677.2,252.1 L678.9,253.5 L680.6,254.6 L682.3,253.5 L684.0,254.4 L685.7,253.7 L687.5,255.5 L689.2,255.3 L691.0,254.1 L692.7,252.7 L694.5,253.6 L696.2,259.4 L698.0,260.3 L699.7,261.6 L701.4,261.7 L703.2,258.0 L704.9,258.3 L706.7,255.3 L708.4,252.5 L710.2,251.2 L711.9,251.1 L713.7,251.0 L715.4,249.2 L717.2,250.2 L718.9,249.4 L720.7,250.4 L722.4,252.6 L724.2,252.6 L725.9,253.1 L727.7,251.8 L729.4,249.7 L731.2,251.6 L732.9,252.3 L734.7,253.0 L736.4,254.1 L738.2,256.1 L739.9,258.4 L741.7,256.3 L743.4,256.0 L745.2,259.7 L746.9,258.2 L748.6,257.0 L750.4,255.8 L752.1,254.7 L753.9,253.7 L755.6,255.8 L757.4,254.1 L759.1,255.5 L760.9,254.5 L762.6,251.0 L764.3,250.3 L766.1,251.8 L767.8,251.9 L769.6,250.7 L771.3,250.0 L773.1,247.1 L774.8,248.4 L776.6,248.3 L778.3,245.6 L780.0,245.0 L781.8,241.4 L783.5,243.5 L785.3,244.7 L787.0,246.2 L788.8,245.1 L790.5,243.0 L792.3,245.5 L794.0,247.2" fill="none" stroke="#9587F7" stroke-width="5" stroke-linejoin="round" stroke-linecap="round"/><path d="M134.1,501.8 L135.7,501.6 L137.3,498.6 L139.0,498.8 L140.6,497.1 L142.2,496.4 L143.8,494.4 L145.4,492.7 L147.0,493.6 L148.6,495.0 L150.2,493.7 L151.8,493.0 L153.4,493.7 L155.0,492.9 L156.6,490.6 L158.2,489.4 L159.9,486.5 L161.5,485.3 L163.2,484.8 L164.9,484.5 L166.5,481.5 L168.2,478.2 L169.9,475.8 L171.5,474.9 L173.2,472.3 L174.8,471.7 L176.5,469.4 L178.2,468.2 L179.8,468.8 L181.5,465.9 L183.1,464.1 L184.8,463.6 L186.5,464.1 L188.1,464.3 L189.8,461.8 L191.4,462.7 L193.1,461.3 L194.8,460.1 L196.4,459.2 L198.1,459.2 L199.8,459.7 L201.4,459.9 L203.1,459.7 L204.7,459.6 L206.4,460.2 L208.1,460.4 L209.7,459.6 L211.4,459.1 L213.0,459.4 L214.7,459.9 L216.4,457.5 L218.0,456.2 L219.7,453.0 L221.3,452.7 L223.0,452.4 L224.7,451.2 L226.3,448.4 L228.0,448.3 L229.7,449.3 L231.3,448.2 L233.0,448.4 L234.6,446.1 L236.3,446.0 L238.0,442.8 L239.6,440.9 L241.3,443.0 L242.9,441.7 L244.6,442.6 L246.3,441.2 L247.9,441.9 L249.6,441.1 L251.2,440.6 L252.9,438.8 L254.6,439.4 L256.2,440.1 L257.9,439.4 L259.6,440.5 L261.2,441.5 L262.9,440.1 L264.5,438.7 L266.2,437.4 L267.9,438.0 L269.5,439.5 L271.2,440.2 L272.8,438.6 L274.5,438.1 L276.2,434.9 L278.0,433.2 L279.7,433.1 L281.4,432.1 L283.2,430.2 L284.9,427.6 L286.7,426.8 L288.5,425.6 L290.3,424.3 L292.0,425.3 L293.8,425.3 L295.6,423.6 L297.4,421.3 L299.2,422.6 L301.0,423.4 L302.8,422.2 L304.6,419.8 L306.4,418.9 L308.2,418.9 L310.0,417.9 L311.8,420.1 L313.6,418.8 L315.4,421.6 L317.2,422.1 L319.0,420.7 L320.8,423.1 L322.6,422.5 L324.3,422.1 L326.1,424.4 L327.8,422.2 L329.6,422.7 L331.3,422.7 L333.1,423.1 L334.8,423.7 L336.6,423.6 L338.3,423.0 L340.0,423.7 L341.7,421.0 L343.4,421.3 L345.0,419.6 L346.7,419.7 L348.4,420.0 L350.1,418.1 L351.8,419.2 L353.5,417.9 L355.1,418.8 L356.8,418.4 L358.5,418.1 L360.2,414.4 L361.9,412.5 L363.6,414.1 L365.2,414.3 L366.9,416.6 L368.6,416.6 L370.3,417.3 L372.0,420.9 L373.7,420.9 L375.3,420.3 L377.0,421.1 L378.6,420.5 L380.2,420.4 L381.9,421.5 L383.5,423.1 L385.2,422.2 L386.8,422.6 L388.4,419.5 L390.1,419.5 L391.7,418.8 L393.3,417.9 L395.0,418.1 L396.6,417.1 L398.2,418.2 L399.8,416.5 L401.4,416.1 L403.0,416.9 L404.6,418.8 L406.2,420.4 L407.8,419.7 L409.4,421.3 L411.0,421.0 L412.6,419.9 L414.4,420.0 L416.1,419.1 L417.8,417.7 L419.5,415.5 L421.2,413.7 L422.9,413.8 L424.7,413.1 L426.4,411.1 L428.1,410.3 L429.9,406.4 L431.6,405.8 L433.4,405.0 L435.1,401.8 L436.8,398.6 L438.6,396.8 L440.3,396.9 L442.1,395.5 L443.7,399.0 L445.4,400.3 L447.0,398.8 L448.6,400.3 L450.3,401.4 L451.9,401.2 L453.5,401.0 L455.2,399.1 L456.8,397.5 L458.4,396.1 L460.1,394.0 L461.7,391.7 L463.5,392.8 L465.2,397.9 L466.9,399.9 L468.7,401.8 L470.4,402.7 L472.2,404.3 L473.9,408.6 L475.7,410.4 L477.4,411.5 L479.1,411.2 L480.7,413.1 L482.3,414.1 L484.0,415.4 L485.6,415.6 L487.2,417.7 L489.1,416.7 L490.9,416.7 L492.7,417.0 L494.5,416.3 L496.3,415.4 L498.2,413.3 L500.0,415.8 L501.9,414.5 L503.7,413.2 L505.4,409.1 L507.2,404.7 L508.9,400.7 L510.7,398.8 L512.4,395.5 L514.2,393.3 L515.9,393.5 L517.6,395.6 L519.2,398.4 L520.9,401.3 L522.6,405.2 L524.2,410.0 L525.9,412.3 L527.7,414.0 L529.4,411.0 L531.2,411.1 L533.0,407.8 L534.8,405.4 L536.5,403.4 L538.3,404.4 L540.1,401.5 L541.9,402.3 L543.5,403.3 L545.2,406.9 L546.9,410.9 L548.5,414.4 L550.2,416.1 L551.8,417.5 L553.5,415.9 L555.2,415.6 L556.8,412.8 L558.5,411.2 L560.2,408.5 L561.8,409.6 L563.5,410.9 L565.2,412.2 L566.8,409.4 L568.5,407.3 L570.1,407.5 L571.8,405.7 L573.5,403.5 L575.1,401.1 L576.8,401.3 L578.5,400.6 L580.1,398.7 L581.8,395.0 L583.5,396.0 L585.1,396.9 L586.8,397.1 L588.4,399.1 L590.1,402.2 L591.8,403.0 L593.4,403.3 L595.1,400.3 L596.8,397.1 L598.4,396.9 L600.1,395.7 L601.8,395.1 L603.7,397.6 L605.7,397.5 L607.7,399.3 L609.7,402.5 L611.4,406.3 L613.1,407.6 L614.7,411.3 L616.4,413.6 L618.1,414.2 L619.7,416.2 L621.4,417.1 L623.0,415.2 L624.7,415.8 L626.4,415.2 L628.0,414.9 L629.7,412.2 L631.4,410.2 L633.0,410.8 L634.7,408.7 L636.4,409.5 L638.0,409.1 L639.7,407.9 L641.3,409.2 L643.0,410.9 L644.7,413.0 L646.3,414.9 L648.0,418.7 L649.7,418.5 L651.3,416.7 L653.0,410.7 L654.7,406.4 L656.3,404.7 L658.0,402.0 L659.6,398.4 L661.3,397.2 L663.0,398.8 L664.6,402.4 L666.3,402.3 L668.0,405.6 L669.6,407.6 L671.3,406.4 L673.0,404.7 L674.6,401.9 L676.3,401.8 L677.9,401.1 L679.6,397.7 L681.3,396.9 L682.9,393.0 L684.6,393.4 L686.3,389.4 L687.9,386.8 L689.6,387.5 L691.3,390.1 L693.1,394.7 L694.8,396.7 L696.6,399.7 L698.3,400.6 L700.1,403.8 L701.8,408.0 L703.6,411.0 L705.6,410.9 L707.6,410.7 L709.6,413.1 L711.6,413.5 L713.3,410.3 L715.1,407.6 L716.9,406.2 L718.7,403.2 L720.4,401.1 L722.2,400.3 L724.0,398.1 L725.8,397.1 L727.5,396.4 L729.2,396.1 L730.9,397.8 L732.5,400.8 L734.2,404.7 L735.8,409.1 L737.5,409.5 L739.3,410.5 L741.0,411.9 L742.7,410.9 L744.5,410.5 L746.2,411.8 L748.0,413.1 L749.7,412.5 L751.5,415.1 L753.2,416.0 L755.0,412.7 L756.7,411.0 L758.5,407.3 L760.2,407.0 L762.0,407.5 L763.7,404.8 L765.5,406.3 L767.2,406.3 L769.0,408.2 L770.7,407.1 L772.4,407.9 L774.2,408.3 L775.9,408.3 L777.7,409.5 L779.4,408.1 L781.1,408.4 L782.9,405.0 L784.6,401.2 L786.3,396.8 L788.0,393.1 L789.7,388.9 L791.4,386.2 L794.0,381.6" fill="none" stroke="#F5A855" stroke-width="5" stroke-linejoin="round" stroke-linecap="round"/><path d="M134.1,465.6 L136.0,469.6 L137.9,471.3 L139.7,472.4 L141.6,474.6 L143.3,476.8 L144.9,476.0 L146.6,477.7 L148.3,477.8 L149.9,475.2 L151.6,470.5 L153.2,469.8 L154.9,464.8 L156.6,462.7 L158.2,462.9 L159.9,465.1 L161.5,467.3 L163.2,472.6 L164.9,471.9 L166.5,471.1 L168.2,466.0 L169.9,460.1 L171.5,454.4 L173.2,446.4 L174.8,436.4 L176.5,429.3 L178.2,427.0 L179.8,429.5 L181.5,436.5 L183.1,441.0 L184.8,448.6 L186.5,453.7 L188.1,453.8 L189.8,453.8 L191.4,452.0 L193.1,449.5 L194.8,444.9 L196.4,444.1 L198.1,444.0 L199.8,447.1 L201.4,451.8 L203.1,454.7 L204.7,454.6 L206.4,450.2 L208.1,442.4 L209.7,435.4 L211.4,426.8 L213.0,424.7 L214.7,425.2 L216.4,429.6 L218.0,436.0 L219.7,447.9 L221.3,449.4 L223.0,449.3 L224.7,444.2 L226.3,436.1 L228.0,434.3 L229.7,435.4 L231.3,436.2 L233.0,438.2 L234.6,437.9 L236.3,437.6 L238.0,431.1 L239.6,428.2 L241.3,423.0 L242.9,421.2 L244.6,417.4 L246.3,413.9 L247.9,413.3 L249.6,412.4 L251.2,417.5 L252.9,422.2 L254.6,423.9 L256.2,427.2 L257.9,429.6 L259.6,433.3 L261.2,434.7 L262.9,435.8 L264.5,432.1 L266.2,429.6 L267.9,428.0 L269.5,427.6 L271.2,429.8 L272.8,431.5 L274.5,430.5 L276.3,426.1 L278.1,416.6 L279.9,409.2 L281.7,407.5 L283.6,405.3 L285.5,410.2 L287.3,413.0 L289.2,415.8 L291.1,418.2 L293.0,414.8 L294.9,411.6 L296.8,403.8 L298.7,400.1 L300.6,398.2 L302.4,396.0 L304.2,397.6 L306.0,395.5 L307.8,392.8 L309.6,389.0 L311.4,384.5 L313.2,385.7 L315.1,386.9 L317.0,393.7 L318.8,399.3 L320.7,401.6 L322.6,408.5 L324.5,411.1 L326.4,413.7 L328.2,417.0 L330.1,421.6 L332.0,423.5 L333.6,423.2 L335.2,415.6 L336.8,411.3 L338.4,402.0 L340.0,399.0 L341.6,393.7 L343.3,393.9 L344.9,401.2 L346.5,403.4 L348.2,408.8 L349.8,406.2 L351.5,400.7 L353.1,394.2 L354.7,389.6 L356.4,384.9 L358.0,381.1 L359.6,381.5 L361.6,384.2 L363.6,388.7 L365.5,393.2 L367.5,394.4 L369.4,395.4 L371.4,389.6 L373.4,388.0 L375.3,386.7 L377.3,386.6 L379.3,386.6 L381.2,388.2 L383.2,391.6 L385.2,392.7 L387.1,390.7 L389.1,391.7 L391.0,386.8 L393.0,379.7 L395.0,364.8 L396.9,357.7 L398.6,352.8 L400.2,352.0 L401.8,349.1 L403.5,346.6 L405.1,342.1 L406.7,339.9 L408.7,339.9 L410.7,338.7 L412.6,335.7 L414.6,333.8 L416.6,336.9 L418.5,342.1 L420.5,347.8 L422.4,346.7 L424.4,345.1 L426.4,347.1 L428.3,355.6 L430.3,364.8 L432.3,369.9 L434.2,362.6 L436.2,356.7 L438.2,352.9 L440.1,351.7 L442.1,356.8 L444.0,361.5 L446.0,359.3 L448.0,352.7 L449.9,343.8 L451.9,336.7 L453.5,333.7 L455.2,332.5 L456.8,332.7 L458.4,336.7 L460.1,336.5 L461.7,337.2 L463.4,335.1 L465.1,330.9 L466.8,327.9 L468.4,325.9 L470.1,326.3 L471.8,326.3 L473.5,324.3 L475.5,317.2 L477.4,320.6 L479.4,324.7 L481.3,325.4 L483.3,324.3 L485.3,319.8 L487.2,318.2 L489.2,315.8 L491.0,316.7 L492.8,318.6 L494.6,319.3 L496.4,322.1 L498.2,321.6 L500.0,318.8 L501.7,317.6 L503.3,311.9 L505.0,306.9 L506.7,301.2 L508.3,295.8 L510.0,294.8 L511.9,295.8 L513.8,299.7 L515.7,300.6 L517.6,303.1 L519.5,302.2 L521.3,302.3 L523.1,304.3 L524.9,304.9 L526.8,303.3 L528.6,298.6 L530.4,298.3 L532.2,295.6 L534.0,296.0 L535.8,298.5 L537.6,300.2 L539.4,302.9 L541.2,304.4 L543.1,307.2 L544.9,307.1 L546.8,305.0 L548.7,309.5 L550.6,315.8 L552.5,313.0 L554.4,312.7 L556.3,312.6 L558.2,308.8 L560.1,308.1 L562.0,304.2 L563.9,301.5 L565.8,299.3 L567.7,296.8 L569.6,291.4 L571.5,285.4 L573.4,284.0 L575.3,277.2 L577.2,272.1 L579.1,271.4 L581.0,268.4 L582.9,266.3 L584.8,261.8 L586.7,258.0 L588.6,255.4 L590.5,255.8 L592.4,261.4 L594.5,274.7 L596.7,287.0 L598.8,290.1 L600.7,288.4 L602.6,280.7 L604.5,273.5 L606.4,267.3 L608.3,262.6 L610.4,255.6 L612.5,245.6 L614.6,242.3 L616.7,246.0 L618.9,252.3 L621.0,258.7 L623.1,258.5 L625.2,255.1 L627.3,254.2 L629.4,256.8 L631.5,266.8 L633.6,276.4 L635.8,279.2 L637.9,276.7 L640.0,270.8 L642.1,269.3 L644.2,262.5 L646.3,252.3 L648.1,244.5 L649.9,237.6 L651.7,237.7 L653.5,236.9 L655.3,237.1 L657.1,234.0 L658.9,232.9 L660.7,231.9 L662.5,233.0 L664.3,239.4 L666.0,245.4 L667.8,247.1 L669.6,249.0 L671.4,254.0 L673.2,257.3 L675.0,264.3 L676.8,265.7 L678.6,266.1 L680.4,268.1 L682.2,273.5 L684.0,273.4 L685.7,273.8 L687.5,272.9 L689.2,269.4 L691.0,266.3 L692.7,264.5 L694.5,258.8 L696.2,259.2 L698.0,261.2 L699.7,260.7 L701.4,257.4 L703.2,252.5 L704.9,250.1 L706.7,250.1 L708.4,247.5 L710.2,246.9 L711.9,245.9 L713.7,244.1 L715.4,239.5 L717.2,236.3 L719.0,235.1 L720.8,232.3 L722.6,232.2 L724.4,231.3 L726.2,230.9 L728.0,231.8 L730.1,232.8 L732.2,238.9 L734.3,245.2 L736.1,244.3 L737.9,239.9 L739.7,238.6 L741.5,237.8 L743.3,236.1 L745.1,235.0 L746.9,230.2 L748.8,226.1 L750.7,219.9 L752.5,219.1 L754.4,214.0 L756.3,211.6 L758.0,210.3 L759.8,211.6 L761.5,212.1 L763.3,207.8 L765.0,209.9 L766.8,209.9 L768.5,211.3 L770.3,213.0 L772.0,217.6 L773.9,217.6 L775.8,222.8 L777.6,226.2 L779.5,227.7 L781.4,228.0 L783.2,226.2 L785.0,226.5 L786.8,222.6 L788.6,221.5 L790.4,222.3 L792.2,222.2 L794.0,223.5" fill="none" stroke="#6ABF6E" stroke-width="5" stroke-linejoin="round" stroke-linecap="round"/><path d="M134.0,440.8 L136.1,425.4 L138.2,410.5 L140.3,394.5 L142.4,379.8 L144.5,366.7 L146.6,354.9 L148.4,347.3 L150.2,344.0 L152.0,341.3 L153.7,336.3 L155.5,332.1 L157.3,328.7 L159.1,327.4 L160.9,323.9 L162.6,321.4 L164.4,317.8 L166.1,314.6 L167.9,311.3 L169.6,305.5 L171.4,302.6 L173.1,298.7 L174.9,298.0 L176.8,294.8 L178.7,290.8 L180.5,288.2 L182.4,286.5 L184.3,282.4 L186.2,280.4 L188.1,278.0 L189.9,272.2 L191.8,270.0 L193.7,265.2 L195.8,260.5 L197.9,254.2 L200.0,248.6 L201.9,244.1 L203.8,240.1 L205.6,236.2 L207.5,231.5 L209.4,226.9 L211.8,223.7 L214.1,224.4 L216.0,226.7 L217.9,228.7 L219.8,229.1 L221.7,231.0 L223.6,232.4 L225.4,234.3 L227.3,230.7 L229.1,228.0 L230.9,227.7 L232.8,226.1 L234.6,223.8 L236.7,221.6 L238.8,216.6 L240.9,214.3 L242.8,211.2 L244.7,211.7 L246.5,209.7 L248.4,207.9 L250.3,209.8 L252.2,210.2 L254.1,212.7 L255.9,211.5 L257.8,211.1 L259.7,211.2 L261.6,211.4 L263.5,210.1 L265.3,207.0 L267.2,205.6 L269.1,204.5 L271.2,204.9 L273.3,208.9 L275.4,212.9 L277.4,214.3 L279.4,218.5 L281.3,220.3 L283.3,219.5 L285.2,219.9 L287.2,220.2 L289.2,218.0 L291.1,218.3 L293.2,216.3 L295.3,217.4 L297.4,215.2 L299.3,214.5 L301.2,209.9 L303.1,208.0 L305.0,204.5 L306.9,203.0 L308.8,204.4 L310.7,205.4 L312.5,208.1 L314.4,208.1 L316.3,209.6 L318.1,210.0 L319.9,206.7 L321.7,204.1 L323.5,204.5 L325.3,203.5 L327.1,202.4 L328.9,203.2 L330.7,202.3 L332.5,201.4 L334.3,202.2 L336.0,201.9 L337.8,200.5 L339.6,198.7 L341.4,197.9 L343.3,197.3 L345.2,200.5 L347.1,200.4 L349.0,202.5 L350.9,205.5 L353.0,208.6 L355.1,211.1 L357.2,210.4 L359.1,210.4 L361.0,206.2 L362.8,206.4 L364.7,203.2 L366.6,204.6 L368.5,205.0 L370.4,204.1 L372.2,204.8 L374.1,204.8 L376.0,202.1 L377.9,201.8 L379.8,199.4 L381.6,196.5 L383.5,196.6 L385.4,196.6 L387.3,195.4 L389.2,198.8 L391.1,198.7 L393.0,202.0 L394.9,201.6 L396.7,202.1 L398.5,200.1 L400.3,198.4 L402.0,200.5 L403.8,202.2 L405.6,201.9 L407.4,200.7 L409.3,202.1 L411.2,200.4 L413.1,199.7 L415.0,198.5 L416.9,196.6 L418.8,196.1 L420.7,194.0 L422.5,195.7 L424.4,193.8 L426.3,192.3 L428.2,192.5 L430.1,193.8 L431.9,194.6 L433.8,194.8 L435.7,193.1 L437.6,194.1 L439.5,196.3 L441.4,199.5 L443.3,202.2 L445.2,201.5 L447.1,200.0 L449.0,197.6 L450.8,196.7 L452.7,193.3 L454.6,191.2 L456.4,191.3 L458.2,193.0 L460.1,191.7 L461.9,191.8 L463.7,191.2 L464.0,190.7 L465.8,189.2 L467.6,189.9 L469.4,189.1 L471.2,189.4 L473.0,186.6 L474.8,184.5 L476.6,182.1 L478.3,181.5 L480.0,181.6 L481.7,180.9 L483.4,182.7 L485.1,181.5 L486.9,180.7 L488.6,180.1 L490.3,180.0 L492.0,180.6 L493.7,179.1 L495.4,179.7 L497.1,182.4 L498.8,181.1 L500.6,183.0 L502.3,182.7 L504.0,184.2 L505.7,181.9 L507.4,180.3 L509.1,180.5 L510.9,182.1 L512.6,183.9 L514.3,183.2 L516.1,184.8 L517.9,183.5 L519.7,182.0 L521.5,183.5 L523.3,182.7 L525.1,183.6 L526.9,182.5 L528.6,181.3 L530.3,181.0 L532.0,181.0 L533.7,181.4 L535.4,181.6 L537.2,182.2 L538.9,181.8 L540.6,183.3 L542.3,181.6 L544.0,182.7 L545.7,183.4 L547.4,184.3 L549.1,183.2 L550.9,182.5 L552.6,182.5 L554.3,180.7 L556.0,182.3 L557.7,180.8 L559.4,182.1 L561.2,182.6 L562.9,182.7 L564.6,182.4 L566.3,183.0 L568.0,179.7 L569.7,179.6 L571.4,178.5 L573.1,180.3 L574.9,179.0 L576.6,179.5 L578.3,179.1 L580.0,180.6 L581.7,182.1 L583.4,182.8 L585.2,181.0 L587.0,180.4 L588.8,181.8 L590.6,181.5 L592.4,181.7 L594.2,181.4 L596.0,182.2 L597.7,182.8 L599.4,184.1 L601.2,181.4 L602.9,182.0 L604.6,180.5 L606.3,179.9 L608.0,181.7 L609.7,182.2 L611.5,181.8 L613.2,180.9 L614.9,181.7 L616.6,180.9 L618.3,181.7 L620.0,182.0 L621.7,179.5 L623.4,181.7 L625.2,184.8 L626.9,185.1 L628.6,184.1 L630.3,186.8 L632.0,185.5 L633.7,184.7 L635.4,184.5 L637.1,184.0 L638.9,185.0 L640.6,184.9 L642.3,184.2 L644.0,182.1 L645.7,181.9 L647.4,181.1 L649.2,181.4 L650.9,182.8 L652.6,181.0 L654.3,178.6 L656.0,180.0 L657.7,179.8 L659.4,183.2 L661.1,181.6 L662.9,182.5 L664.6,181.2 L666.3,182.8 L668.0,182.0 L669.7,180.0 L671.4,179.7 L673.2,179.3 L675.0,179.9 L676.8,179.3 L678.6,180.0 L680.4,179.8 L682.2,182.8 L684.0,182.5 L685.7,184.0 L687.4,182.7 L689.2,182.0 L690.9,181.5 L692.6,181.1 L694.3,181.0 L696.0,182.2 L697.7,181.9 L699.5,183.1 L701.2,183.5 L702.9,182.3 L704.7,181.7 L706.5,183.2 L708.3,183.7 L710.0,184.5 L711.8,185.8 L713.6,186.2 L715.4,187.1 L717.2,185.0 L718.9,185.4 L720.7,182.6 L722.4,183.5 L724.2,182.2 L725.9,181.3 L727.7,179.9 L729.4,177.9 L731.2,176.5 L732.9,178.1 L734.7,177.9 L736.4,176.9 L738.2,176.5 L739.9,178.2 L741.7,181.0 L743.4,184.0 L745.2,182.3 L746.9,182.2 L748.6,183.8 L750.3,183.8 L752.0,183.8 L753.7,182.8 L755.4,182.2 L757.2,182.6 L758.9,181.5 L760.6,180.6 L762.3,180.5 L764.0,180.8 L765.7,181.5 L767.5,181.2 L769.3,180.6 L771.1,180.9 L772.9,179.7 L774.7,178.1 L776.5,176.4 L778.3,176.8 L780.0,177.2 L781.8,179.1 L783.5,180.3 L785.3,180.5 L787.0,180.1 L788.8,180.4 L790.5,182.5 L792.3,183.9 L794.0,182.5" fill="none" stroke="#5A8DDD" stroke-width="5" stroke-linejoin="round" stroke-linecap="round"/><path d="M134.1,481.3 L135.9,483.2 L137.7,487.3 L139.5,490.1 L141.3,490.0 L143.1,491.6 L144.9,490.9 L146.6,491.3 L148.3,492.7 L149.9,493.9 L151.6,494.3 L153.2,495.1 L154.9,496.7 L156.6,496.5 L158.2,497.5 L159.9,496.7 L161.5,495.4 L163.2,491.9 L164.9,491.5 L166.5,489.3 L168.2,485.1 L169.9,482.9 L171.5,479.8 L173.2,475.3 L174.8,470.3 L176.5,465.4 L178.2,463.6 L179.8,465.7 L181.5,467.6 L183.1,467.2 L184.8,467.1 L186.5,466.8 L188.1,465.6 L189.8,463.5 L191.4,459.4 L193.1,457.1 L194.8,454.8 L196.4,451.3 L198.1,447.7 L199.8,445.5 L201.4,447.2 L203.1,446.0 L204.7,448.6 L206.4,450.4 L208.1,452.0 L209.7,451.2 L211.4,451.6 L213.0,453.1 L214.7,454.4 L216.4,452.1 L218.0,449.0 L219.7,447.1 L221.3,442.6 L223.0,440.0 L224.7,436.6 L226.3,435.1 L228.0,432.5 L229.7,429.9 L231.3,429.2 L233.0,428.2 L234.6,427.6 L236.3,428.9 L238.0,428.2 L239.6,428.6 L241.3,427.3 L242.9,427.1 L244.6,426.2 L246.3,426.6 L247.9,428.9 L249.6,430.3 L251.2,427.0 L252.9,423.7 L254.6,419.5 L256.2,413.5 L257.9,409.8 L259.6,408.7 L261.2,407.1 L262.9,404.1 L264.5,402.6 L266.2,401.0 L268.2,398.3 L270.3,392.0 L272.3,388.5 L274.2,387.0 L276.1,386.9 L277.9,387.4 L279.8,386.2 L281.7,384.0 L283.6,382.1 L285.5,379.7 L287.3,377.7 L289.2,374.3 L291.1,370.2 L292.9,364.3 L294.7,360.0 L296.5,356.1 L298.3,352.3 L300.1,346.3 L301.9,342.1 L303.7,340.4 L305.8,343.7 L307.9,345.4 L310.0,348.3 L311.9,351.0 L313.8,350.1 L315.6,348.1 L317.5,347.8 L319.4,348.2 L321.5,348.7 L323.6,350.8 L325.7,355.2 L327.6,356.9 L329.5,352.4 L331.4,346.5 L333.3,342.0 L335.2,341.3 L336.8,339.4 L338.4,338.2 L340.0,339.9 L341.7,342.3 L343.5,339.9 L345.2,339.7 L347.0,337.9 L348.7,337.5 L350.5,337.1 L352.2,337.5 L354.0,338.7 L355.7,341.2 L357.4,343.6 L359.1,345.2 L360.8,345.8 L362.4,345.7 L364.1,347.0 L365.8,349.3 L367.5,350.1 L369.2,348.9 L370.8,345.5 L372.5,342.3 L374.2,338.8 L375.9,334.1 L377.6,332.7 L379.3,329.3 L380.9,329.3 L382.5,329.8 L384.2,328.6 L385.8,326.1 L387.4,325.8 L389.1,328.2 L391.0,329.0 L393.0,334.0 L395.0,336.5 L396.9,336.1 L398.6,336.6 L400.3,333.0 L402.0,332.0 L403.7,331.9 L405.3,328.5 L407.0,326.2 L408.7,323.6 L410.5,322.3 L412.2,319.7 L413.9,317.9 L415.7,314.7 L417.4,313.0 L419.2,310.1 L420.9,306.1 L422.7,303.1 L424.4,302.9 L426.0,303.5 L427.7,305.8 L429.3,306.6 L431.0,304.7 L432.6,304.6 L434.2,308.0 L435.9,306.5 L437.5,306.9 L439.1,309.7 L440.8,308.7 L442.4,309.2 L444.0,307.5 L446.0,306.5 L448.0,303.0 L449.9,300.7 L451.9,299.2 L453.7,295.6 L455.6,293.3 L457.4,291.4 L459.3,286.8 L461.1,286.1 L462.9,284.2 L464.7,282.8 L466.5,279.3 L468.3,274.9 L470.1,273.4 L471.9,275.0 L473.7,274.6 L475.5,276.0 L477.2,275.8 L479.0,275.2 L480.8,274.4 L482.5,276.7 L484.3,275.5 L486.0,274.0 L487.8,275.6 L489.5,277.1 L491.3,275.7 L493.0,278.2 L494.7,277.7 L496.4,277.6 L498.2,279.5 L499.9,279.5 L501.6,281.3 L503.4,280.6 L505.1,281.1 L506.8,281.0 L508.7,280.4 L510.6,279.4 L512.5,275.3 L514.4,273.0 L516.3,270.7 L518.1,269.0 L520.0,270.1 L521.8,270.9 L523.6,270.5 L525.4,271.4 L527.2,270.2 L529.0,271.1 L530.8,271.2 L532.6,271.9 L534.5,270.5 L536.3,269.4 L538.1,266.6 L539.9,264.6 L541.7,265.1 L543.5,265.1 L545.3,265.2 L547.1,268.3 L548.9,271.4 L550.8,272.4 L552.6,271.5 L554.4,270.7 L556.3,271.4 L558.2,269.7 L560.1,267.1 L562.0,264.5 L563.9,263.8 L565.6,259.6 L567.4,260.2 L569.1,260.8 L570.8,260.3 L572.5,258.7 L574.3,258.7 L576.0,257.3 L577.7,256.5 L579.5,257.5 L581.2,257.1 L582.9,256.9 L584.7,258.2 L586.5,256.1 L588.4,256.8 L590.2,256.2 L592.0,256.8 L593.8,258.9 L595.6,261.0 L597.4,260.7 L599.2,261.7 L601.0,260.4 L602.8,260.8 L604.7,261.0 L606.5,260.2 L608.3,259.5 L610.2,259.6 L612.1,260.5 L614.0,259.8 L615.9,259.3 L617.8,258.6 L619.6,256.8 L621.3,256.5 L623.1,258.2 L624.8,259.6 L626.6,259.9 L628.4,262.7 L630.1,260.3 L631.9,261.1 L633.6,260.6 L635.8,261.5 L637.9,261.2 L640.0,263.8 L641.8,264.8 L643.6,262.7 L645.4,262.1 L647.2,259.6 L649.0,256.9 L650.8,254.2 L652.6,255.5 L654.4,253.7 L656.2,255.5 L658.0,256.6 L659.8,256.8 L661.6,255.2 L663.4,256.3 L665.2,256.3 L667.1,254.8 L669.0,252.0 L670.8,248.6 L672.7,246.5 L674.6,244.5 L676.4,245.2 L678.2,247.4 L680.0,249.3 L681.8,250.3 L683.6,250.5 L685.4,250.7 L687.2,251.2 L689.1,251.1 L691.0,251.8 L692.8,253.5 L694.7,253.2 L696.6,253.4 L698.3,253.1 L700.1,250.8 L701.8,248.0 L703.6,248.2 L705.3,248.0 L707.1,244.7 L708.8,241.9 L710.6,242.8 L712.3,243.5 L714.1,242.6 L715.9,241.8 L717.7,243.2 L719.5,242.9 L721.3,246.5 L723.1,248.6 L724.9,248.1 L726.7,246.9 L728.5,247.7 L730.3,246.4 L732.0,248.3 L733.8,248.2 L735.6,247.6 L737.4,249.0 L739.3,250.8 L741.2,248.8 L743.1,247.6 L745.0,247.9 L746.9,246.8 L748.6,244.2 L750.4,243.9 L752.1,242.4 L753.9,242.4 L755.6,241.2 L757.4,240.8 L759.1,239.9 L760.9,240.5 L762.6,239.3 L764.5,240.1 L766.4,238.5 L768.2,239.9 L770.1,237.9 L772.0,239.6 L773.8,238.0 L775.6,237.3 L777.4,236.7 L779.2,232.5 L781.0,233.0 L782.8,231.9 L784.6,231.3 L786.5,232.9 L788.4,236.4 L790.2,239.7 L792.1,242.3 L794.0,246.8" fill="none" stroke="#7A4E08" stroke-width="5" stroke-linejoin="round" stroke-linecap="round"/></g>
<g clip-path="url(#cr)"><path d="M952.6,495.6 L955.7,483.5 L958.9,465.9 L961.0,454.0 L963.0,441.7 L965.1,428.8 L967.2,421.4 L969.3,412.6 L971.4,404.0 L973.8,400.0 L976.1,396.4 L978.5,390.1 L980.9,385.9 L983.0,384.2 L985.0,381.6 L987.1,377.0 L989.2,370.0 L991.3,364.9 L993.4,358.8 L995.5,354.3 L997.6,350.1 L999.7,347.3 L1001.8,342.6 L1003.9,339.6 L1006.0,335.1 L1008.1,329.8 L1010.2,325.9 L1012.3,320.4 L1014.4,307.2 L1016.5,310.0 L1018.6,306.2 L1020.7,301.8 L1022.8,296.5 L1024.9,284.9 L1028.0,280.2 L1030.3,276.8 L1032.7,273.1 L1035.1,268.7 L1037.4,265.0 L1039.5,260.9 L1041.6,251.7 L1043.7,256.6 L1045.8,251.9 L1047.9,247.8 L1050.0,245.5 L1052.1,246.0 L1054.2,245.8 L1056.3,243.8 L1058.4,243.7 L1060.5,241.3 L1062.6,240.5 L1064.7,239.5 L1066.8,236.8 L1068.8,235.5 L1070.9,225.4 L1073.0,227.1 L1075.1,228.6 L1077.2,229.7 L1079.3,227.7 L1081.4,227.8 L1083.5,225.7 L1085.6,225.0 L1087.7,223.9 L1089.9,223.2 L1092.2,222.2 L1094.4,222.7 L1096.7,219.9 L1098.9,210.5 L1101.2,217.8 L1103.4,217.4 L1105.5,212.6 L1107.6,217.0 L1109.7,215.4 L1111.8,214.4 L1113.9,214.6 L1116.0,213.0 L1118.1,213.0 L1120.2,213.6 L1122.3,211.8 L1124.4,212.8 L1126.5,211.6 L1128.6,211.0 L1130.7,211.3 L1132.8,210.9 L1134.9,211.0 L1137.0,210.8 L1139.1,209.6 L1141.2,208.3 L1143.3,207.6 L1145.4,207.6 L1147.5,206.5 L1149.5,206.6 L1151.6,204.6 L1153.7,204.3 L1155.8,204.7 L1157.9,205.4 L1160.0,206.4 L1162.1,197.4 L1164.2,204.3 L1166.3,202.7 L1168.4,203.6 L1170.5,202.6 L1172.6,203.1 L1174.7,203.3 L1176.8,201.9 L1178.9,202.2 L1181.0,194.9 L1183.1,201.2 L1185.2,193.7 L1187.2,192.4 L1189.3,193.9 L1191.4,199.7 L1193.8,198.2 L1196.2,196.8 L1198.5,195.9 L1200.9,196.6 L1203.1,195.3 L1205.4,196.3 L1207.6,196.8 L1209.9,194.5 L1212.1,195.7 L1214.4,196.1 L1216.6,194.0 L1218.7,193.2 L1220.8,195.2 L1222.9,189.4 L1225.0,194.9 L1227.1,196.3 L1229.2,194.9 L1231.3,193.4 L1233.4,194.9 L1235.5,193.3 L1237.5,193.9 L1239.6,193.7 L1241.7,193.1 L1243.8,190.8 L1245.9,190.3 L1248.0,188.8 L1250.1,188.9 L1252.2,188.0 L1254.3,187.7 L1256.3,189.8 L1258.3,190.2 L1260.4,188.7 L1262.5,187.1 L1264.6,184.8 L1267.2,182.9 L1269.7,180.1 L1272.2,178.4 L1274.6,178.5 L1277.1,179.3 L1279.5,179.0 L1281.8,178.0 L1284.2,178.4 L1286.6,177.7 L1288.9,175.9 L1291.3,174.1 L1293.7,173.9 L1296.0,173.0 L1298.6,173.9 L1301.3,173.0 L1303.9,174.1 L1306.2,172.2 L1308.6,158.7 L1310.9,166.1 L1313.3,166.7 L1315.7,165.4 L1318.0,165.8 L1320.3,164.3 L1322.7,161.5 L1325.1,159.9 L1327.4,151.3 L1329.8,157.4 L1332.2,157.6 L1334.5,156.3 L1336.9,156.6 L1339.2,149.0 L1341.6,151.6 L1344.0,150.6 L1346.3,148.3 L1348.7,148.7 L1351.0,150.0 L1353.3,144.7 L1355.7,147.1 L1358.0,144.7 L1360.4,145.0 L1362.8,143.5 L1365.1,142.5 L1367.2,140.2 L1369.3,140.0 L1371.4,140.7 L1373.5,138.7 L1375.6,132.9 L1377.7,136.3 L1379.8,137.1 L1381.9,137.0 L1384.0,137.4 L1386.1,135.7 L1388.2,134.2 L1390.3,133.8 L1392.4,133.7 L1394.5,124.2 L1396.6,126.4 L1398.9,133.4 L1401.3,135.1 L1403.7,134.8 L1406.0,136.7 L1408.3,133.2 L1410.7,131.0 L1413.1,130.8 L1415.4,127.5 L1417.5,128.5 L1419.6,130.2 L1421.7,129.7 L1423.8,128.8 L1425.9,126.7 L1428.0,126.4 L1430.1,120.8 L1432.2,125.4 L1434.3,122.4 L1436.4,114.3 L1438.5,123.8 L1440.6,123.0 L1442.7,123.8 L1444.8,124.4 L1446.9,123.8 L1449.2,124.4 L1451.6,124.3 L1454.0,124.4 L1456.3,120.0 L1458.7,122.6 L1461.0,121.8 L1463.3,120.5 L1465.7,119.7 L1467.8,119.7 L1469.9,121.1 L1472.0,120.3 L1474.1,112.0 L1476.2,118.9 L1478.3,119.9 L1480.4,119.4 L1482.5,118.4 L1484.6,117.1 L1486.9,116.4 L1489.3,117.2 L1491.7,118.5 L1494.0,118.1 L1496.1,117.2 L1498.2,116.6 L1500.3,117.2 L1502.4,116.0 L1504.5,115.5 L1506.6,115.5 L1508.7,112.3 L1510.8,116.0 L1512.9,115.6 L1515.0,114.7 L1517.1,106.1 L1519.2,113.5 L1521.4,114.3 L1523.7,114.4 L1525.9,113.4 L1528.2,113.6 L1530.4,111.9 L1532.7,112.0 L1534.9,111.4 L1537.2,111.9 L1539.6,112.4 L1542.0,112.8 L1544.3,113.0 L1546.4,112.6 L1548.5,112.7 L1550.6,112.0 L1552.7,113.4 L1554.8,111.8 L1556.9,111.3 L1559.2,110.3 L1561.6,110.9 L1564.0,109.8 L1566.3,109.2 L1568.5,110.2 L1570.8,111.6 L1573.0,109.6 L1575.3,108.5 L1577.5,109.5 L1579.8,108.2 L1582.0,108.5 L1582.0,123.7 L1579.8,120.5 L1577.5,120.7 L1575.3,119.3 L1573.0,120.7 L1570.8,121.6 L1568.5,122.2 L1566.3,122.1 L1564.0,121.5 L1561.6,119.6 L1559.2,120.7 L1556.9,120.1 L1554.8,120.8 L1552.7,121.6 L1550.6,122.5 L1548.5,122.7 L1546.4,127.8 L1544.3,124.4 L1542.0,122.8 L1539.6,123.4 L1537.2,121.9 L1534.9,122.4 L1532.7,122.0 L1530.4,126.5 L1528.2,128.2 L1525.9,125.5 L1523.7,125.5 L1521.4,125.3 L1519.2,125.4 L1517.1,126.2 L1515.0,128.5 L1512.9,125.7 L1510.8,124.2 L1508.7,126.1 L1506.6,126.6 L1504.5,125.2 L1502.4,126.0 L1500.3,126.3 L1498.2,127.5 L1496.1,126.5 L1494.0,126.6 L1491.7,128.2 L1489.3,129.0 L1486.9,128.1 L1484.6,129.3 L1482.5,129.2 L1480.4,129.0 L1478.3,130.2 L1476.2,131.0 L1474.1,130.8 L1472.0,129.7 L1469.9,130.7 L1467.8,133.0 L1465.7,132.7 L1463.3,132.9 L1461.0,133.7 L1458.7,135.0 L1456.3,135.0 L1454.0,135.3 L1451.6,135.6 L1449.2,134.2 L1446.9,134.2 L1444.8,132.5 L1442.7,132.5 L1440.6,133.0 L1438.5,131.5 L1436.4,132.1 L1434.3,131.8 L1432.2,133.0 L1430.1,134.2 L1428.0,134.4 L1425.9,136.7 L1423.8,139.1 L1421.7,140.4 L1419.6,138.1 L1417.5,138.8 L1415.4,137.4 L1413.1,147.2 L1410.7,144.4 L1408.3,150.4 L1406.0,152.1 L1403.7,146.5 L1401.3,144.7 L1398.9,142.3 L1396.6,140.0 L1394.5,141.1 L1392.4,142.0 L1390.3,142.7 L1388.2,150.2 L1386.1,144.1 L1384.0,145.4 L1381.9,147.1 L1379.8,147.6 L1377.7,147.4 L1375.6,149.1 L1373.5,154.0 L1371.4,150.8 L1369.3,151.3 L1367.2,151.2 L1365.1,150.2 L1362.8,152.5 L1360.4,153.9 L1358.0,155.9 L1355.7,157.6 L1353.3,157.5 L1351.0,158.0 L1348.7,158.6 L1346.3,158.0 L1344.0,158.8 L1341.6,161.2 L1339.2,163.8 L1336.9,166.5 L1334.5,166.8 L1332.2,167.4 L1329.8,168.3 L1327.4,168.1 L1325.1,169.9 L1322.7,178.0 L1320.3,173.0 L1318.0,175.6 L1315.7,177.0 L1313.3,177.7 L1310.9,178.7 L1308.6,178.5 L1306.2,185.8 L1303.9,183.3 L1301.3,183.7 L1298.6,183.7 L1296.0,183.8 L1293.7,184.7 L1291.3,186.7 L1288.9,186.9 L1286.6,188.6 L1284.2,194.2 L1281.8,187.9 L1279.5,189.3 L1277.1,188.8 L1274.6,189.9 L1272.2,190.5 L1269.7,189.7 L1267.2,190.6 L1264.6,193.4 L1262.5,193.9 L1260.4,196.9 L1258.3,199.8 L1256.3,198.2 L1254.3,195.0 L1252.2,197.1 L1250.1,199.4 L1248.0,200.9 L1245.9,201.3 L1243.8,203.3 L1241.7,203.6 L1239.6,203.2 L1237.5,203.1 L1235.5,205.0 L1233.4,204.2 L1231.3,206.7 L1229.2,207.7 L1227.1,207.0 L1225.0,206.3 L1222.9,204.3 L1220.8,203.3 L1218.7,203.6 L1216.6,202.7 L1214.4,204.0 L1212.1,204.7 L1209.9,206.3 L1207.6,205.8 L1205.4,205.8 L1203.1,205.1 L1200.9,205.0 L1198.5,206.6 L1196.2,207.9 L1193.8,208.1 L1191.4,209.6 L1189.3,210.0 L1187.2,210.5 L1185.2,210.9 L1183.1,211.1 L1181.0,211.1 L1178.9,211.6 L1176.8,211.3 L1174.7,211.1 L1172.6,213.1 L1170.5,213.0 L1168.4,219.0 L1166.3,213.6 L1164.2,213.9 L1162.1,214.0 L1160.0,216.1 L1157.9,215.8 L1155.8,215.1 L1153.7,217.6 L1151.6,216.0 L1149.5,217.8 L1147.5,220.0 L1145.4,219.1 L1143.3,219.3 L1141.2,218.9 L1139.1,219.1 L1137.0,219.3 L1134.9,218.7 L1132.8,219.7 L1130.7,220.3 L1128.6,221.9 L1126.5,222.9 L1124.4,223.7 L1122.3,223.0 L1120.2,222.7 L1118.1,223.3 L1116.0,229.7 L1113.9,224.9 L1111.8,225.1 L1109.7,226.6 L1107.6,225.1 L1105.5,226.1 L1103.4,227.7 L1101.2,227.8 L1098.9,229.7 L1096.7,229.4 L1094.4,236.0 L1092.2,231.2 L1089.9,233.6 L1087.7,233.4 L1085.6,234.8 L1083.5,236.4 L1081.4,244.3 L1079.3,239.0 L1077.2,239.9 L1075.1,239.4 L1073.0,241.3 L1070.9,243.6 L1068.8,246.6 L1066.8,252.8 L1064.7,248.6 L1062.6,248.6 L1060.5,251.0 L1058.4,252.7 L1056.3,251.9 L1054.2,252.9 L1052.1,255.4 L1050.0,257.4 L1047.9,259.4 L1045.8,263.0 L1043.7,265.2 L1041.6,269.3 L1039.5,274.0 L1037.4,277.0 L1035.1,280.5 L1032.7,283.4 L1030.3,286.7 L1028.0,291.3 L1024.9,301.0 L1022.8,307.5 L1020.7,312.2 L1018.6,317.3 L1016.5,327.0 L1014.4,324.9 L1012.3,328.9 L1010.2,333.9 L1008.1,340.1 L1006.0,344.7 L1003.9,349.1 L1001.8,353.8 L999.7,361.1 L997.6,362.2 L995.5,364.0 L993.4,368.2 L991.3,373.7 L989.2,380.4 L987.1,385.2 L985.0,389.4 L983.0,393.3 L980.9,395.4 L978.5,401.2 L976.1,406.3 L973.8,410.4 L971.4,416.1 L969.3,421.1 L967.2,428.1 L965.1,436.0 L963.0,450.0 L961.0,463.4 L958.9,475.4 L955.7,493.4 L952.6,507.0Z" fill="#EA615C" fill-opacity="0.18" stroke="#EA615C" stroke-opacity="0.288" stroke-width="1"/><path d="M940.0,493.1 L942.1,493.9 L944.2,494.7 L946.3,494.3 L948.4,494.0 L950.5,489.3 L952.6,494.5 L954.7,494.0 L956.7,492.4 L958.8,492.2 L960.9,493.1 L963.0,493.4 L965.1,491.9 L967.2,491.8 L969.3,492.6 L971.4,489.1 L973.5,490.7 L975.6,490.0 L977.7,490.0 L979.8,490.7 L981.9,490.5 L984.0,489.7 L986.1,489.2 L988.2,490.3 L990.3,484.2 L992.4,490.7 L994.5,490.5 L996.6,489.0 L998.7,485.6 L1000.8,491.8 L1002.9,490.0 L1005.1,489.4 L1007.4,489.7 L1009.6,489.9 L1011.9,487.5 L1014.1,487.6 L1016.4,486.3 L1018.6,486.7 L1020.7,483.0 L1022.8,478.6 L1024.8,481.5 L1026.9,481.3 L1029.0,478.8 L1031.1,476.2 L1033.5,473.8 L1035.8,470.7 L1038.2,467.6 L1040.6,462.2 L1042.9,456.1 L1045.3,451.5 L1047.7,446.7 L1050.0,441.2 L1052.3,437.8 L1054.7,432.7 L1057.1,427.4 L1059.4,423.3 L1061.5,422.3 L1063.6,420.5 L1065.7,418.0 L1067.8,415.8 L1069.9,410.4 L1072.0,408.6 L1074.1,406.8 L1076.2,405.9 L1078.3,404.8 L1080.4,402.5 L1082.5,399.6 L1084.6,399.0 L1086.7,397.2 L1088.8,394.5 L1090.9,391.9 L1093.0,390.1 L1095.1,389.4 L1097.2,386.3 L1099.3,384.8 L1101.4,385.5 L1103.5,384.7 L1105.5,385.5 L1107.6,385.7 L1109.7,383.8 L1111.8,380.9 L1113.9,379.7 L1116.0,379.7 L1118.1,378.3 L1120.2,375.8 L1122.3,374.3 L1124.4,373.3 L1126.5,371.1 L1128.6,371.5 L1130.7,371.1 L1132.8,369.0 L1134.9,367.2 L1137.0,367.6 L1139.1,367.1 L1141.2,366.4 L1143.2,366.1 L1145.3,364.2 L1147.4,364.1 L1149.5,362.1 L1151.6,360.2 L1153.7,360.1 L1155.8,358.6 L1157.9,357.4 L1160.0,356.3 L1162.1,357.5 L1164.2,357.9 L1166.3,357.8 L1168.4,355.0 L1170.5,353.9 L1172.6,354.3 L1174.7,352.5 L1176.8,351.2 L1178.9,350.8 L1181.0,350.2 L1183.1,349.3 L1185.2,347.3 L1187.3,347.5 L1189.4,347.6 L1191.5,346.3 L1193.5,343.6 L1195.6,343.3 L1197.7,341.1 L1199.8,341.0 L1201.9,339.9 L1204.0,340.0 L1206.1,338.3 L1208.2,336.9 L1210.3,337.8 L1212.4,337.9 L1214.5,332.8 L1216.6,336.4 L1218.7,336.1 L1220.8,335.6 L1222.9,334.3 L1225.0,333.1 L1227.1,331.8 L1229.2,324.7 L1231.3,331.1 L1233.3,330.0 L1235.4,329.2 L1237.5,329.4 L1239.6,329.4 L1241.7,329.7 L1243.8,329.3 L1245.8,324.0 L1247.9,326.9 L1249.9,325.9 L1252.0,325.6 L1254.2,326.2 L1256.5,324.8 L1258.7,324.0 L1261.0,322.0 L1263.2,322.5 L1265.5,320.9 L1267.7,322.3 L1269.7,321.1 L1272.0,319.5 L1274.3,320.1 L1276.6,319.8 L1278.8,320.0 L1281.1,318.7 L1283.4,314.5 L1285.5,316.4 L1287.6,316.1 L1289.7,315.7 L1291.8,317.1 L1293.9,315.5 L1296.0,314.8 L1298.1,313.7 L1300.2,315.6 L1302.3,315.1 L1304.4,313.9 L1306.5,314.3 L1308.6,314.9 L1310.7,314.3 L1312.8,312.4 L1314.9,311.5 L1317.0,311.4 L1319.1,312.6 L1321.2,311.3 L1323.3,310.0 L1325.4,311.2 L1327.5,311.2 L1329.6,310.3 L1331.6,309.1 L1333.7,308.4 L1335.8,308.8 L1337.9,301.9 L1340.0,306.6 L1342.1,301.8 L1344.2,306.0 L1346.3,304.9 L1348.4,305.7 L1350.5,305.1 L1352.6,304.4 L1354.7,304.7 L1356.8,304.6 L1358.9,304.7 L1361.0,304.6 L1363.0,304.1 L1365.1,303.6 L1367.2,302.7 L1369.3,303.0 L1371.4,302.3 L1373.5,301.5 L1375.6,301.4 L1377.7,299.4 L1379.8,296.1 L1381.9,298.4 L1384.0,294.6 L1386.1,298.0 L1388.2,297.9 L1390.3,296.9 L1392.4,297.7 L1394.5,295.7 L1396.6,296.7 L1398.7,297.8 L1400.8,295.6 L1402.9,294.7 L1405.0,295.5 L1407.1,295.6 L1409.2,296.2 L1411.4,294.0 L1413.7,294.2 L1415.9,290.5 L1418.2,290.2 L1420.4,292.2 L1422.7,288.1 L1424.9,293.6 L1426.9,288.4 L1428.9,291.1 L1430.9,291.2 L1432.9,290.9 L1434.9,291.8 L1436.9,290.2 L1438.9,288.9 L1440.9,288.6 L1442.9,288.3 L1444.9,288.2 L1446.9,289.4 L1448.9,289.0 L1451.0,289.3 L1453.0,289.5 L1455.0,289.9 L1457.0,289.9 L1459.0,289.1 L1461.0,287.3 L1463.0,287.9 L1465.0,288.6 L1467.0,286.5 L1469.0,286.9 L1471.0,286.1 L1473.0,286.2 L1475.0,284.4 L1477.0,281.4 L1479.0,282.6 L1481.0,283.3 L1483.0,284.8 L1485.0,284.3 L1487.0,284.9 L1489.0,285.4 L1491.0,284.7 L1493.0,284.0 L1495.0,280.3 L1497.0,283.8 L1499.0,283.2 L1501.0,279.9 L1503.1,282.3 L1505.1,281.4 L1507.1,282.0 L1509.1,281.6 L1511.1,276.6 L1513.1,280.2 L1515.1,279.3 L1517.1,278.6 L1519.1,279.9 L1521.1,278.1 L1523.1,273.9 L1525.1,279.7 L1527.1,280.1 L1529.1,278.1 L1531.1,272.7 L1533.1,279.0 L1535.1,278.7 L1537.1,276.6 L1539.1,277.7 L1541.1,277.7 L1543.1,277.7 L1545.1,276.1 L1547.1,276.8 L1549.1,275.9 L1551.1,276.8 L1553.1,274.7 L1555.2,274.8 L1557.2,275.3 L1559.2,273.7 L1561.2,273.3 L1563.2,272.7 L1565.2,273.2 L1567.2,274.2 L1569.2,274.2 L1571.2,274.7 L1573.2,272.9 L1575.2,272.5 L1577.2,271.8 L1579.2,267.4 L1581.2,272.2 L1581.2,289.1 L1579.2,289.8 L1577.2,292.7 L1575.2,292.1 L1573.2,290.7 L1571.2,294.9 L1569.2,292.3 L1567.2,290.9 L1565.2,291.9 L1563.2,292.3 L1561.2,291.2 L1559.2,291.9 L1557.2,293.5 L1555.2,293.9 L1553.1,294.4 L1551.1,294.7 L1549.1,294.1 L1547.1,294.0 L1545.1,294.8 L1543.1,295.9 L1541.1,295.0 L1539.1,294.3 L1537.1,295.6 L1535.1,295.1 L1533.1,295.7 L1531.1,296.8 L1529.1,296.6 L1527.1,297.4 L1525.1,297.4 L1523.1,297.9 L1521.1,300.2 L1519.1,299.6 L1517.1,299.2 L1515.1,298.5 L1513.1,298.6 L1511.1,298.8 L1509.1,299.8 L1507.1,299.9 L1505.1,300.3 L1503.1,301.3 L1501.0,300.7 L1499.0,302.7 L1497.0,302.0 L1495.0,300.4 L1493.0,300.0 L1491.0,300.8 L1489.0,302.1 L1487.0,307.6 L1485.0,306.4 L1483.0,303.0 L1481.0,302.4 L1479.0,302.5 L1477.0,303.0 L1475.0,304.8 L1473.0,304.8 L1471.0,304.2 L1469.0,304.7 L1467.0,303.6 L1465.0,304.0 L1463.0,304.4 L1461.0,305.9 L1459.0,305.9 L1457.0,307.4 L1455.0,307.1 L1453.0,308.6 L1451.0,307.6 L1448.9,307.1 L1446.9,308.9 L1444.9,313.1 L1442.9,309.1 L1440.9,309.6 L1438.9,308.5 L1436.9,308.1 L1434.9,308.6 L1432.9,309.6 L1430.9,309.0 L1428.9,313.9 L1426.9,313.3 L1424.9,310.7 L1422.7,313.7 L1420.4,311.2 L1418.2,310.9 L1415.9,312.1 L1413.7,313.4 L1411.4,314.3 L1409.2,315.0 L1407.1,313.8 L1405.0,315.6 L1402.9,316.0 L1400.8,320.9 L1398.7,315.9 L1396.6,320.0 L1394.5,317.5 L1392.4,320.4 L1390.3,316.7 L1388.2,318.2 L1386.1,316.8 L1384.0,317.6 L1381.9,318.8 L1379.8,317.9 L1377.7,318.6 L1375.6,319.5 L1373.5,320.3 L1371.4,320.2 L1369.3,321.6 L1367.2,322.8 L1365.1,323.1 L1363.0,323.2 L1361.0,322.5 L1358.9,323.5 L1356.8,323.2 L1354.7,323.6 L1352.6,324.4 L1350.5,325.9 L1348.4,325.0 L1346.3,325.7 L1344.2,325.6 L1342.1,324.9 L1340.0,326.4 L1337.9,325.1 L1335.8,326.7 L1333.7,328.5 L1331.6,329.9 L1329.6,330.7 L1327.5,330.5 L1325.4,329.9 L1323.3,329.5 L1321.2,330.6 L1319.1,331.1 L1317.0,332.6 L1314.9,332.1 L1312.8,334.7 L1310.7,330.5 L1308.6,331.4 L1306.5,332.0 L1304.4,333.5 L1302.3,333.7 L1300.2,333.5 L1298.1,334.5 L1296.0,334.8 L1293.9,335.6 L1291.8,334.1 L1289.7,335.1 L1287.6,336.3 L1285.5,339.9 L1283.4,338.1 L1281.1,337.7 L1278.8,339.2 L1276.6,338.6 L1274.3,341.1 L1272.0,340.8 L1269.7,342.6 L1267.7,344.6 L1265.5,342.0 L1263.2,340.7 L1261.0,341.4 L1258.7,343.2 L1256.5,343.5 L1254.2,342.7 L1252.0,349.1 L1249.9,343.5 L1247.9,343.9 L1245.8,345.6 L1243.8,347.0 L1241.7,347.2 L1239.6,347.5 L1237.5,348.5 L1235.4,347.2 L1233.3,348.4 L1231.3,349.6 L1229.2,350.3 L1227.1,350.5 L1225.0,351.4 L1222.9,350.9 L1220.8,352.0 L1218.7,352.1 L1216.6,354.2 L1214.5,358.8 L1212.4,356.0 L1210.3,358.4 L1208.2,358.6 L1206.1,359.7 L1204.0,360.6 L1201.9,360.5 L1199.8,360.4 L1197.7,361.4 L1195.6,363.7 L1193.5,363.9 L1191.5,366.8 L1189.4,367.3 L1187.3,367.7 L1185.2,367.5 L1183.1,369.2 L1181.0,369.5 L1178.9,369.9 L1176.8,370.6 L1174.7,372.8 L1172.6,374.7 L1170.5,376.0 L1168.4,373.1 L1166.3,377.2 L1164.2,376.1 L1162.1,375.6 L1160.0,376.4 L1157.9,376.6 L1155.8,377.1 L1153.7,379.2 L1151.6,380.5 L1149.5,381.8 L1147.4,381.3 L1145.3,382.5 L1143.2,382.1 L1141.2,383.8 L1139.1,384.9 L1137.0,385.3 L1134.9,386.8 L1132.8,387.6 L1130.7,389.5 L1128.6,389.3 L1126.5,390.0 L1124.4,396.3 L1122.3,393.6 L1120.2,395.4 L1118.1,395.7 L1116.0,400.0 L1113.9,400.7 L1111.8,401.0 L1109.7,403.3 L1107.6,403.8 L1105.5,403.8 L1103.5,404.4 L1101.4,403.1 L1099.3,404.0 L1097.2,405.2 L1095.1,408.3 L1093.0,409.1 L1090.9,410.6 L1088.8,414.2 L1086.7,414.9 L1084.6,417.9 L1082.5,419.2 L1080.4,424.7 L1078.3,422.8 L1076.2,423.8 L1074.1,426.0 L1072.0,426.7 L1069.9,431.3 L1067.8,433.7 L1065.7,435.1 L1063.6,438.8 L1061.5,440.2 L1059.4,443.8 L1057.1,447.2 L1054.7,449.7 L1052.3,454.2 L1050.0,462.6 L1047.7,462.8 L1045.3,469.4 L1042.9,474.6 L1040.6,480.3 L1038.2,485.2 L1035.8,487.8 L1033.5,492.2 L1031.1,494.9 L1029.0,496.0 L1026.9,497.4 L1024.8,502.0 L1022.8,500.1 L1020.7,499.9 L1018.6,499.7 L1016.4,506.3 L1014.1,502.3 L1011.9,506.1 L1009.6,502.9 L1007.4,502.5 L1005.1,502.5 L1002.9,503.3 L1000.8,502.6 L998.7,501.5 L996.6,501.7 L994.5,502.4 L992.4,502.1 L990.3,502.6 L988.2,504.1 L986.1,505.3 L984.0,504.0 L981.9,504.1 L979.8,505.5 L977.7,504.4 L975.6,507.5 L973.5,506.7 L971.4,506.1 L969.3,505.4 L967.2,504.4 L965.1,506.3 L963.0,507.0 L960.9,506.3 L958.8,505.8 L956.7,508.3 L954.7,505.3 L952.6,506.8 L950.5,505.3 L948.4,505.2 L946.3,510.4 L944.2,507.1 L942.1,507.1 L940.0,506.5Z" fill="#9587F7" fill-opacity="0.18" stroke="#9587F7" stroke-opacity="0.288" stroke-width="1"/><path d="M940.0,499.6 L942.1,498.7 L944.2,498.1 L946.3,496.9 L948.4,497.1 L950.5,497.6 L952.6,498.0 L954.7,497.1 L956.8,498.3 L958.9,497.9 L961.0,497.2 L963.0,497.6 L965.1,497.6 L967.2,496.7 L969.3,495.6 L971.4,496.0 L973.6,497.5 L975.9,496.2 L978.1,497.5 L980.4,498.3 L982.6,496.5 L984.9,497.2 L987.1,497.1 L989.4,497.4 L991.6,495.6 L993.9,495.0 L996.1,491.3 L998.4,494.9 L1000.6,496.1 L1002.9,496.9 L1005.1,493.4 L1007.4,496.1 L1009.6,494.9 L1011.9,490.5 L1014.1,493.3 L1016.4,492.1 L1018.6,492.1 L1020.8,492.4 L1023.1,489.9 L1025.3,488.6 L1027.6,486.9 L1029.8,485.3 L1032.1,486.3 L1034.3,486.2 L1036.4,482.1 L1038.5,477.8 L1040.6,473.9 L1042.7,469.5 L1044.8,466.2 L1046.9,461.0 L1049.0,458.3 L1051.1,456.9 L1053.2,454.5 L1055.2,452.3 L1057.3,449.9 L1059.4,448.3 L1061.5,447.4 L1063.6,444.9 L1065.7,443.2 L1067.8,441.7 L1069.9,439.8 L1072.0,437.7 L1074.1,437.3 L1076.2,434.5 L1078.3,433.4 L1080.4,432.3 L1082.5,430.1 L1084.6,428.8 L1086.7,428.5 L1088.8,427.6 L1090.9,425.8 L1093.0,424.7 L1095.1,423.0 L1097.2,419.5 L1099.3,419.3 L1101.4,418.3 L1103.5,415.6 L1105.5,415.4 L1107.6,414.3 L1109.7,413.8 L1111.8,412.8 L1113.9,411.9 L1116.0,409.4 L1118.1,402.7 L1120.2,402.8 L1122.3,403.3 L1124.4,401.7 L1126.5,400.0 L1128.6,399.3 L1130.7,398.5 L1132.8,398.7 L1134.9,393.9 L1137.0,397.8 L1139.1,398.1 L1141.2,396.9 L1143.2,396.1 L1145.3,394.9 L1147.4,395.7 L1149.5,393.2 L1151.6,391.5 L1153.7,389.4 L1155.8,384.3 L1157.9,383.5 L1160.0,382.0 L1162.1,381.4 L1164.2,380.4 L1166.3,381.8 L1168.4,382.1 L1170.5,381.7 L1172.6,382.4 L1174.7,380.5 L1176.8,378.8 L1178.9,377.7 L1181.0,376.7 L1183.1,376.3 L1185.2,376.4 L1187.3,374.8 L1189.4,375.0 L1191.5,374.6 L1193.5,372.3 L1195.6,371.2 L1197.7,368.8 L1199.8,368.2 L1201.9,367.9 L1204.0,368.1 L1206.1,367.2 L1208.2,366.4 L1210.3,365.0 L1212.4,365.1 L1214.5,364.0 L1216.6,363.5 L1218.7,363.1 L1220.8,363.7 L1222.9,359.1 L1225.1,362.7 L1227.4,361.4 L1229.6,359.2 L1231.9,359.7 L1234.1,358.1 L1236.4,358.3 L1238.6,358.6 L1240.8,357.1 L1243.1,356.8 L1245.3,355.6 L1247.5,354.0 L1249.8,352.8 L1252.0,350.5 L1254.3,349.1 L1256.5,350.1 L1258.8,350.5 L1261.0,350.3 L1263.2,348.9 L1265.5,348.7 L1267.7,341.7 L1269.7,346.6 L1272.0,345.8 L1274.3,345.7 L1276.6,343.4 L1278.8,343.0 L1281.1,343.5 L1283.4,342.8 L1285.6,341.3 L1287.9,337.3 L1290.1,339.9 L1292.4,338.8 L1294.6,338.6 L1296.9,337.1 L1299.1,337.3 L1301.4,338.0 L1303.6,337.6 L1305.9,337.8 L1308.1,335.5 L1310.4,336.6 L1312.6,334.5 L1314.9,333.6 L1317.1,333.5 L1319.4,334.1 L1321.6,334.9 L1323.9,334.7 L1326.1,332.6 L1328.4,332.3 L1330.6,331.5 L1332.8,330.0 L1335.1,329.3 L1337.3,328.4 L1339.6,330.2 L1341.8,328.5 L1344.1,327.8 L1346.3,328.9 L1348.5,328.3 L1350.8,323.3 L1353.0,327.9 L1355.3,322.6 L1357.5,326.5 L1359.8,326.8 L1362.0,325.2 L1364.2,324.3 L1366.5,325.1 L1368.7,324.9 L1371.0,324.7 L1373.2,323.9 L1375.5,324.0 L1377.7,324.1 L1379.9,323.7 L1382.2,322.8 L1384.4,321.9 L1386.7,321.3 L1388.9,321.8 L1391.2,320.1 L1393.4,319.6 L1395.4,318.3 L1397.5,315.9 L1399.5,317.5 L1401.6,316.2 L1403.6,312.6 L1405.7,317.0 L1407.7,317.5 L1409.8,315.8 L1411.8,315.8 L1413.9,313.3 L1415.9,313.1 L1418.0,311.6 L1420.0,310.4 L1422.0,311.3 L1424.0,312.1 L1426.0,311.9 L1428.0,311.7 L1430.0,310.0 L1432.0,308.5 L1434.0,308.3 L1436.0,309.0 L1438.0,307.6 L1440.0,308.1 L1442.0,307.6 L1444.0,306.9 L1446.0,307.5 L1448.0,303.3 L1450.0,306.7 L1452.0,305.0 L1454.0,304.1 L1456.0,304.7 L1458.0,305.5 L1460.0,303.9 L1462.0,302.7 L1464.0,303.6 L1466.0,303.7 L1468.0,303.8 L1470.0,297.5 L1472.0,303.8 L1474.0,304.0 L1476.0,302.8 L1478.0,301.1 L1480.0,301.4 L1482.0,301.1 L1484.0,300.5 L1486.0,300.7 L1488.0,300.0 L1490.0,294.7 L1492.0,300.5 L1494.0,299.3 L1496.0,299.0 L1498.0,299.0 L1500.0,299.3 L1502.0,299.2 L1504.0,297.4 L1506.0,296.1 L1508.0,297.1 L1510.0,297.0 L1512.0,297.3 L1514.0,295.4 L1516.0,295.5 L1518.0,294.5 L1520.0,294.9 L1522.0,294.1 L1524.0,295.3 L1526.0,290.1 L1528.0,293.8 L1530.0,294.0 L1532.0,294.2 L1534.0,293.5 L1536.0,293.5 L1538.0,293.6 L1540.0,292.2 L1542.0,292.5 L1544.1,293.3 L1546.2,294.0 L1548.2,292.9 L1550.2,293.8 L1552.3,293.3 L1554.3,293.9 L1556.4,291.9 L1558.5,291.8 L1560.5,292.2 L1562.5,291.0 L1564.6,290.3 L1566.7,289.8 L1568.7,289.8 L1570.8,291.3 L1572.8,291.8 L1574.8,291.7 L1576.9,291.2 L1579.0,290.5 L1581.0,290.1 L1582.0,334.0 L1579.8,332.9 L1577.5,333.0 L1575.3,333.4 L1573.0,334.6 L1570.8,332.7 L1568.5,332.4 L1566.3,333.4 L1564.1,330.7 L1561.8,328.0 L1559.6,327.0 L1557.3,326.6 L1555.1,324.6 L1552.8,327.4 L1550.6,321.2 L1548.4,325.9 L1546.1,323.6 L1543.9,326.5 L1541.6,326.6 L1539.4,330.0 L1537.1,331.4 L1534.9,334.0 L1531.7,321.4 L1529.6,322.0 L1527.5,327.2 L1525.4,326.9 L1523.3,327.6 L1521.3,323.3 L1519.2,323.6 L1516.9,326.3 L1514.7,327.9 L1512.4,328.3 L1510.2,329.1 L1507.9,330.0 L1505.7,332.0 L1503.4,335.0 L1501.2,333.2 L1498.9,331.6 L1496.7,334.2 L1494.4,329.8 L1492.2,327.5 L1489.9,326.3 L1487.7,326.5 L1485.5,327.0 L1483.2,331.3 L1481.0,333.4 L1478.7,331.4 L1476.5,331.7 L1474.2,334.2 L1472.0,333.9 L1469.8,333.4 L1467.5,337.6 L1465.3,333.1 L1463.0,334.1 L1460.8,331.8 L1458.5,332.9 L1456.3,331.5 L1454.1,331.9 L1451.8,331.9 L1449.6,334.1 L1447.3,333.6 L1445.1,335.8 L1442.8,335.5 L1440.6,335.4 L1438.4,336.7 L1436.1,336.7 L1433.9,334.9 L1431.6,336.3 L1429.4,336.7 L1427.1,335.5 L1424.9,335.2 L1422.7,335.4 L1420.4,334.1 L1418.2,335.5 L1415.9,337.1 L1413.7,336.8 L1411.4,337.1 L1409.2,337.5 L1406.9,336.9 L1404.7,336.5 L1402.4,337.9 L1400.2,336.2 L1397.9,336.7 L1395.7,337.6 L1393.4,336.7 L1391.2,337.5 L1388.9,338.7 L1386.7,338.1 L1384.4,338.5 L1382.2,339.4 L1379.9,339.0 L1377.7,341.3 L1375.5,342.8 L1373.2,341.1 L1371.0,340.8 L1368.7,339.9 L1366.5,341.4 L1364.2,342.4 L1362.0,343.3 L1359.8,342.5 L1357.5,343.2 L1355.3,344.6 L1353.0,343.4 L1350.8,345.5 L1348.5,345.8 L1346.3,347.1 L1344.1,346.4 L1341.8,347.3 L1339.6,345.9 L1337.3,347.2 L1335.1,346.6 L1332.8,347.4 L1330.6,349.2 L1328.4,348.6 L1326.1,350.7 L1323.9,350.5 L1321.6,352.8 L1319.4,352.5 L1317.1,351.9 L1314.9,352.2 L1312.6,352.9 L1310.4,353.9 L1308.1,355.1 L1305.9,354.7 L1303.6,353.5 L1301.4,353.1 L1299.1,353.8 L1296.9,355.7 L1294.6,361.4 L1292.4,357.4 L1290.1,357.3 L1287.9,357.5 L1285.6,359.1 L1283.4,358.7 L1281.1,363.8 L1278.8,360.9 L1276.6,361.3 L1274.3,361.9 L1272.0,363.7 L1269.7,368.1 L1267.7,366.7 L1265.5,367.0 L1263.2,367.5 L1261.0,368.1 L1258.8,368.0 L1256.5,367.6 L1254.3,367.8 L1252.0,371.4 L1249.8,372.5 L1247.5,371.4 L1245.3,374.0 L1243.1,374.5 L1240.8,374.5 L1238.6,375.5 L1236.4,375.7 L1234.1,375.4 L1231.9,377.2 L1229.6,378.2 L1227.4,378.8 L1225.1,378.3 L1222.9,379.6 L1220.8,381.0 L1218.7,381.8 L1216.6,381.3 L1214.5,381.0 L1212.4,383.0 L1210.3,383.3 L1208.2,383.9 L1206.1,383.5 L1204.0,385.0 L1201.9,385.9 L1199.8,385.6 L1197.7,387.0 L1195.6,387.4 L1193.5,387.4 L1191.5,388.9 L1189.4,390.8 L1187.3,390.5 L1185.2,393.0 L1183.1,394.9 L1181.0,395.9 L1178.9,397.3 L1176.8,397.6 L1174.7,399.7 L1172.6,399.6 L1170.5,398.8 L1168.4,400.0 L1166.3,400.8 L1164.2,400.6 L1162.1,399.5 L1160.0,400.2 L1157.9,400.7 L1155.8,404.0 L1153.7,404.1 L1151.6,407.2 L1149.5,410.2 L1147.4,412.1 L1145.3,412.4 L1143.2,413.6 L1141.2,413.2 L1139.1,413.1 L1137.0,417.9 L1134.9,415.5 L1132.8,415.7 L1130.7,416.5 L1128.6,416.8 L1126.5,419.3 L1124.4,421.2 L1122.3,421.9 L1120.2,424.7 L1118.1,425.7 L1116.0,426.9 L1113.9,426.8 L1111.8,428.6 L1109.7,429.6 L1107.6,431.5 L1105.5,432.2 L1103.5,433.0 L1101.4,434.7 L1099.3,434.5 L1097.2,436.0 L1095.1,438.7 L1093.0,441.7 L1090.9,442.2 L1088.8,443.4 L1086.7,444.8 L1084.6,447.3 L1082.5,447.9 L1080.4,449.8 L1078.3,451.7 L1076.2,451.9 L1074.1,453.7 L1072.0,454.0 L1069.9,456.3 L1067.8,457.5 L1065.7,458.4 L1063.6,460.8 L1061.5,463.6 L1059.4,464.7 L1057.3,470.7 L1055.2,469.4 L1053.2,471.8 L1051.1,474.4 L1049.0,475.9 L1046.9,478.7 L1044.8,481.8 L1042.7,483.3 L1040.6,485.6 L1038.5,488.7 L1036.4,491.0 L1034.3,492.5 L1032.1,494.1 L1029.8,494.0 L1027.6,495.9 L1025.3,496.5 L1023.1,498.2 L1020.8,500.5 L1018.6,500.1 L1016.4,499.0 L1014.1,499.7 L1011.9,500.6 L1009.6,501.7 L1007.4,502.3 L1005.1,504.6 L1002.9,508.1 L1000.6,504.5 L998.4,503.2 L996.1,503.0 L993.9,504.7 L991.6,505.7 L989.4,505.4 L987.1,505.6 L984.9,505.3 L982.6,503.6 L980.4,503.7 L978.1,503.4 L975.9,503.9 L973.6,508.3 L971.4,504.1 L969.3,505.7 L967.2,506.1 L965.1,504.9 L963.0,504.5 L961.0,506.3 L958.9,504.9 L956.8,506.6 L954.7,505.9 L952.6,507.5 L950.5,506.3 L948.4,506.4 L946.3,506.5 L944.2,511.4 L942.1,507.3 L940.0,506.7Z" fill="#F5A855" fill-opacity="0.18" stroke="#F5A855" stroke-opacity="0.288" stroke-width="1"/><path d="M940.0,492.1 L942.1,493.5 L944.2,493.1 L946.3,493.9 L948.4,493.1 L950.5,493.4 L952.6,492.1 L954.7,493.7 L956.7,493.9 L958.8,494.1 L960.9,492.1 L963.0,493.0 L965.1,492.5 L967.2,494.0 L969.3,494.4 L971.4,493.8 L973.5,492.9 L975.6,492.9 L977.7,490.8 L979.8,491.4 L981.9,491.4 L984.0,491.9 L986.1,490.2 L988.2,482.9 L990.3,488.1 L992.4,483.2 L994.5,487.6 L996.6,488.6 L998.7,487.1 L1000.8,486.4 L1002.9,486.0 L1005.2,483.1 L1007.6,482.4 L1009.9,480.4 L1012.3,478.4 L1014.3,474.7 L1016.3,471.0 L1018.3,467.0 L1020.3,465.1 L1022.3,450.4 L1024.3,456.6 L1026.3,454.3 L1028.3,451.0 L1030.3,434.4 L1032.3,431.2 L1034.3,439.5 L1036.5,435.3 L1038.8,430.0 L1041.0,424.7 L1043.3,420.2 L1045.5,418.1 L1047.8,414.2 L1050.0,410.5 L1053.0,394.5 L1055.1,397.6 L1057.2,396.8 L1059.2,394.2 L1061.3,393.3 L1063.4,391.6 L1065.5,388.3 L1067.5,386.6 L1069.6,384.7 L1071.7,381.6 L1073.8,378.8 L1075.8,377.7 L1077.9,375.4 L1080.0,375.0 L1082.0,374.2 L1084.0,372.5 L1086.0,370.3 L1088.0,367.8 L1090.0,366.5 L1092.0,364.7 L1094.0,361.9 L1096.0,359.9 L1098.0,360.3 L1100.0,359.7 L1102.0,358.1 L1104.0,344.3 L1106.0,354.2 L1108.0,344.2 L1110.1,352.0 L1112.2,338.9 L1114.2,347.1 L1116.3,338.3 L1118.4,346.0 L1120.5,344.1 L1122.5,344.3 L1124.6,339.1 L1126.7,343.1 L1128.8,341.3 L1130.8,332.3 L1132.9,339.6 L1135.0,333.2 L1137.1,338.4 L1139.2,337.1 L1141.2,337.3 L1143.3,335.9 L1145.4,336.1 L1147.5,334.9 L1149.5,333.8 L1151.6,333.1 L1153.7,333.5 L1155.8,332.4 L1157.8,332.1 L1159.9,330.0 L1162.0,323.1 L1164.0,329.3 L1166.0,327.5 L1168.0,326.5 L1170.0,325.2 L1172.0,324.8 L1174.0,319.2 L1176.0,323.5 L1178.0,310.4 L1180.0,314.6 L1182.0,323.4 L1184.0,322.9 L1186.0,321.0 L1188.0,321.2 L1190.0,308.7 L1192.0,318.7 L1194.0,319.4 L1196.0,317.8 L1198.0,305.4 L1200.0,317.8 L1202.0,315.9 L1204.0,308.5 L1206.0,315.3 L1208.0,314.7 L1210.0,315.0 L1212.0,313.7 L1214.0,299.5 L1216.0,312.8 L1218.0,310.9 L1220.0,309.4 L1222.0,310.8 L1224.0,311.0 L1226.0,310.5 L1228.0,308.2 L1230.0,307.0 L1232.0,294.1 L1234.0,306.7 L1236.0,305.7 L1238.0,305.9 L1240.0,297.4 L1242.0,305.6 L1244.0,306.0 L1246.0,304.5 L1248.0,303.7 L1250.0,304.2 L1252.0,291.8 L1254.0,301.4 L1256.0,301.1 L1258.0,294.8 L1260.0,300.7 L1262.0,299.8 L1264.0,301.5 L1266.0,300.0 L1268.0,299.6 L1270.0,299.4 L1272.0,298.7 L1274.1,299.7 L1276.1,298.0 L1278.2,297.9 L1280.2,298.0 L1282.2,298.6 L1284.3,293.2 L1286.3,296.2 L1288.4,295.7 L1290.4,296.2 L1292.5,296.7 L1294.5,296.4 L1296.5,296.6 L1298.6,283.2 L1300.6,294.7 L1302.7,294.9 L1304.7,295.5 L1306.7,294.2 L1308.8,292.6 L1310.8,291.7 L1312.9,292.3 L1314.9,291.0 L1317.0,289.9 L1319.1,291.1 L1321.2,291.1 L1323.3,289.5 L1325.3,288.8 L1327.4,288.3 L1329.5,287.9 L1331.6,288.2 L1333.7,275.2 L1335.8,287.8 L1337.9,286.2 L1340.0,286.8 L1342.1,286.0 L1344.2,285.2 L1346.3,283.1 L1348.4,282.1 L1350.5,281.1 L1352.6,280.3 L1354.7,268.4 L1356.8,278.2 L1358.9,266.2 L1361.0,280.0 L1363.0,280.1 L1365.1,278.9 L1367.2,276.3 L1369.3,274.8 L1371.4,274.8 L1373.5,274.3 L1375.6,273.6 L1377.7,273.7 L1379.8,274.7 L1381.9,274.9 L1384.0,275.1 L1386.1,274.6 L1388.2,274.8 L1390.3,274.8 L1392.4,273.5 L1394.5,272.9 L1396.6,271.0 L1398.7,270.0 L1400.8,262.8 L1402.9,268.3 L1405.0,268.8 L1407.1,266.4 L1409.2,252.7 L1411.3,253.7 L1413.4,263.7 L1415.5,262.3 L1417.6,262.5 L1419.6,257.1 L1421.7,262.5 L1423.8,260.9 L1425.9,260.8 L1428.0,261.3 L1430.1,259.1 L1432.2,245.0 L1434.3,256.6 L1436.4,251.3 L1438.5,257.5 L1440.6,256.3 L1442.7,254.5 L1444.8,248.4 L1446.9,254.8 L1449.0,254.8 L1451.1,254.6 L1453.2,253.0 L1455.3,250.6 L1457.3,251.3 L1459.4,248.9 L1461.5,248.9 L1463.6,248.7 L1465.7,247.8 L1467.8,245.9 L1469.9,245.5 L1472.0,246.2 L1474.1,246.3 L1476.2,244.9 L1478.3,243.5 L1480.4,241.5 L1482.5,241.8 L1484.6,241.5 L1486.7,240.7 L1488.8,239.0 L1490.9,227.3 L1493.0,239.7 L1495.0,239.5 L1497.1,237.9 L1499.2,236.8 L1501.3,236.8 L1503.4,234.3 L1505.5,233.3 L1507.6,226.2 L1509.7,230.8 L1511.8,230.6 L1513.9,216.5 L1516.0,229.1 L1518.1,228.2 L1520.2,227.8 L1522.3,229.1 L1524.4,227.7 L1526.5,227.7 L1528.6,226.2 L1530.7,224.4 L1532.8,223.3 L1534.9,222.7 L1537.0,223.1 L1539.1,222.3 L1541.2,222.1 L1543.3,222.1 L1545.4,218.3 L1547.5,220.2 L1549.6,207.6 L1551.6,219.6 L1553.7,218.5 L1555.8,217.5 L1557.9,218.8 L1560.0,217.9 L1562.0,206.7 L1564.0,215.8 L1566.0,216.6 L1568.0,203.8 L1570.0,217.5 L1572.0,217.0 L1574.0,215.3 L1576.0,213.9 L1578.0,214.0 L1580.0,207.4 L1582.0,212.1 L1582.0,240.9 L1580.0,239.7 L1578.0,240.0 L1576.0,241.9 L1574.0,242.5 L1572.0,243.9 L1570.0,243.5 L1568.0,242.7 L1566.0,244.2 L1564.0,243.6 L1562.0,254.3 L1560.0,245.8 L1557.9,245.3 L1555.8,244.3 L1553.7,245.2 L1551.6,246.4 L1549.6,245.8 L1547.5,246.6 L1545.4,247.3 L1543.3,247.4 L1541.2,248.2 L1539.1,249.0 L1537.0,258.6 L1534.9,252.4 L1532.8,253.4 L1530.7,254.1 L1528.6,254.8 L1526.5,255.6 L1524.4,255.0 L1522.3,253.8 L1520.2,262.2 L1518.1,256.0 L1516.0,257.7 L1513.9,257.6 L1511.8,259.0 L1509.7,261.6 L1507.6,262.2 L1505.5,261.9 L1503.4,261.9 L1501.3,267.8 L1499.2,272.4 L1497.1,263.4 L1495.0,263.9 L1493.0,264.3 L1490.9,266.0 L1488.8,266.1 L1486.7,274.3 L1484.6,274.0 L1482.5,268.4 L1480.4,270.2 L1478.3,271.4 L1476.2,271.6 L1474.1,272.3 L1472.0,271.8 L1469.9,272.9 L1467.8,274.1 L1465.7,285.4 L1463.6,274.5 L1461.5,276.4 L1459.4,277.8 L1457.3,278.8 L1455.3,278.4 L1453.2,278.3 L1451.1,290.0 L1449.0,280.4 L1446.9,289.9 L1444.8,280.1 L1442.7,281.2 L1440.6,282.5 L1438.5,282.6 L1436.4,292.9 L1434.3,284.9 L1432.2,284.8 L1430.1,286.1 L1428.0,290.7 L1425.9,286.8 L1423.8,288.9 L1421.7,288.6 L1419.6,290.7 L1417.6,301.6 L1415.5,292.5 L1413.4,292.8 L1411.3,292.9 L1409.2,293.4 L1407.1,294.0 L1405.0,293.2 L1402.9,295.0 L1400.8,297.7 L1398.7,297.7 L1396.6,298.5 L1394.5,300.1 L1392.4,300.3 L1390.3,308.0 L1388.2,304.0 L1386.1,304.5 L1384.0,306.8 L1381.9,301.3 L1379.8,302.1 L1377.7,302.6 L1375.6,303.8 L1373.5,303.9 L1371.4,303.5 L1369.3,305.5 L1367.2,315.5 L1365.1,306.2 L1363.0,305.8 L1361.0,306.4 L1358.9,305.9 L1356.8,307.5 L1354.7,318.4 L1352.6,308.5 L1350.5,313.6 L1348.4,309.7 L1346.3,311.9 L1344.2,311.2 L1342.1,312.7 L1340.0,314.1 L1337.9,314.0 L1335.8,323.5 L1333.7,315.6 L1331.6,323.0 L1329.5,317.1 L1327.4,316.4 L1325.3,316.3 L1323.3,325.5 L1321.2,320.3 L1319.1,320.9 L1317.0,327.4 L1314.9,317.0 L1312.8,318.3 L1310.8,319.7 L1308.7,322.0 L1306.7,322.0 L1304.6,328.0 L1302.6,328.3 L1300.5,329.5 L1298.5,321.2 L1296.4,322.6 L1294.4,322.1 L1292.3,323.1 L1290.2,323.5 L1288.2,328.6 L1286.1,325.5 L1284.1,327.2 L1282.0,328.1 L1280.0,328.2 L1277.9,329.0 L1275.9,328.6 L1273.8,329.3 L1271.8,330.1 L1269.7,334.3 L1267.5,330.4 L1265.4,330.1 L1263.2,330.5 L1261.0,330.2 L1258.8,335.3 L1256.7,331.8 L1254.5,333.4 L1252.3,332.2 L1250.2,333.5 L1248.0,334.8 L1245.9,334.4 L1243.8,334.0 L1241.7,335.4 L1239.6,335.0 L1237.6,346.3 L1235.5,338.0 L1233.4,338.2 L1231.3,337.8 L1229.2,337.1 L1227.1,338.2 L1225.0,337.1 L1222.9,336.8 L1220.8,337.6 L1218.7,342.2 L1216.6,338.7 L1214.5,340.2 L1212.4,339.9 L1210.3,346.6 L1208.2,340.3 L1206.1,340.2 L1204.0,341.1 L1201.9,340.9 L1199.8,342.1 L1197.7,343.1 L1195.6,353.9 L1193.5,342.9 L1191.4,343.3 L1189.3,344.8 L1187.2,351.0 L1185.2,346.6 L1183.1,346.7 L1181.0,348.0 L1178.9,354.9 L1176.8,348.0 L1174.7,348.5 L1172.6,359.7 L1170.5,351.6 L1168.4,351.5 L1166.3,351.7 L1164.2,350.9 L1162.1,352.8 L1160.0,353.5 L1157.9,355.1 L1155.8,356.9 L1153.7,363.8 L1151.6,357.2 L1149.5,358.5 L1147.5,368.1 L1145.4,367.0 L1143.3,358.4 L1141.2,360.2 L1139.1,361.8 L1137.0,362.0 L1134.9,361.6 L1132.8,367.5 L1130.7,363.2 L1128.6,365.1 L1126.5,364.6 L1124.4,366.6 L1122.3,368.6 L1120.2,368.6 L1118.1,370.6 L1116.0,370.3 L1113.9,372.5 L1111.8,383.4 L1109.7,375.3 L1107.6,384.0 L1105.5,379.6 L1103.4,381.3 L1101.3,381.1 L1099.2,390.9 L1097.2,392.6 L1095.1,384.0 L1093.0,385.0 L1090.9,387.4 L1088.8,389.4 L1086.7,390.8 L1084.6,393.4 L1082.5,395.7 L1080.4,397.3 L1078.3,398.5 L1076.2,402.2 L1074.1,403.7 L1072.0,407.7 L1069.9,408.8 L1067.8,411.9 L1065.7,420.5 L1063.6,416.8 L1061.5,421.3 L1059.4,424.6 L1057.3,431.3 L1055.2,429.9 L1053.1,434.0 L1050.8,437.5 L1048.4,443.6 L1046.0,449.2 L1043.7,452.9 L1041.3,457.8 L1039.0,466.0 L1036.7,474.1 L1034.3,468.9 L1032.0,471.7 L1029.6,475.7 L1027.2,479.4 L1024.9,483.4 L1022.5,487.7 L1020.2,488.9 L1017.8,503.7 L1015.4,498.9 L1013.3,495.0 L1011.2,495.7 L1009.1,498.1 L1007.1,500.0 L1005.0,501.6 L1002.9,502.3 L1000.8,500.8 L998.7,500.7 L996.6,501.8 L994.5,500.8 L992.4,501.1 L990.3,503.2 L988.2,502.2 L986.1,501.7 L984.0,502.8 L981.9,501.2 L979.8,502.6 L977.7,502.0 L975.6,502.0 L973.5,502.3 L971.4,502.5 L969.3,501.9 L967.2,508.2 L965.1,501.4 L963.0,502.2 L960.9,504.2 L958.8,500.2 L956.7,501.0 L954.7,502.3 L952.6,501.9 L950.5,502.2 L948.4,503.3 L946.3,502.9 L944.2,509.5 L942.1,510.3 L940.0,500.8Z" fill="#6ABF6E" fill-opacity="0.18" stroke="#6ABF6E" stroke-opacity="0.288" stroke-width="1"/><path d="M940.5,439.7 L944.0,375.6 L946.3,268.7 L948.0,295.2 L950.0,288.3 L952.0,279.9 L952.6,280.8 L954.7,275.1 L956.8,263.5 L958.9,254.5 L961.2,257.5 L963.6,260.1 L965.9,261.1 L968.3,262.2 L971.4,250.1 L973.5,251.5 L975.6,253.9 L977.7,255.0 L980.1,256.5 L982.4,257.0 L984.8,256.2 L987.1,257.0 L989.5,255.8 L991.9,253.7 L994.2,252.0 L996.6,250.6 L998.7,251.8 L1000.8,251.2 L1002.9,252.2 L1004.9,251.5 L1007.0,251.4 L1009.1,251.9 L1011.2,251.7 L1013.3,251.4 L1015.4,250.8 L1017.5,251.4 L1019.6,250.4 L1021.7,254.4 L1023.8,250.1 L1025.9,251.8 L1028.0,251.0 L1030.1,246.9 L1032.2,249.9 L1034.3,251.8 L1036.7,249.7 L1039.0,249.5 L1041.3,248.4 L1043.7,248.3 L1046.1,253.8 L1048.4,256.9 L1050.6,256.0 L1052.8,255.3 L1055.0,253.7 L1057.2,253.4 L1059.4,250.2 L1061.5,250.9 L1063.6,250.4 L1065.7,250.4 L1067.8,251.5 L1069.9,251.3 L1072.0,251.9 L1074.1,251.0 L1076.2,253.0 L1078.3,252.8 L1080.4,252.4 L1082.5,252.6 L1084.6,251.9 L1086.7,252.3 L1088.8,252.4 L1090.9,253.1 L1093.0,252.0 L1095.1,253.4 L1097.2,253.7 L1099.3,254.0 L1101.4,255.2 L1103.5,254.3 L1105.5,255.3 L1107.6,256.1 L1109.7,251.2 L1111.8,249.8 L1113.9,254.6 L1116.0,254.8 L1118.1,247.0 L1120.2,252.8 L1122.3,252.1 L1124.4,246.7 L1126.5,251.9 L1128.6,250.2 L1130.7,250.7 L1132.8,251.3 L1134.9,251.5 L1137.0,250.8 L1139.1,250.2 L1141.2,249.9 L1143.2,250.4 L1145.3,252.0 L1147.4,253.7 L1149.5,252.2 L1151.6,251.9 L1153.7,251.3 L1155.8,251.0 L1157.9,250.1 L1160.0,250.8 L1162.1,245.5 L1164.2,248.6 L1166.3,251.4 L1168.4,251.7 L1170.5,251.3 L1172.6,251.6 L1174.7,252.1 L1176.8,250.7 L1178.9,251.1 L1181.0,251.4 L1183.1,250.1 L1185.2,250.6 L1187.3,250.2 L1189.4,251.0 L1191.5,251.2 L1193.5,251.7 L1195.6,251.1 L1197.7,251.1 L1199.8,252.7 L1201.9,253.3 L1204.0,253.8 L1206.1,252.9 L1208.2,253.0 L1210.3,254.5 L1212.4,252.8 L1214.5,251.0 L1216.6,250.2 L1218.7,250.1 L1220.8,250.8 L1222.9,250.4 L1225.0,252.8 L1227.1,255.8 L1229.2,256.5 L1231.3,254.2 L1233.3,251.4 L1235.4,250.3 L1237.5,249.9 L1239.6,248.7 L1241.7,250.7 L1243.8,249.7 L1245.9,250.4 L1248.0,251.6 L1250.0,250.4 L1252.0,249.5 L1254.7,249.8 L1257.4,251.6 L1259.4,253.2 L1261.4,254.2 L1263.7,254.8 L1264.6,252.3 L1266.1,267.6 L1266.9,269.8 L1269.3,285.6 L1269.7,286.0 L1270.9,242.1 L1274.0,271.9 L1276.3,259.3 L1278.7,254.6 L1281.1,246.1 L1283.4,236.8 L1285.8,238.3 L1288.2,241.4 L1290.5,245.4 L1292.9,248.2 L1295.0,242.9 L1297.0,235.6 L1299.1,227.9 L1301.5,234.4 L1303.8,235.0 L1306.2,237.0 L1308.6,239.8 L1310.7,239.4 L1312.8,236.9 L1314.9,236.7 L1317.0,235.5 L1319.0,232.3 L1321.1,232.1 L1323.2,231.2 L1325.3,229.5 L1327.4,228.0 L1329.5,229.4 L1331.6,224.1 L1333.7,229.8 L1335.8,229.9 L1337.9,229.6 L1340.0,231.4 L1342.1,230.2 L1344.2,230.2 L1346.3,229.6 L1348.4,229.9 L1350.5,229.3 L1352.6,225.6 L1354.7,231.3 L1356.7,230.1 L1358.8,229.5 L1360.9,230.3 L1363.0,231.2 L1365.1,229.9 L1367.2,229.4 L1369.3,224.9 L1371.4,231.3 L1373.5,232.0 L1375.6,231.1 L1377.7,231.4 L1379.8,231.3 L1381.9,229.9 L1384.0,230.3 L1386.1,230.7 L1388.2,231.3 L1390.3,230.2 L1392.4,230.4 L1394.5,230.4 L1396.6,230.1 L1398.7,229.3 L1400.8,230.1 L1402.9,230.9 L1405.0,229.1 L1407.1,231.5 L1409.2,229.6 L1411.3,230.7 L1413.3,230.5 L1415.4,229.2 L1417.5,222.8 L1419.6,225.8 L1421.7,230.8 L1423.8,230.9 L1425.9,230.2 L1428.0,229.6 L1430.1,229.0 L1432.2,229.1 L1434.3,228.3 L1436.4,230.1 L1438.5,230.4 L1440.6,230.6 L1442.7,230.6 L1444.8,229.0 L1446.9,228.3 L1449.0,222.6 L1451.0,227.3 L1453.1,228.0 L1455.2,228.9 L1457.3,227.8 L1459.4,229.0 L1461.5,228.4 L1463.6,229.0 L1465.7,228.2 L1467.8,229.1 L1469.9,228.7 L1472.0,227.5 L1474.1,226.7 L1476.2,226.6 L1478.3,226.4 L1480.4,223.0 L1482.5,226.9 L1484.6,226.0 L1486.7,228.1 L1488.8,228.9 L1490.9,228.2 L1493.0,226.9 L1495.1,226.9 L1497.2,226.3 L1499.3,227.4 L1501.4,226.3 L1503.5,225.9 L1505.6,227.1 L1507.6,228.4 L1509.7,228.0 L1511.8,228.9 L1513.9,229.1 L1516.0,228.9 L1518.1,227.5 L1520.2,228.6 L1522.3,228.8 L1524.4,221.7 L1526.5,227.4 L1528.6,227.3 L1530.7,227.7 L1532.8,226.3 L1534.9,226.1 L1537.0,228.7 L1539.1,228.0 L1541.2,221.5 L1543.3,227.6 L1545.3,226.1 L1547.4,226.3 L1549.5,225.4 L1551.6,227.3 L1553.7,226.5 L1555.7,225.8 L1557.7,226.6 L1559.8,226.8 L1561.8,225.6 L1563.8,224.9 L1565.8,222.0 L1567.8,226.5 L1569.9,227.0 L1571.9,227.4 L1573.9,227.6 L1575.9,228.5 L1578.0,228.7 L1580.0,227.5 L1582.0,227.3 L1582.0,234.3 L1580.0,236.4 L1578.0,236.2 L1575.9,236.6 L1573.9,235.9 L1571.9,234.5 L1569.9,233.3 L1567.8,234.3 L1565.8,235.5 L1563.8,233.8 L1561.8,234.1 L1559.8,234.1 L1557.7,234.9 L1555.7,234.6 L1553.7,234.6 L1551.6,235.8 L1549.5,235.3 L1547.4,233.8 L1545.3,237.8 L1543.3,233.1 L1541.2,234.1 L1539.1,235.7 L1537.0,234.9 L1534.9,239.7 L1532.8,236.7 L1530.7,236.3 L1528.6,235.5 L1526.5,236.2 L1524.4,235.0 L1522.3,234.7 L1520.2,233.9 L1518.1,235.3 L1516.0,234.9 L1513.9,235.3 L1511.8,239.4 L1509.7,236.6 L1507.6,240.0 L1505.6,239.7 L1503.5,235.7 L1501.4,235.9 L1499.3,234.8 L1497.2,235.8 L1495.1,234.1 L1493.0,234.8 L1490.9,235.9 L1488.8,237.3 L1486.7,236.7 L1484.6,237.1 L1482.5,236.7 L1480.4,237.5 L1478.3,236.3 L1476.2,236.8 L1474.1,238.9 L1472.0,236.9 L1469.9,235.1 L1467.8,235.6 L1465.7,236.6 L1463.6,236.8 L1461.5,237.7 L1459.4,237.2 L1457.3,236.3 L1455.2,235.4 L1453.1,236.7 L1451.0,237.5 L1449.0,239.7 L1446.9,236.7 L1444.8,237.2 L1442.7,239.7 L1440.6,239.7 L1438.5,239.9 L1436.4,239.0 L1434.3,238.7 L1432.2,237.1 L1430.1,236.6 L1428.0,237.2 L1425.9,239.0 L1423.8,238.6 L1421.7,238.1 L1419.6,237.4 L1417.5,237.0 L1415.4,236.4 L1413.3,236.8 L1411.3,238.0 L1409.2,237.0 L1407.1,239.4 L1405.0,236.1 L1402.9,236.9 L1400.8,238.1 L1398.7,238.7 L1396.6,239.1 L1394.5,237.7 L1392.4,235.9 L1390.3,236.0 L1388.2,236.3 L1386.1,237.3 L1384.0,236.9 L1381.9,237.3 L1379.8,238.1 L1377.7,238.0 L1375.6,237.6 L1373.5,236.4 L1371.4,236.4 L1369.3,236.7 L1367.2,236.0 L1365.1,236.3 L1363.0,236.8 L1360.9,240.4 L1358.8,238.5 L1356.7,239.2 L1354.7,240.6 L1352.6,239.8 L1350.5,241.4 L1348.4,239.9 L1346.3,240.3 L1344.1,241.5 L1341.8,243.5 L1339.6,245.5 L1337.3,246.7 L1335.1,248.4 L1332.8,248.7 L1330.6,249.8 L1327.4,241.2 L1325.3,243.6 L1323.2,246.9 L1321.1,249.3 L1319.0,252.0 L1317.0,253.4 L1314.9,257.1 L1312.8,259.0 L1310.7,261.5 L1308.6,264.8 L1306.4,263.1 L1304.1,260.1 L1301.9,259.7 L1299.6,258.1 L1297.4,257.0 L1295.1,258.8 L1292.9,256.0 L1289.7,274.1 L1287.6,268.0 L1285.5,263.7 L1283.4,257.7 L1281.3,266.4 L1279.2,275.5 L1277.1,282.5 L1274.0,283.9 L1270.9,305.1 L1269.7,294.4 L1269.3,297.5 L1266.9,279.2 L1266.1,275.7 L1263.7,263.0 L1261.4,261.8 L1259.4,261.0 L1257.4,260.3 L1254.7,258.9 L1252.0,258.5 L1250.0,259.1 L1248.0,257.8 L1245.9,258.8 L1243.8,257.1 L1241.7,257.2 L1239.6,256.2 L1237.5,256.3 L1235.4,256.9 L1233.3,259.5 L1231.3,262.7 L1229.2,265.1 L1227.1,263.7 L1225.0,264.7 L1222.9,258.9 L1220.8,258.4 L1218.7,262.5 L1216.6,261.4 L1214.5,261.0 L1212.4,261.7 L1210.3,262.3 L1208.2,262.8 L1206.1,262.4 L1204.0,261.6 L1201.9,260.2 L1199.8,260.3 L1197.7,259.8 L1195.6,259.8 L1193.5,259.4 L1191.5,259.2 L1189.4,258.0 L1187.3,259.5 L1185.2,257.8 L1183.1,260.1 L1181.0,259.3 L1178.9,260.1 L1176.8,260.4 L1174.7,261.0 L1172.6,260.3 L1170.5,258.7 L1168.4,257.9 L1166.3,260.2 L1164.2,258.4 L1162.1,257.7 L1160.0,258.0 L1157.9,257.9 L1155.8,257.8 L1153.7,259.4 L1151.6,260.6 L1149.5,259.6 L1147.4,261.1 L1145.3,262.5 L1143.2,261.1 L1141.2,260.1 L1139.1,259.0 L1137.0,258.1 L1134.9,257.2 L1132.8,257.3 L1130.7,258.5 L1128.6,258.7 L1126.5,259.3 L1124.4,257.8 L1122.3,259.0 L1120.2,262.9 L1118.1,259.8 L1116.0,263.5 L1113.9,262.0 L1111.8,261.9 L1109.7,262.3 L1107.6,262.5 L1105.5,262.0 L1103.5,262.0 L1101.4,262.9 L1099.3,262.3 L1097.2,261.2 L1095.1,261.7 L1093.0,260.0 L1090.9,261.1 L1088.8,260.0 L1086.7,260.4 L1084.6,261.0 L1082.5,260.5 L1080.4,259.8 L1078.3,260.5 L1076.2,260.8 L1074.1,260.3 L1072.0,260.1 L1069.9,260.1 L1067.8,261.1 L1065.7,259.1 L1063.6,259.4 L1061.5,259.6 L1059.4,257.9 L1057.2,259.0 L1055.0,261.5 L1052.8,261.6 L1050.6,262.7 L1048.4,265.1 L1046.1,261.2 L1043.7,257.3 L1041.3,258.3 L1039.0,257.4 L1036.7,258.4 L1034.3,260.4 L1032.2,260.1 L1030.1,260.9 L1028.0,260.5 L1025.9,260.8 L1023.8,266.2 L1021.7,262.2 L1019.6,262.0 L1017.5,260.9 L1015.4,263.8 L1013.3,258.9 L1011.2,259.4 L1009.1,261.4 L1007.0,259.5 L1004.9,259.7 L1002.9,258.5 L1000.8,257.7 L998.7,259.0 L996.6,260.2 L994.2,262.4 L991.9,262.5 L989.5,263.1 L987.1,265.6 L984.8,264.1 L982.4,263.6 L980.1,264.9 L977.7,265.5 L975.6,270.6 L973.5,274.2 L971.4,277.1 L968.3,271.6 L965.9,276.3 L963.6,282.1 L961.2,289.4 L958.9,296.3 L956.8,297.3 L954.7,301.2 L952.6,307.2 L952.0,289.1 L950.0,297.1 L948.0,305.9 L946.0,345.0 L944.0,384.7 L940.5,450.9Z" fill="#5A8DDD" fill-opacity="0.18" stroke="#5A8DDD" stroke-opacity="0.288" stroke-width="1"/><path d="M940.0,497.4 L942.1,498.7 L944.2,498.8 L946.3,498.5 L948.4,497.5 L950.5,497.5 L952.6,498.0 L954.7,493.4 L956.8,490.4 L958.9,486.1 L961.0,480.4 L963.0,475.8 L965.1,471.2 L967.5,467.2 L969.9,465.9 L972.2,458.6 L974.6,459.1 L977.0,459.4 L979.3,456.7 L981.6,456.9 L984.0,454.0 L986.4,454.2 L988.7,449.8 L991.0,454.3 L993.4,454.7 L995.8,454.3 L998.1,454.5 L1000.5,453.8 L1002.9,453.2 L1005.1,450.6 L1007.4,450.2 L1009.6,449.7 L1011.9,445.7 L1014.1,450.4 L1016.4,450.4 L1018.6,448.2 L1020.8,448.8 L1023.1,449.0 L1025.3,449.1 L1027.6,448.7 L1029.8,448.4 L1032.1,447.6 L1034.3,447.4 L1036.5,446.6 L1038.8,446.9 L1041.0,444.8 L1043.3,445.9 L1045.5,445.5 L1047.8,444.2 L1050.0,444.6 L1052.2,445.0 L1054.5,445.5 L1056.7,445.2 L1059.0,444.4 L1061.2,444.4 L1063.5,444.0 L1065.7,443.1 L1067.9,443.2 L1070.2,442.6 L1072.4,443.0 L1074.7,441.7 L1076.9,442.5 L1079.2,440.8 L1081.4,439.5 L1083.7,440.3 L1085.9,441.5 L1088.2,440.0 L1090.4,438.9 L1092.7,439.2 L1094.9,439.9 L1097.2,438.5 L1099.4,437.0 L1101.7,436.1 L1103.9,433.7 L1106.2,427.2 L1108.4,430.8 L1110.7,428.0 L1112.9,426.4 L1114.9,425.5 L1116.9,423.5 L1118.9,423.6 L1120.9,422.1 L1122.9,421.8 L1124.9,420.5 L1126.9,420.0 L1128.9,421.1 L1130.9,420.7 L1132.9,420.7 L1134.9,419.2 L1137.2,414.4 L1139.6,407.0 L1142.0,399.7 L1144.3,395.2 L1146.5,392.8 L1148.8,390.5 L1151.0,387.6 L1153.3,384.2 L1155.5,382.4 L1157.8,379.9 L1160.0,378.2 L1162.2,374.4 L1164.5,371.4 L1166.7,369.4 L1169.0,367.7 L1171.2,365.5 L1173.5,362.9 L1175.7,361.1 L1177.9,359.3 L1180.2,356.0 L1182.4,353.2 L1184.7,351.3 L1186.9,349.2 L1189.2,346.9 L1191.4,346.0 L1193.7,344.1 L1195.9,343.0 L1198.2,340.5 L1200.4,339.0 L1202.7,337.4 L1204.9,334.4 L1207.2,331.7 L1209.4,328.1 L1211.7,326.3 L1213.9,323.0 L1216.2,321.5 L1218.4,319.1 L1220.7,317.8 L1222.9,316.3 L1224.5,304.8 L1226.6,303.2 L1228.6,300.9 L1230.7,300.6 L1232.8,297.9 L1234.9,295.9 L1236.9,295.2 L1239.0,295.7 L1241.1,295.0 L1243.2,293.9 L1245.2,291.3 L1247.3,289.9 L1249.4,289.5 L1251.4,287.9 L1253.5,287.6 L1255.6,286.3 L1257.7,284.1 L1259.7,283.3 L1261.8,282.4 L1263.9,281.2 L1266.0,278.8 L1268.0,278.6 L1270.1,278.0 L1272.2,278.2 L1274.3,276.0 L1276.4,274.8 L1278.5,273.2 L1280.5,272.8 L1282.6,272.9 L1284.7,272.0 L1286.8,271.3 L1288.9,270.6 L1291.0,269.8 L1293.0,269.6 L1295.1,269.5 L1297.2,266.4 L1299.3,265.8 L1301.4,264.5 L1303.5,262.6 L1305.5,262.1 L1307.6,260.8 L1309.7,260.8 L1311.7,259.8 L1313.8,260.7 L1315.8,259.7 L1317.9,258.0 L1319.9,256.7 L1322.0,256.8 L1324.0,258.0 L1326.1,258.5 L1328.1,256.8 L1330.2,256.2 L1332.2,254.6 L1334.3,255.5 L1336.3,253.4 L1338.3,253.4 L1340.4,253.8 L1342.4,253.0 L1344.5,252.3 L1346.5,251.8 L1348.6,249.4 L1350.6,250.5 L1352.7,249.3 L1354.7,248.1 L1356.8,246.3 L1358.8,247.7 L1360.9,245.5 L1362.9,245.3 L1365.0,244.2 L1367.0,244.0 L1369.1,245.0 L1371.1,239.8 L1373.2,244.6 L1375.2,242.6 L1377.2,243.9 L1379.3,242.4 L1381.4,243.4 L1383.4,242.0 L1385.5,243.1 L1387.5,242.1 L1389.6,241.9 L1391.6,240.8 L1393.7,239.7 L1395.7,239.9 L1397.8,238.8 L1399.8,238.7 L1401.9,239.9 L1403.9,239.2 L1406.0,238.1 L1408.0,238.2 L1410.0,238.1 L1412.1,238.7 L1414.2,238.8 L1416.2,236.7 L1418.3,232.1 L1420.4,235.4 L1422.5,234.3 L1424.7,235.4 L1426.8,234.3 L1428.9,233.1 L1431.0,233.8 L1433.1,232.7 L1435.2,233.9 L1437.3,234.2 L1439.4,234.3 L1441.5,233.5 L1443.7,233.2 L1445.8,233.3 L1447.9,232.1 L1450.0,230.8 L1452.0,230.0 L1454.0,229.7 L1456.0,231.4 L1458.0,231.4 L1460.0,231.3 L1462.0,229.1 L1464.0,230.2 L1466.0,229.7 L1468.0,229.0 L1470.0,228.6 L1472.0,227.8 L1474.0,228.2 L1476.0,227.0 L1478.0,225.4 L1480.0,219.6 L1482.7,224.7 L1484.9,227.1 L1487.1,227.7 L1489.3,225.8 L1491.6,226.6 L1493.8,227.3 L1496.0,227.5 L1498.0,223.6 L1500.0,220.6 L1502.0,218.2 L1504.0,217.4 L1505.0,228.9 L1507.5,221.4 L1510.0,215.5 L1512.5,215.1 L1515.0,212.9 L1517.0,219.0 L1519.0,226.2 L1521.0,218.7 L1523.0,210.1 L1525.0,209.1 L1527.0,209.2 L1529.0,207.9 L1531.0,206.4 L1533.0,205.0 L1535.0,205.7 L1537.0,204.9 L1539.0,203.7 L1541.0,204.4 L1543.0,204.2 L1545.0,204.5 L1547.0,205.5 L1549.0,203.7 L1551.0,202.6 L1553.0,203.7 L1555.0,203.1 L1557.0,201.8 L1559.0,196.5 L1561.0,199.8 L1563.0,199.8 L1565.0,199.0 L1567.0,198.9 L1569.0,199.3 L1571.0,196.5 L1573.0,198.0 L1575.0,197.7 L1577.0,198.4 L1579.0,199.3 L1581.0,198.2 L1581.2,288.8 L1579.2,288.9 L1577.2,288.6 L1575.2,290.5 L1573.2,289.3 L1571.2,290.5 L1569.1,292.1 L1567.1,292.3 L1565.1,292.9 L1563.1,292.3 L1561.1,292.5 L1559.1,294.2 L1557.1,293.6 L1555.1,294.7 L1553.1,294.3 L1551.1,294.8 L1549.1,295.0 L1547.1,295.6 L1545.0,295.0 L1543.0,294.7 L1541.0,294.5 L1539.0,295.1 L1537.0,294.9 L1535.0,297.8 L1533.0,295.8 L1531.0,297.0 L1529.0,296.5 L1527.0,297.9 L1525.0,297.0 L1522.9,298.0 L1520.9,299.4 L1518.9,300.6 L1516.9,300.3 L1514.9,300.4 L1512.9,299.6 L1510.7,302.0 L1508.4,301.4 L1506.2,302.4 L1503.9,304.9 L1501.7,306.9 L1499.4,308.3 L1497.2,308.0 L1495.1,310.0 L1493.0,311.7 L1490.9,314.0 L1488.8,313.8 L1486.7,314.8 L1484.6,314.8 L1482.5,315.7 L1480.4,316.9 L1478.3,317.6 L1476.2,320.3 L1474.1,322.5 L1472.0,326.4 L1469.9,327.0 L1467.8,328.7 L1465.7,331.0 L1463.3,333.9 L1461.0,337.2 L1458.7,338.4 L1456.3,341.0 L1454.1,341.2 L1451.8,342.1 L1449.6,342.5 L1447.3,345.1 L1445.1,344.0 L1442.8,345.1 L1440.6,345.8 L1438.5,351.4 L1436.4,354.4 L1434.3,358.9 L1432.2,360.1 L1430.1,362.7 L1428.0,363.3 L1425.9,364.4 L1423.8,366.7 L1421.7,369.8 L1419.3,372.9 L1417.0,378.5 L1414.7,375.7 L1412.3,378.3 L1410.2,385.8 L1408.1,394.5 L1406.0,401.9 L1403.7,400.4 L1401.3,397.4 L1398.9,395.7 L1396.6,395.5 L1394.5,395.5 L1392.4,397.3 L1390.3,403.8 L1388.2,403.1 L1386.1,404.1 L1384.0,407.9 L1381.9,410.0 L1379.8,411.6 L1377.7,415.1 L1375.6,418.1 L1373.5,419.6 L1371.4,422.0 L1369.1,425.1 L1366.7,425.8 L1364.3,428.8 L1362.0,436.1 L1359.8,433.9 L1357.5,433.8 L1355.3,434.9 L1353.0,437.7 L1350.8,439.6 L1348.5,440.4 L1346.3,441.6 L1344.1,442.4 L1341.8,445.6 L1339.6,446.8 L1337.3,447.9 L1335.1,449.4 L1332.8,451.0 L1330.6,451.9 L1328.4,451.9 L1326.1,451.5 L1323.9,454.0 L1321.6,454.2 L1319.4,456.1 L1317.1,457.1 L1314.9,458.4 L1312.8,457.7 L1310.7,459.1 L1308.6,457.9 L1306.5,463.7 L1304.4,461.7 L1302.3,462.0 L1300.2,462.1 L1298.1,462.6 L1296.0,462.4 L1294.0,462.2 L1292.0,462.6 L1290.0,461.1 L1288.0,460.6 L1286.0,461.7 L1284.0,462.5 L1282.0,463.3 L1280.0,462.2 L1278.0,463.3 L1276.0,463.8 L1274.0,465.4 L1271.8,464.0 L1269.7,461.7 L1267.5,461.2 L1265.3,459.9 L1263.1,461.2 L1260.9,462.5 L1258.7,460.6 L1256.5,461.1 L1254.3,465.2 L1252.0,459.4 L1249.9,459.8 L1247.8,458.9 L1245.8,458.2 L1243.7,458.6 L1241.6,458.3 L1239.5,458.6 L1237.5,459.3 L1235.4,461.3 L1233.3,460.4 L1231.2,459.7 L1229.1,459.3 L1227.1,460.9 L1225.0,459.5 L1222.9,458.0 L1220.7,458.6 L1218.4,457.7 L1216.2,458.3 L1213.9,460.1 L1211.7,458.4 L1209.4,458.9 L1207.2,459.4 L1204.9,459.6 L1202.7,458.2 L1200.4,459.1 L1198.2,459.5 L1195.9,457.8 L1193.7,456.0 L1191.4,455.8 L1189.3,459.0 L1187.2,455.3 L1185.1,454.9 L1183.0,455.6 L1180.9,454.8 L1178.8,452.9 L1176.7,453.5 L1174.7,454.4 L1172.6,454.0 L1170.5,452.2 L1168.4,452.7 L1166.3,453.4 L1164.2,452.4 L1162.1,450.3 L1160.0,450.7 L1157.9,450.6 L1155.8,450.5 L1153.7,451.3 L1151.6,450.2 L1149.5,449.4 L1147.4,449.1 L1145.3,448.4 L1143.3,446.3 L1141.2,446.0 L1139.1,446.6 L1137.0,444.5 L1134.9,445.1 L1132.8,444.2 L1130.7,445.2 L1128.6,444.1 L1126.4,444.1 L1124.1,445.8 L1121.9,446.2 L1119.6,445.1 L1117.4,444.6 L1115.1,445.4 L1112.9,444.9 L1110.7,444.1 L1108.4,444.9 L1106.2,445.1 L1103.9,445.8 L1101.7,445.0 L1099.4,446.1 L1097.2,445.7 L1094.9,446.0 L1092.7,446.8 L1090.4,446.7 L1088.2,448.0 L1085.9,449.1 L1083.7,449.4 L1081.4,448.5 L1079.2,449.7 L1076.9,449.6 L1074.7,449.7 L1072.4,451.0 L1070.2,451.6 L1067.9,450.8 L1065.7,450.5 L1063.5,449.2 L1061.2,449.3 L1059.0,450.7 L1056.7,451.6 L1054.5,450.7 L1052.2,450.2 L1050.0,451.6 L1047.8,453.0 L1045.5,453.8 L1043.3,453.3 L1041.0,451.9 L1038.8,451.3 L1036.5,452.6 L1034.3,452.9 L1032.1,453.9 L1029.8,452.7 L1027.6,454.0 L1025.3,454.4 L1023.1,454.1 L1020.8,458.9 L1018.6,456.8 L1016.4,457.1 L1014.1,458.3 L1011.9,457.5 L1009.6,458.3 L1007.4,456.6 L1005.1,457.3 L1002.9,458.8 L1000.5,459.2 L998.1,461.1 L995.8,463.4 L993.4,463.8 L991.0,464.0 L988.7,464.4 L986.4,463.3 L984.0,462.7 L981.6,464.7 L979.3,466.8 L977.0,467.0 L974.6,468.1 L972.2,473.8 L969.9,471.8 L967.5,476.4 L965.1,478.3 L963.0,482.1 L961.0,489.0 L958.9,494.0 L956.8,498.1 L954.7,501.6 L952.6,504.9 L950.5,507.4 L948.4,507.0 L946.3,507.1 L944.2,506.6 L942.1,506.5 L940.0,505.7Z" fill="#7A4E08" fill-opacity="0.18" stroke="#7A4E08" stroke-opacity="0.288" stroke-width="1"/><path d="M952.6,502.6 L955.7,480.6 L958.9,471.3 L961.0,457.6 L963.0,445.6 L965.1,436.6 L967.2,427.9 L969.3,420.4 L971.4,415.3 L973.3,408.1 L975.2,403.8 L977.1,399.4 L979.0,394.7 L980.9,391.3 L983.0,387.8 L985.0,384.3 L987.1,380.8 L989.2,375.4 L991.3,370.5 L993.4,363.6 L995.5,358.1 L997.6,353.7 L999.7,350.5 L1001.8,347.4 L1003.9,344.0 L1006.0,340.9 L1008.1,336.8 L1010.2,330.9 L1012.3,324.1 L1014.4,318.8 L1016.5,314.6 L1018.6,309.1 L1020.7,303.9 L1022.8,299.8 L1024.9,294.3 L1028.0,289.0 L1029.9,283.9 L1031.8,281.0 L1033.6,277.9 L1035.5,274.8 L1037.4,272.2 L1039.5,268.5 L1041.6,265.6 L1043.7,262.7 L1045.8,259.7 L1047.9,256.6 L1050.0,253.9 L1052.1,252.6 L1054.2,251.7 L1056.3,248.7 L1058.4,248.3 L1060.5,246.3 L1062.6,244.8 L1064.7,243.0 L1066.8,242.1 L1068.8,241.5 L1070.9,240.0 L1073.0,238.9 L1075.1,236.6 L1076.9,235.9 L1078.7,235.3 L1080.5,233.5 L1082.3,232.5 L1084.1,232.9 L1085.9,232.2 L1087.7,230.4 L1089.7,229.2 L1091.6,230.3 L1093.6,228.3 L1095.6,225.8 L1097.5,224.4 L1099.5,222.3 L1101.4,221.7 L1103.4,222.5 L1105.5,222.7 L1107.6,222.4 L1109.7,222.0 L1111.8,221.4 L1113.9,221.1 L1116.0,220.5 L1118.1,219.5 L1120.2,217.7 L1122.3,217.0 L1124.4,217.8 L1126.5,218.0 L1128.6,218.1 L1130.4,217.3 L1132.2,215.6 L1134.0,215.1 L1135.8,220.1 L1137.6,214.7 L1139.4,214.4 L1141.2,214.1 L1143.3,214.2 L1145.4,212.2 L1147.5,212.5 L1149.5,212.8 L1151.6,210.9 L1153.7,216.7 L1155.8,211.0 L1157.9,209.8 L1160.0,210.2 L1161.9,209.2 L1163.8,208.2 L1165.7,206.7 L1167.6,205.7 L1169.5,205.1 L1171.3,205.7 L1173.2,206.3 L1175.1,212.4 L1177.0,205.5 L1178.9,211.8 L1181.0,206.6 L1183.1,207.0 L1185.2,206.8 L1187.2,207.2 L1189.3,212.5 L1191.4,206.2 L1193.3,205.1 L1195.2,204.3 L1197.1,204.0 L1199.0,203.1 L1200.9,202.6 L1202.9,210.4 L1204.8,200.1 L1206.8,200.0 L1208.8,199.0 L1210.7,202.1 L1212.7,198.0 L1214.6,197.6 L1216.6,197.4 L1218.4,197.7 L1220.2,197.5 L1222.0,198.7 L1223.8,199.2 L1225.6,205.3 L1227.4,200.6 L1229.2,201.4 L1231.3,202.2 L1233.4,201.7 L1235.5,200.1 L1237.5,198.8 L1239.6,197.9 L1241.7,198.0 L1243.8,196.7 L1245.9,201.2 L1248.0,195.8 L1250.1,195.4 L1252.2,194.4 L1254.3,193.6 L1256.3,190.8 L1258.3,190.7 L1260.4,191.1 L1262.5,190.0 L1264.6,188.1 L1267.2,187.8 L1269.7,186.4 L1271.5,186.0 L1273.4,185.0 L1275.2,184.7 L1277.1,184.6 L1279.0,184.4 L1280.9,184.2 L1282.8,184.8 L1284.7,184.1 L1286.6,183.4 L1288.5,182.2 L1290.4,180.3 L1292.2,184.0 L1294.1,180.4 L1296.0,180.9 L1298.0,181.0 L1300.0,184.9 L1301.9,179.4 L1303.9,177.4 L1306.2,181.4 L1308.6,172.6 L1310.5,170.8 L1312.4,170.1 L1314.2,169.5 L1316.1,169.7 L1318.0,169.2 L1319.9,167.8 L1321.8,167.1 L1323.6,166.7 L1325.5,165.5 L1327.4,162.9 L1329.3,161.9 L1331.2,167.5 L1333.1,161.0 L1335.0,161.5 L1336.9,159.2 L1338.8,158.8 L1340.7,156.5 L1342.5,162.7 L1344.4,155.1 L1346.3,153.7 L1348.2,153.5 L1350.1,154.0 L1351.9,152.4 L1353.8,150.8 L1355.7,151.2 L1357.6,149.6 L1359.5,149.4 L1361.3,148.7 L1363.2,156.0 L1365.1,146.7 L1367.2,145.5 L1369.3,145.1 L1371.4,143.2 L1373.5,142.4 L1375.6,141.9 L1377.7,140.7 L1379.8,141.2 L1381.9,140.7 L1384.0,139.7 L1386.1,139.5 L1388.2,138.7 L1390.3,138.0 L1392.4,138.5 L1394.5,137.5 L1396.6,136.7 L1398.5,136.2 L1400.4,136.6 L1402.2,136.7 L1404.1,136.3 L1406.0,136.6 L1407.9,136.9 L1409.8,136.2 L1411.6,135.1 L1413.5,134.5 L1415.4,135.8 L1417.5,134.9 L1419.6,133.2 L1421.7,132.8 L1423.8,132.7 L1425.9,142.6 L1428.0,136.2 L1430.1,130.0 L1432.2,129.7 L1434.3,129.0 L1436.1,128.7 L1437.9,128.7 L1439.7,127.8 L1441.5,127.6 L1443.3,128.8 L1445.1,128.2 L1446.9,129.9 L1448.8,130.2 L1450.7,129.7 L1452.5,129.8 L1454.4,131.5 L1456.3,135.2 L1458.2,131.6 L1460.1,131.2 L1461.9,130.6 L1463.8,128.6 L1465.7,128.2 L1467.8,138.6 L1469.9,126.9 L1472.0,126.2 L1474.1,126.5 L1476.2,126.5 L1478.3,124.4 L1480.4,122.9 L1482.5,123.7 L1484.6,125.5 L1486.5,125.0 L1488.4,123.8 L1490.2,122.8 L1492.1,122.6 L1494.0,121.3 L1496.1,122.0 L1498.2,121.9 L1500.3,123.4 L1502.4,122.4 L1504.5,123.7 L1506.6,122.6 L1508.4,121.8 L1510.2,123.1 L1512.0,121.8 L1513.8,120.7 L1515.6,119.4 L1517.4,124.6 L1519.2,120.0 L1521.2,118.9 L1523.1,118.8 L1525.1,118.4 L1527.1,118.3 L1529.0,119.2 L1531.0,118.5 L1532.9,118.3 L1534.9,117.7 L1536.8,117.3 L1538.7,118.4 L1540.5,118.9 L1542.4,119.0 L1544.3,120.3 L1546.1,120.5 L1547.9,119.7 L1549.7,119.4 L1551.5,118.5 L1553.3,127.2 L1555.1,131.4 L1556.9,119.9 L1558.8,118.7 L1560.7,119.3 L1562.5,119.3 L1564.4,119.1 L1566.3,118.2 L1568.3,117.7 L1570.2,117.3 L1572.2,116.0 L1574.2,115.9 L1576.1,116.4 L1578.1,115.3 L1580.0,115.1 L1582.0,114.7" fill="none" stroke="#EA615C" stroke-width="5" stroke-linejoin="round" stroke-linecap="round"/><path d="M940.0,499.1 L941.8,499.1 L943.7,500.7 L945.5,501.3 L947.4,501.8 L949.2,501.2 L951.1,501.1 L952.9,502.4 L954.8,500.7 L956.6,501.9 L958.5,502.3 L960.3,501.4 L962.2,502.3 L964.0,501.4 L965.9,501.3 L967.7,500.6 L969.6,500.4 L971.4,500.3 L973.3,499.4 L975.1,499.5 L977.0,499.5 L978.8,500.5 L980.7,500.9 L982.5,499.2 L984.4,499.6 L986.2,499.7 L988.1,498.8 L989.9,498.6 L991.8,499.2 L993.6,498.5 L995.5,497.6 L997.3,496.5 L999.2,497.2 L1001.0,496.3 L1002.9,497.8 L1004.9,497.8 L1006.8,498.1 L1008.8,498.3 L1010.8,497.5 L1012.7,496.7 L1014.7,495.3 L1016.6,493.5 L1018.6,493.8 L1020.7,492.6 L1022.8,489.9 L1024.8,487.4 L1026.9,487.0 L1029.0,484.4 L1031.1,482.8 L1033.0,480.3 L1034.9,477.0 L1036.8,475.9 L1038.7,472.8 L1040.6,469.5 L1042.5,466.2 L1044.4,460.8 L1046.2,456.6 L1048.1,453.3 L1050.0,449.8 L1051.9,446.7 L1053.8,443.3 L1055.6,439.7 L1057.5,434.9 L1059.4,431.9 L1061.5,428.4 L1063.6,424.9 L1065.7,423.4 L1067.8,421.4 L1069.9,417.8 L1072.0,416.3 L1074.1,415.2 L1076.2,414.4 L1078.3,411.7 L1080.4,410.8 L1082.5,408.3 L1084.6,406.2 L1086.4,404.6 L1088.2,401.8 L1090.0,399.8 L1091.8,399.3 L1093.6,398.3 L1095.4,398.3 L1097.2,396.4 L1099.3,396.0 L1101.4,394.1 L1103.5,393.1 L1105.5,392.0 L1107.6,391.2 L1109.7,390.3 L1111.8,389.5 L1113.9,389.7 L1116.0,388.6 L1118.1,387.3 L1120.2,385.6 L1122.3,384.7 L1124.1,383.5 L1125.9,382.2 L1127.7,381.6 L1129.5,381.3 L1131.3,379.9 L1133.1,378.5 L1134.9,376.7 L1137.0,375.9 L1139.1,373.8 L1141.2,372.9 L1143.2,370.9 L1145.3,370.1 L1147.4,371.1 L1149.5,369.4 L1151.6,370.8 L1153.7,370.0 L1155.8,368.2 L1157.9,368.9 L1160.0,367.3 L1162.1,366.1 L1164.2,366.2 L1166.3,363.9 L1168.4,362.0 L1170.5,362.6 L1172.6,361.5 L1174.4,359.1 L1176.2,357.9 L1178.0,358.4 L1179.8,358.8 L1181.6,357.5 L1183.4,358.0 L1185.2,356.1 L1187.3,355.3 L1189.4,355.4 L1191.5,354.9 L1193.5,354.0 L1195.6,350.8 L1197.7,350.6 L1199.8,349.5 L1201.9,347.0 L1204.0,346.5 L1206.1,346.3 L1208.2,345.9 L1210.3,346.1 L1212.1,344.7 L1213.9,344.9 L1215.7,345.1 L1217.5,345.1 L1219.3,344.3 L1221.1,341.7 L1222.9,340.4 L1224.8,340.3 L1226.7,341.3 L1228.5,339.5 L1230.4,340.1 L1232.3,340.0 L1234.2,340.1 L1236.1,339.4 L1237.9,337.1 L1239.8,336.5 L1241.7,335.4 L1243.8,335.6 L1245.8,334.8 L1247.9,333.4 L1249.9,333.3 L1252.0,334.0 L1254.0,333.9 L1255.9,332.1 L1257.9,332.5 L1259.8,333.2 L1261.8,331.6 L1263.8,331.4 L1265.7,329.5 L1267.7,329.6 L1269.7,328.4 L1271.7,327.9 L1273.6,329.1 L1275.6,328.0 L1277.5,326.9 L1279.5,327.4 L1281.4,327.1 L1283.4,326.4 L1285.3,325.0 L1287.1,324.3 L1289.0,326.0 L1290.8,325.4 L1292.7,326.7 L1294.5,325.8 L1296.4,325.5 L1298.2,325.0 L1300.1,324.1 L1301.9,323.7 L1303.8,323.3 L1305.6,321.6 L1307.5,319.5 L1309.3,320.1 L1311.2,318.9 L1313.0,319.7 L1314.9,319.1 L1316.7,319.8 L1318.6,319.7 L1320.4,320.1 L1322.3,320.3 L1324.1,319.2 L1326.0,319.2 L1327.8,320.1 L1329.7,319.7 L1331.5,320.0 L1333.4,318.7 L1335.2,317.4 L1337.1,316.6 L1338.9,316.3 L1340.8,315.2 L1342.6,314.7 L1344.5,314.8 L1346.3,315.8 L1348.1,314.1 L1350.0,313.9 L1351.8,314.8 L1353.7,315.3 L1355.5,314.8 L1357.4,313.0 L1359.2,311.6 L1361.1,311.7 L1362.9,312.1 L1364.8,310.1 L1366.6,310.8 L1368.5,309.3 L1370.3,310.0 L1372.2,309.1 L1374.0,309.4 L1375.9,307.0 L1377.7,307.3 L1379.6,305.7 L1381.4,306.4 L1383.3,307.6 L1385.1,306.5 L1387.0,307.5 L1388.8,306.5 L1390.7,306.9 L1392.5,305.9 L1394.4,305.6 L1396.2,306.1 L1398.1,305.6 L1399.9,305.7 L1401.8,305.3 L1403.6,306.1 L1405.5,304.5 L1407.3,305.6 L1409.2,304.4 L1411.2,304.8 L1413.1,302.8 L1415.1,302.4 L1417.1,303.2 L1419.0,301.7 L1421.0,301.3 L1422.9,301.2 L1424.9,300.3 L1426.7,301.5 L1428.5,299.6 L1430.4,300.5 L1432.2,300.5 L1434.0,300.2 L1435.8,299.2 L1437.6,298.9 L1439.4,299.5 L1441.3,300.3 L1443.1,299.6 L1444.9,299.9 L1446.7,298.0 L1448.5,295.5 L1450.3,295.8 L1452.2,295.4 L1454.0,295.2 L1455.8,296.9 L1457.6,296.1 L1459.4,296.6 L1461.2,295.1 L1463.1,295.6 L1464.9,295.1 L1466.7,295.4 L1468.5,295.0 L1470.3,294.0 L1472.2,293.8 L1474.0,294.2 L1475.8,294.1 L1477.6,294.2 L1479.4,293.1 L1481.2,291.5 L1483.1,292.2 L1484.9,292.0 L1486.7,292.2 L1488.5,290.9 L1490.3,290.7 L1492.1,289.6 L1494.0,290.5 L1495.8,289.9 L1497.6,290.6 L1499.4,289.2 L1501.2,290.0 L1503.1,288.3 L1504.9,287.6 L1506.7,287.0 L1508.5,288.0 L1510.3,287.1 L1512.1,286.5 L1514.0,287.4 L1515.8,287.2 L1517.6,287.0 L1519.4,288.2 L1521.2,288.1 L1523.0,288.0 L1524.9,286.8 L1526.7,286.4 L1528.5,285.7 L1530.3,286.3 L1532.1,284.8 L1533.9,286.0 L1535.8,285.1 L1537.6,284.4 L1539.4,284.8 L1541.2,283.4 L1543.0,284.0 L1544.9,283.9 L1546.7,284.7 L1548.5,284.3 L1550.3,284.6 L1552.1,284.1 L1553.9,283.2 L1555.8,282.5 L1557.6,283.0 L1559.4,281.6 L1561.2,280.6 L1563.0,281.1 L1564.8,281.8 L1566.7,281.7 L1568.5,280.2 L1570.3,279.7 L1572.1,281.2 L1573.9,282.1 L1575.7,281.4 L1577.6,280.8 L1579.4,280.5 L1581.2,278.7" fill="none" stroke="#9587F7" stroke-width="5" stroke-linejoin="round" stroke-linecap="round"/><path d="M940.0,502.8 L941.8,502.5 L943.6,502.8 L945.4,503.2 L947.2,501.9 L949.0,502.9 L950.8,501.4 L952.6,501.0 L954.5,501.1 L956.4,502.5 L958.2,502.9 L960.1,503.3 L962.0,502.2 L963.9,503.4 L965.8,503.6 L967.6,502.4 L969.5,503.1 L971.4,503.6 L973.4,502.2 L975.3,500.6 L977.3,501.2 L979.2,501.7 L981.2,502.7 L983.2,503.1 L985.1,502.9 L987.1,501.3 L989.1,500.5 L991.0,500.5 L993.0,500.2 L995.0,499.5 L997.0,498.2 L999.0,499.4 L1000.9,499.8 L1002.9,499.7 L1004.9,499.0 L1006.8,500.5 L1008.8,500.0 L1010.8,499.6 L1012.7,498.1 L1014.7,497.5 L1016.6,496.4 L1018.6,495.7 L1020.6,497.0 L1022.5,496.2 L1024.5,494.7 L1026.5,493.5 L1028.4,491.1 L1030.4,488.5 L1032.3,487.8 L1034.3,487.3 L1036.1,485.6 L1037.9,484.4 L1039.7,481.6 L1041.5,479.1 L1043.3,475.2 L1045.1,472.4 L1046.9,468.8 L1049.0,466.6 L1051.1,464.6 L1053.2,462.7 L1055.2,461.4 L1057.3,459.9 L1059.4,458.2 L1061.5,456.7 L1063.6,453.2 L1065.7,449.8 L1067.8,449.3 L1069.9,449.2 L1072.0,447.5 L1074.1,447.7 L1076.2,447.0 L1078.3,444.9 L1080.4,441.6 L1082.5,439.4 L1084.6,436.3 L1086.4,434.0 L1088.2,434.3 L1090.0,432.3 L1091.8,432.3 L1093.6,431.0 L1095.4,430.2 L1097.2,428.3 L1099.3,427.1 L1101.4,426.7 L1103.5,423.8 L1105.5,422.4 L1107.6,422.2 L1109.7,422.5 L1111.8,420.3 L1113.9,418.9 L1116.0,418.0 L1118.1,417.3 L1120.2,416.4 L1122.3,415.5 L1124.1,412.6 L1125.9,412.2 L1127.7,410.5 L1129.5,410.3 L1131.3,409.8 L1133.1,407.4 L1134.9,407.1 L1137.0,406.7 L1139.1,406.8 L1141.2,406.4 L1143.2,404.7 L1145.3,404.2 L1147.4,404.1 L1149.5,402.1 L1151.6,401.5 L1153.7,400.0 L1155.8,396.8 L1157.9,393.8 L1160.0,392.4 L1162.1,390.7 L1164.2,391.1 L1166.3,389.8 L1168.4,389.7 L1170.5,391.2 L1172.6,391.3 L1174.4,391.1 L1176.2,389.8 L1178.0,387.6 L1179.8,386.3 L1181.6,386.2 L1183.4,386.6 L1185.2,384.8 L1187.3,385.2 L1189.4,384.4 L1191.5,383.3 L1193.5,381.9 L1195.6,380.2 L1197.7,379.9 L1199.8,377.2 L1201.9,376.6 L1204.0,375.7 L1206.1,375.7 L1208.2,376.1 L1210.3,374.9 L1212.1,375.8 L1213.9,375.4 L1215.7,374.9 L1217.5,374.5 L1219.3,372.3 L1221.1,371.1 L1222.9,370.5 L1224.9,371.2 L1226.8,369.8 L1228.8,368.5 L1230.8,368.7 L1232.7,368.7 L1234.7,366.9 L1236.6,367.8 L1238.6,368.5 L1240.5,367.6 L1242.4,366.2 L1244.3,366.3 L1246.3,364.0 L1248.2,364.1 L1250.1,361.4 L1252.0,359.8 L1254.3,359.0 L1256.2,359.0 L1258.1,358.0 L1260.0,357.2 L1262.0,358.4 L1263.9,356.8 L1265.8,357.5 L1267.7,357.1 L1269.7,354.8 L1271.7,352.9 L1273.6,351.9 L1275.6,351.8 L1277.5,352.1 L1279.5,351.4 L1281.4,350.2 L1283.4,351.2 L1285.4,350.1 L1287.3,349.3 L1289.3,349.6 L1291.2,348.9 L1293.2,349.5 L1295.2,347.6 L1297.1,347.2 L1299.1,347.3 L1301.1,345.0 L1303.0,346.0 L1305.0,344.7 L1307.0,345.1 L1309.0,346.6 L1311.0,346.8 L1312.9,345.0 L1314.9,344.0 L1316.9,343.9 L1318.8,344.3 L1320.8,344.0 L1322.8,344.0 L1324.7,343.4 L1326.7,344.1 L1328.6,343.3 L1330.6,342.7 L1332.6,342.6 L1334.5,340.9 L1336.5,341.0 L1338.4,338.9 L1340.4,337.9 L1342.4,336.5 L1344.3,335.8 L1346.3,336.6 L1348.3,335.5 L1350.2,334.5 L1352.2,334.6 L1354.2,333.7 L1356.1,335.0 L1358.1,334.6 L1360.0,333.9 L1362.0,334.9 L1364.0,335.2 L1365.9,334.0 L1367.9,334.4 L1369.8,333.8 L1371.8,334.0 L1373.8,334.6 L1375.7,334.4 L1377.7,333.2 L1379.7,332.3 L1381.6,331.2 L1383.6,330.7 L1385.6,331.3 L1387.5,330.6 L1389.5,330.9 L1391.4,331.5 L1393.4,330.3 L1395.4,329.5 L1397.4,330.6 L1399.3,329.1 L1401.3,328.4 L1403.3,328.0 L1405.2,328.9 L1407.2,328.3 L1409.2,329.5 L1411.2,328.7 L1413.1,330.1 L1415.1,330.3 L1417.1,329.6 L1419.0,329.2 L1421.0,330.0 L1422.9,328.5 L1424.9,328.9 L1426.9,329.0 L1428.8,327.3 L1430.8,325.9 L1432.8,325.8 L1434.7,325.8 L1436.7,325.9 L1438.6,324.0 L1440.6,325.0 L1442.6,324.4 L1444.5,323.0 L1446.5,324.5 L1448.4,325.1 L1450.4,323.7 L1452.4,322.2 L1454.3,320.3 L1456.3,321.8 L1458.3,321.6 L1460.2,321.8 L1462.2,321.4 L1464.2,321.2 L1466.1,320.8 L1468.1,321.0 L1470.0,320.6 L1472.0,320.0 L1474.0,320.6 L1475.9,319.0 L1477.9,317.4 L1479.8,316.5 L1481.8,315.3 L1483.8,316.1 L1485.7,315.6 L1487.7,315.0 L1489.7,315.1 L1491.6,316.2 L1493.6,316.0 L1495.6,317.3 L1497.5,316.4 L1499.5,315.8 L1501.4,315.9 L1503.4,317.1 L1505.4,317.6 L1507.4,316.6 L1509.3,317.3 L1511.3,317.8 L1513.3,316.4 L1515.2,316.8 L1517.2,315.7 L1519.2,317.6 L1521.3,318.3 L1523.3,318.2 L1525.4,316.4 L1527.5,317.3 L1529.6,314.9 L1531.7,314.0 L1533.6,314.6 L1535.5,313.0 L1537.4,313.6 L1539.3,314.5 L1541.2,315.2 L1543.0,313.6 L1544.9,314.2 L1546.8,314.9 L1548.7,315.5 L1550.6,315.5 L1552.6,314.2 L1554.5,313.6 L1556.5,312.3 L1558.4,312.2 L1560.4,311.4 L1562.4,311.2 L1564.3,311.6 L1566.3,311.1 L1568.3,310.4 L1570.2,308.8 L1572.2,310.8 L1574.2,310.2 L1576.1,311.2 L1578.1,310.8 L1580.0,310.6 L1582.0,309.9" fill="none" stroke="#F5A855" stroke-width="5" stroke-linejoin="round" stroke-linecap="round"/><path d="M940.0,494.7 L941.8,496.3 L943.7,497.2 L945.5,496.6 L947.4,497.3 L949.2,496.4 L951.1,496.6 L952.9,496.5 L954.8,496.2 L956.6,495.4 L958.5,496.1 L960.3,494.9 L962.2,494.8 L964.0,496.6 L965.9,498.0 L967.7,497.8 L969.6,497.9 L971.4,498.3 L973.3,498.6 L975.1,498.0 L977.0,498.2 L978.8,497.7 L980.7,496.4 L982.5,496.7 L984.4,496.4 L986.2,496.0 L988.1,495.2 L989.9,495.7 L991.8,495.7 L993.6,496.1 L995.5,496.6 L997.3,496.5 L999.2,495.2 L1001.0,496.2 L1002.9,496.9 L1005.0,495.5 L1007.1,495.9 L1009.1,495.0 L1011.2,494.7 L1013.3,492.2 L1015.4,488.0 L1017.3,486.7 L1019.2,484.2 L1021.1,482.6 L1023.0,479.0 L1024.9,476.0 L1026.8,475.1 L1028.7,471.7 L1030.5,468.7 L1032.4,467.3 L1034.3,462.8 L1036.2,460.6 L1038.1,457.1 L1039.9,453.8 L1041.8,451.5 L1043.7,449.1 L1045.6,444.8 L1047.5,441.6 L1049.3,438.4 L1051.2,432.6 L1053.1,427.9 L1054.9,424.3 L1056.7,421.9 L1058.5,418.4 L1060.3,417.6 L1062.1,414.4 L1063.9,412.0 L1065.7,409.4 L1067.8,407.5 L1069.9,406.1 L1072.0,403.5 L1074.1,399.2 L1076.2,397.9 L1078.3,394.7 L1080.1,393.4 L1081.9,390.8 L1083.7,389.2 L1085.5,386.4 L1087.3,383.9 L1089.1,382.7 L1090.9,380.9 L1093.0,381.8 L1095.1,382.1 L1097.2,381.6 L1099.2,378.8 L1101.3,377.3 L1103.4,376.6 L1105.5,375.1 L1107.6,373.2 L1109.7,372.1 L1111.8,370.0 L1113.9,367.8 L1116.0,366.3 L1118.1,363.3 L1120.2,362.5 L1122.3,361.3 L1124.4,362.0 L1126.5,360.4 L1128.6,359.1 L1130.4,358.0 L1132.2,357.9 L1134.0,357.4 L1135.8,357.9 L1137.6,357.0 L1139.4,356.3 L1141.2,354.4 L1143.3,354.5 L1145.4,354.0 L1147.5,351.5 L1149.5,350.6 L1151.6,350.0 L1153.7,350.6 L1155.8,349.9 L1157.9,347.8 L1160.0,348.4 L1162.1,347.3 L1164.2,347.3 L1166.3,346.8 L1168.1,345.9 L1169.9,344.4 L1171.7,344.2 L1173.5,342.7 L1175.3,342.9 L1177.1,342.3 L1178.9,341.7 L1181.0,339.6 L1183.1,338.3 L1185.2,336.8 L1187.2,334.8 L1189.3,336.8 L1191.4,337.4 L1193.3,336.9 L1195.2,335.5 L1197.1,333.6 L1199.0,332.0 L1200.8,331.9 L1202.7,331.4 L1204.6,331.2 L1206.5,332.0 L1208.4,333.3 L1210.3,333.8 L1212.2,333.2 L1214.1,332.1 L1216.0,331.4 L1217.9,331.2 L1219.8,328.6 L1221.6,327.2 L1223.5,327.2 L1225.4,326.3 L1227.3,325.6 L1229.2,325.7 L1231.1,326.0 L1233.0,326.4 L1234.8,324.5 L1236.7,324.4 L1238.6,324.9 L1240.5,323.7 L1242.4,325.2 L1244.2,325.3 L1246.1,324.6 L1248.0,323.3 L1249.8,323.2 L1251.6,322.7 L1253.4,321.6 L1255.2,320.6 L1257.0,319.2 L1258.8,318.3 L1260.7,318.2 L1262.5,317.3 L1264.3,315.9 L1266.1,317.1 L1267.9,316.5 L1269.7,317.4 L1271.5,317.0 L1273.3,317.5 L1275.1,317.5 L1276.9,316.9 L1278.7,314.6 L1280.5,314.7 L1282.4,312.3 L1284.2,312.5 L1286.0,310.5 L1287.8,309.1 L1289.6,310.1 L1291.4,308.3 L1293.2,308.3 L1295.0,308.1 L1296.8,305.5 L1298.6,304.5 L1300.4,304.6 L1302.2,305.8 L1304.1,304.6 L1305.9,305.3 L1307.7,304.8 L1309.5,305.3 L1311.3,305.1 L1313.1,304.5 L1314.9,303.8 L1316.8,302.0 L1318.7,300.4 L1320.5,300.2 L1322.4,300.7 L1324.3,298.4 L1326.2,298.6 L1328.1,297.6 L1329.9,297.3 L1331.8,298.4 L1333.7,299.4 L1335.6,298.1 L1337.5,298.0 L1339.4,296.9 L1341.3,296.0 L1343.2,294.0 L1345.0,292.4 L1346.9,292.1 L1348.8,291.5 L1350.7,290.2 L1352.6,289.7 L1354.5,290.7 L1356.4,289.5 L1358.2,290.2 L1360.1,289.8 L1362.0,288.9 L1363.9,289.5 L1365.8,288.0 L1367.6,287.1 L1369.5,285.7 L1371.4,285.8 L1373.3,285.4 L1375.2,283.2 L1377.1,284.2 L1379.0,284.8 L1380.8,285.1 L1382.7,284.9 L1384.6,284.6 L1386.5,281.8 L1388.4,282.3 L1390.3,281.5 L1392.2,281.3 L1394.1,282.3 L1396.0,282.1 L1397.9,280.9 L1399.8,280.2 L1401.6,278.9 L1403.5,276.8 L1405.4,275.7 L1407.3,275.7 L1409.2,275.7 L1411.1,274.6 L1413.0,274.2 L1414.8,273.9 L1416.7,272.0 L1418.6,271.8 L1420.5,271.5 L1422.4,270.8 L1424.2,269.9 L1426.1,268.9 L1428.0,268.4 L1429.9,268.6 L1431.8,269.4 L1433.7,269.4 L1435.6,269.2 L1437.5,266.6 L1439.3,265.6 L1441.2,266.3 L1443.1,265.2 L1445.0,263.7 L1446.9,261.8 L1448.8,262.9 L1450.7,261.4 L1452.5,261.5 L1454.4,261.2 L1456.3,261.7 L1458.2,261.3 L1460.1,259.5 L1461.9,258.3 L1463.8,258.6 L1465.7,257.0 L1467.6,258.2 L1469.5,258.8 L1471.4,258.7 L1473.3,255.8 L1475.2,255.9 L1477.0,253.8 L1478.9,252.3 L1480.8,250.8 L1482.7,249.8 L1484.6,250.5 L1486.5,250.4 L1488.4,249.0 L1490.2,249.4 L1492.1,248.8 L1494.0,249.1 L1495.9,249.0 L1497.8,247.2 L1499.6,248.0 L1501.5,246.5 L1503.4,246.5 L1505.3,244.9 L1507.2,244.1 L1509.1,243.6 L1511.0,244.1 L1512.8,241.9 L1514.7,241.2 L1516.6,240.4 L1518.5,239.8 L1520.4,238.8 L1522.3,238.3 L1524.2,238.9 L1526.1,239.1 L1528.0,238.8 L1529.9,237.4 L1531.8,235.6 L1533.6,234.7 L1535.5,233.7 L1537.4,232.2 L1539.3,231.8 L1541.2,232.6 L1543.1,232.8 L1545.0,230.8 L1546.8,232.2 L1548.7,231.9 L1550.6,231.2 L1552.5,229.2 L1554.4,228.8 L1556.2,228.5 L1558.1,227.8 L1560.0,227.1 L1561.8,228.5 L1563.7,227.3 L1565.5,226.9 L1567.3,227.5 L1569.2,227.0 L1571.0,225.8 L1572.8,224.5 L1574.7,223.9 L1576.5,222.0 L1578.3,223.1 L1580.2,224.7 L1582.0,223.4" fill="none" stroke="#6ABF6E" stroke-width="5" stroke-linejoin="round" stroke-linecap="round"/><path d="M940.5,445.2 L944.0,365.2 L946.0,350.3 L948.0,318.2 L950.0,300.7 L952.0,290.7 L952.6,286.3 L954.7,283.0 L956.8,279.0 L958.9,276.3 L960.8,272.8 L962.7,271.1 L964.5,270.6 L966.4,268.8 L968.3,267.4 L970.2,265.8 L972.1,264.0 L973.9,262.5 L975.8,261.6 L977.7,261.2 L979.6,260.5 L981.5,260.6 L983.3,261.0 L985.2,260.6 L987.1,258.9 L989.0,259.4 L990.9,258.1 L992.8,256.6 L994.7,257.2 L996.6,256.7 L998.7,255.4 L1000.8,254.6 L1002.9,253.5 L1004.9,254.7 L1007.0,255.3 L1009.1,254.9 L1010.9,255.1 L1012.7,255.8 L1014.5,256.4 L1016.3,256.1 L1018.1,257.1 L1019.9,257.0 L1021.7,257.3 L1023.8,256.2 L1025.9,257.5 L1028.0,256.9 L1030.1,257.4 L1032.2,257.4 L1034.3,256.5 L1036.2,254.8 L1038.1,253.8 L1039.9,252.7 L1041.8,253.6 L1043.7,255.4 L1046.1,256.8 L1048.4,257.7 L1050.2,259.1 L1052.1,258.3 L1053.9,257.7 L1055.7,255.4 L1057.6,255.6 L1059.4,254.9 L1061.5,253.8 L1063.6,254.0 L1065.7,255.1 L1067.8,256.9 L1069.9,256.7 L1072.0,256.9 L1074.1,256.6 L1076.2,256.3 L1078.3,255.7 L1080.4,255.4 L1082.5,255.2 L1084.6,255.1 L1086.4,256.0 L1088.2,256.8 L1090.0,255.9 L1091.8,256.1 L1093.6,256.9 L1095.4,258.4 L1097.2,259.3 L1099.3,258.7 L1101.4,259.1 L1103.5,260.2 L1105.5,259.6 L1107.6,259.4 L1109.7,259.6 L1111.8,258.8 L1113.9,258.8 L1116.0,257.6 L1118.1,256.8 L1120.2,257.2 L1122.3,256.5 L1124.1,256.5 L1125.9,255.0 L1127.7,254.0 L1129.5,254.3 L1131.3,255.1 L1133.1,255.3 L1134.9,255.2 L1137.0,254.4 L1139.1,255.2 L1141.2,255.6 L1143.2,256.0 L1145.3,256.7 L1147.4,256.2 L1149.5,256.4 L1151.6,254.8 L1153.7,255.1 L1155.8,255.8 L1157.9,255.8 L1160.0,255.4 L1162.1,254.5 L1164.2,255.5 L1166.3,255.8 L1168.4,256.0 L1170.5,255.0 L1172.6,256.3 L1174.4,255.0 L1176.2,255.3 L1178.0,254.6 L1179.8,253.4 L1181.6,252.8 L1183.4,253.0 L1185.2,252.8 L1187.3,252.9 L1189.4,254.0 L1191.5,255.2 L1193.5,255.5 L1195.6,255.6 L1197.7,255.9 L1199.8,256.2 L1201.9,255.5 L1204.0,257.2 L1206.1,257.0 L1208.2,257.7 L1210.3,256.6 L1212.1,256.0 L1213.9,255.8 L1215.7,256.3 L1217.5,255.3 L1219.3,254.7 L1221.1,254.1 L1222.9,254.4 L1225.0,256.0 L1227.1,256.3 L1229.2,257.9 L1231.3,257.2 L1233.3,256.8 L1235.4,256.0 L1237.5,254.8 L1239.6,253.7 L1241.7,253.1 L1243.8,254.0 L1245.9,254.7 L1248.0,253.7 L1250.0,253.7 L1252.0,254.2 L1253.8,254.8 L1255.6,255.6 L1257.4,256.8 L1259.4,257.7 L1261.4,259.0 L1263.7,263.0 L1266.1,268.7 L1266.9,274.2 L1269.3,279.6 L1269.7,281.1 L1271.8,281.1 L1274.0,277.0 L1275.9,270.9 L1277.8,265.7 L1279.6,262.9 L1281.5,259.1 L1283.4,257.4 L1285.3,254.9 L1287.2,253.1 L1289.1,251.6 L1291.0,250.5 L1292.9,250.5 L1294.9,250.2 L1296.8,249.7 L1298.8,247.2 L1300.8,246.4 L1302.7,245.6 L1304.7,245.0 L1306.6,242.9 L1308.6,242.6 L1310.5,241.4 L1312.4,240.5 L1314.2,240.8 L1316.1,240.3 L1318.0,240.2 L1319.9,240.1 L1321.8,239.8 L1323.6,238.9 L1325.5,236.6 L1327.4,235.3 L1329.3,236.1 L1331.2,235.7 L1333.1,235.3 L1335.0,235.2 L1336.8,236.1 L1338.7,235.6 L1340.6,235.7 L1342.5,236.2 L1344.4,235.7 L1346.3,235.9 L1348.2,236.3 L1350.1,235.0 L1351.9,235.1 L1353.8,235.0 L1355.7,235.3 L1357.6,234.4 L1359.5,233.2 L1361.3,233.6 L1363.2,235.1 L1365.1,235.5 L1367.0,235.0 L1368.9,233.7 L1370.8,233.5 L1372.7,234.3 L1374.5,232.7 L1376.4,233.6 L1378.3,233.7 L1380.2,233.2 L1382.1,234.1 L1384.0,235.0 L1385.9,234.3 L1387.8,235.2 L1389.7,235.8 L1391.6,235.3 L1393.5,235.4 L1395.3,235.0 L1397.2,235.6 L1399.1,235.5 L1401.0,234.3 L1402.9,235.6 L1404.8,234.3 L1406.7,234.6 L1408.5,233.4 L1410.4,233.2 L1412.3,233.5 L1414.2,234.3 L1416.1,234.7 L1417.9,234.1 L1419.8,232.8 L1421.7,232.5 L1423.6,233.1 L1425.5,232.8 L1427.4,234.0 L1429.3,234.8 L1431.2,235.3 L1433.0,235.5 L1434.9,234.7 L1436.8,234.4 L1438.7,234.0 L1440.6,234.4 L1442.5,234.3 L1444.4,233.8 L1446.2,232.5 L1448.1,233.1 L1450.0,232.8 L1451.9,232.1 L1453.8,232.3 L1455.6,232.5 L1457.5,231.5 L1459.4,233.0 L1461.3,232.5 L1463.2,232.8 L1465.1,233.6 L1467.0,232.5 L1468.8,232.8 L1470.7,232.5 L1472.6,232.0 L1474.5,233.0 L1476.4,233.4 L1478.3,232.4 L1480.2,232.1 L1482.1,230.7 L1484.0,230.2 L1485.9,230.7 L1487.8,229.9 L1489.6,230.4 L1491.5,230.8 L1493.4,231.0 L1495.3,231.8 L1497.2,230.7 L1499.1,230.9 L1501.0,231.2 L1502.8,230.3 L1504.7,230.3 L1506.6,231.1 L1508.5,230.6 L1510.4,230.1 L1512.2,231.7 L1514.1,231.9 L1516.0,232.4 L1517.9,233.2 L1519.8,232.4 L1521.7,233.1 L1523.6,233.1 L1525.5,232.8 L1527.3,232.2 L1529.2,231.5 L1531.1,231.8 L1533.0,231.3 L1534.9,230.9 L1536.8,230.5 L1538.7,230.2 L1540.5,230.9 L1542.4,231.9 L1544.3,232.2 L1546.2,231.5 L1548.1,232.1 L1549.9,230.7 L1551.8,231.7 L1553.7,232.0 L1555.6,231.5 L1557.5,232.3 L1559.4,231.1 L1561.2,231.2 L1563.1,231.4 L1565.0,231.5 L1566.9,230.8 L1568.8,231.0 L1570.7,230.4 L1572.6,230.8 L1574.5,230.6 L1576.3,230.6 L1578.2,230.9 L1580.1,231.3 L1582.0,230.9" fill="none" stroke="#5A8DDD" stroke-width="5" stroke-linejoin="round" stroke-linecap="round"/><path d="M940.0,501.5 L941.8,501.2 L943.6,501.7 L945.4,502.0 L947.2,500.9 L949.0,500.5 L950.8,499.2 L952.6,497.7 L954.7,494.1 L956.8,491.2 L958.9,486.8 L961.0,482.7 L963.0,478.8 L965.1,475.3 L967.0,471.3 L968.9,469.3 L970.8,466.7 L972.7,464.1 L974.6,465.5 L976.5,464.4 L978.4,462.9 L980.2,460.8 L982.1,459.3 L984.0,459.1 L985.9,458.2 L987.8,457.8 L989.6,458.0 L991.5,459.3 L993.4,458.2 L995.3,458.6 L997.2,459.3 L999.1,457.6 L1001.0,456.7 L1002.9,455.6 L1004.9,456.0 L1006.8,456.0 L1008.8,456.3 L1010.8,455.6 L1012.7,456.3 L1014.7,454.7 L1016.6,454.0 L1018.6,454.5 L1020.6,454.3 L1022.5,452.9 L1024.5,451.4 L1026.5,450.3 L1028.4,450.6 L1030.4,449.1 L1032.3,448.6 L1034.3,448.2 L1036.3,449.3 L1038.2,448.2 L1040.2,447.6 L1042.2,447.9 L1044.1,448.2 L1046.1,448.9 L1048.0,449.5 L1050.0,448.0 L1052.0,448.8 L1053.9,449.8 L1055.9,449.2 L1057.8,448.2 L1059.8,448.5 L1061.8,448.4 L1063.7,448.2 L1065.7,446.8 L1067.7,446.2 L1069.6,446.9 L1071.6,446.2 L1073.6,446.5 L1075.5,446.9 L1077.5,446.1 L1079.4,443.8 L1081.4,443.7 L1083.4,444.3 L1085.4,444.0 L1087.3,444.6 L1089.3,444.9 L1091.3,445.0 L1093.2,445.3 L1095.2,443.9 L1097.2,445.1 L1099.2,445.3 L1101.1,443.8 L1103.1,442.5 L1105.1,442.4 L1107.0,440.7 L1109.0,438.7 L1110.9,438.6 L1112.9,438.2 L1114.9,438.2 L1116.8,438.0 L1118.8,437.7 L1120.8,436.6 L1122.7,436.6 L1124.7,437.3 L1126.6,437.9 L1128.6,437.2 L1130.4,435.9 L1132.2,436.3 L1134.0,435.2 L1135.8,434.6 L1137.6,433.7 L1139.4,432.8 L1141.2,434.1 L1143.3,435.0 L1145.3,434.2 L1147.4,433.2 L1149.5,430.6 L1151.6,429.1 L1153.7,425.8 L1155.8,423.3 L1157.9,421.6 L1160.0,421.7 L1162.1,419.8 L1164.2,420.5 L1166.3,420.8 L1168.1,419.4 L1169.9,418.2 L1171.7,415.6 L1173.5,415.4 L1175.3,413.3 L1177.1,412.9 L1178.9,412.3 L1181.0,410.7 L1183.1,409.4 L1185.2,406.5 L1187.2,404.6 L1189.3,402.1 L1191.4,402.9 L1193.5,403.1 L1195.6,402.0 L1197.7,400.6 L1199.8,399.6 L1201.9,397.7 L1204.0,396.1 L1206.1,395.3 L1208.2,392.6 L1210.3,391.4 L1212.4,390.6 L1214.5,391.6 L1216.6,390.8 L1218.4,390.5 L1220.2,387.6 L1222.0,386.7 L1223.8,386.0 L1225.6,385.6 L1227.4,384.0 L1229.2,381.7 L1231.3,381.5 L1233.4,380.3 L1235.5,378.0 L1237.5,377.9 L1239.6,377.4 L1241.7,378.2 L1243.8,377.2 L1245.8,377.7 L1247.9,377.4 L1249.9,378.4 L1252.0,376.9 L1254.3,375.6 L1256.4,375.4 L1258.4,372.5 L1260.5,373.2 L1262.5,372.0 L1264.6,372.1 L1267.2,370.6 L1269.7,368.4 L1271.7,367.7 L1273.6,368.5 L1275.6,366.9 L1277.5,368.1 L1279.5,368.0 L1281.4,367.4 L1283.4,366.4 L1285.4,366.5 L1287.3,366.5 L1289.3,366.4 L1291.2,366.6 L1293.2,365.6 L1295.2,364.0 L1297.1,363.9 L1299.1,360.8 L1301.1,361.8 L1303.0,361.9 L1305.0,362.0 L1307.0,360.6 L1309.0,359.5 L1311.0,359.2 L1312.9,359.9 L1314.9,359.0 L1316.8,358.3 L1318.7,356.5 L1320.5,355.5 L1322.4,355.0 L1324.3,355.0 L1326.2,353.8 L1328.1,353.1 L1329.9,351.9 L1331.8,351.7 L1333.7,352.4 L1335.8,352.8 L1337.9,353.0 L1340.0,353.3 L1342.1,351.7 L1344.2,351.0 L1346.3,349.2 L1348.1,348.2 L1349.9,348.4 L1351.7,347.2 L1353.5,347.8 L1355.3,346.8 L1357.1,346.1 L1358.9,345.1 L1360.8,343.8 L1362.7,342.2 L1364.5,340.7 L1366.4,339.5 L1368.3,338.8 L1370.2,336.7 L1372.1,336.0 L1373.9,333.8 L1375.8,332.8 L1377.7,332.4 L1379.8,330.5 L1381.9,329.2 L1384.0,326.2 L1385.9,325.3 L1387.8,323.7 L1389.6,320.8 L1391.5,318.5 L1393.4,318.1 L1395.3,317.4 L1397.2,319.7 L1399.1,319.9 L1401.0,322.0 L1402.9,321.8 L1406.0,321.3 L1408.1,317.4 L1410.2,315.0 L1412.3,310.3 L1414.4,307.8 L1416.5,305.9 L1418.6,305.5 L1421.7,303.5 L1423.6,302.2 L1425.5,302.2 L1427.4,302.0 L1429.3,300.6 L1431.2,299.4 L1434.3,297.0 L1436.1,295.7 L1437.9,294.4 L1439.7,294.9 L1441.5,293.1 L1443.3,292.1 L1445.1,290.6 L1446.9,289.9 L1449.0,289.8 L1451.1,288.4 L1453.2,286.2 L1455.2,283.8 L1457.3,282.5 L1459.4,280.4 L1461.5,280.4 L1463.6,279.7 L1465.7,278.0 L1467.8,277.9 L1469.9,275.6 L1472.0,274.5 L1474.1,273.2 L1476.2,273.2 L1478.3,273.9 L1480.4,273.9 L1482.5,271.5 L1484.6,271.7 L1486.5,270.3 L1488.4,268.6 L1490.2,268.5 L1492.1,268.7 L1494.0,268.1 L1496.1,268.9 L1498.2,268.1 L1500.3,268.6 L1502.2,269.6 L1504.1,268.7 L1505.9,265.7 L1507.8,264.6 L1509.7,263.0 L1511.8,263.5 L1513.9,263.7 L1516.0,264.0 L1518.1,262.6 L1520.2,260.5 L1522.3,256.3 L1524.1,254.1 L1525.9,253.2 L1527.7,252.1 L1529.5,251.7 L1531.3,251.0 L1533.1,250.6 L1534.9,251.1 L1537.0,250.9 L1539.1,251.2 L1541.2,249.7 L1543.2,249.2 L1545.3,249.6 L1547.4,248.5 L1549.5,248.7 L1551.6,248.1 L1553.7,247.6 L1555.8,246.7 L1557.9,246.9 L1560.0,246.4 L1562.1,247.9 L1564.2,245.5 L1566.3,243.9 L1568.4,244.6 L1570.5,245.1 L1572.6,244.8 L1574.5,244.0 L1576.4,244.2 L1578.2,243.3 L1580.1,243.5 L1582.0,242.3" fill="none" stroke="#7A4E08" stroke-width="5" stroke-linejoin="round" stroke-linecap="round"/></g>
<line x1="134" y1="174.4" x2="794" y2="174.4" stroke="#4a4a5a" stroke-opacity="0.7" stroke-width="3.2" stroke-dasharray="12.9 6.35"/>
<line x1="941" y1="236" x2="1581" y2="236" stroke="#4a4a5a" stroke-opacity="0.7" stroke-width="3.2" stroke-dasharray="12.9 6.35"/>
<text transform="translate(111.5,507.40000000000003) scale(1,1.07)" font-family="Liberation Sans, sans-serif" font-size="22.9" fill="#262626" text-anchor="end">0</text>
<text transform="translate(111.5,379.36750000000006) scale(1,1.07)" font-family="Liberation Sans, sans-serif" font-size="22.9" fill="#262626" text-anchor="end">25</text>
<text transform="translate(111.5,251.335) scale(1,1.07)" font-family="Liberation Sans, sans-serif" font-size="22.9" fill="#262626" text-anchor="end">50</text>
<text transform="translate(111.5,123.30250000000004) scale(1,1.07)" font-family="Liberation Sans, sans-serif" font-size="22.9" fill="#262626" text-anchor="end">75</text>
<text transform="translate(133.4,541.8) scale(1,1.07)" font-family="Liberation Sans, sans-serif" font-size="22.9" fill="#262626" text-anchor="middle">0</text>
<text transform="translate(265.92,541.8) scale(1,1.07)" font-family="Liberation Sans, sans-serif" font-size="22.9" fill="#262626" text-anchor="middle">1</text>
<text transform="translate(398.44000000000005,541.8) scale(1,1.07)" font-family="Liberation Sans, sans-serif" font-size="22.9" fill="#262626" text-anchor="middle">2</text>
<text transform="translate(530.96,541.8) scale(1,1.07)" font-family="Liberation Sans, sans-serif" font-size="22.9" fill="#262626" text-anchor="middle">3</text>
<text transform="translate(663.48,541.8) scale(1,1.07)" font-family="Liberation Sans, sans-serif" font-size="22.9" fill="#262626" text-anchor="middle">4</text>
<text transform="translate(796.0,541.8) scale(1,1.07)" font-family="Liberation Sans, sans-serif" font-size="22.9" fill="#262626" text-anchor="middle">5</text>
<text transform="translate(919,504.40000000000003) scale(1,1.07)" font-family="Liberation Sans, sans-serif" font-size="22.9" fill="#262626" text-anchor="end">0.0</text>
<text transform="translate(919,428.80000000000007) scale(1,1.07)" font-family="Liberation Sans, sans-serif" font-size="22.9" fill="#262626" text-anchor="end">0.3</text>
<text transform="translate(919,328.00000000000006) scale(1,1.07)" font-family="Liberation Sans, sans-serif" font-size="22.9" fill="#262626" text-anchor="end">0.7</text>
<text transform="translate(919,227.19999999999996) scale(1,1.07)" font-family="Liberation Sans, sans-serif" font-size="22.9" fill="#262626" text-anchor="end">1.1</text>
<text transform="translate(919,126.4) scale(1,1.07)" font-family="Liberation Sans, sans-serif" font-size="22.9" fill="#262626" text-anchor="end">1.5</text>
<text transform="translate(939.3,545.6) scale(1,1.07)" font-family="Liberation Sans, sans-serif" font-size="22.9" fill="#262626" text-anchor="middle">0.0</text>
<text transform="translate(1046.57,545.6) scale(1,1.07)" font-family="Liberation Sans, sans-serif" font-size="22.9" fill="#262626" text-anchor="middle">0.4</text>
<text transform="translate(1153.84,545.6) scale(1,1.07)" font-family="Liberation Sans, sans-serif" font-size="22.9" fill="#262626" text-anchor="middle">0.8</text>
<text transform="translate(1261.11,545.6) scale(1,1.07)" font-family="Liberation Sans, sans-serif" font-size="22.9" fill="#262626" text-anchor="middle">1.2</text>
<text transform="translate(1368.3799999999999,545.6) scale(1,1.07)" font-family="Liberation Sans, sans-serif" font-size="22.9" fill="#262626" text-anchor="middle">1.6</text>
<text transform="translate(1475.65,545.6) scale(1,1.07)" font-family="Liberation Sans, sans-serif" font-size="22.9" fill="#262626" text-anchor="middle">2.0</text>
<text transform="translate(1582.92,545.6) scale(1,1.07)" font-family="Liberation Sans, sans-serif" font-size="22.9" fill="#262626" text-anchor="middle">2.4</text>
<text x="464.4" y="573.9" font-family="Liberation Sans, sans-serif" font-size="26" fill="#262626" text-anchor="middle">Environment Steps</text>
<text x="1260.3" y="577" font-family="Liberation Sans, sans-serif" font-size="26" fill="#262626" text-anchor="middle">Environment Steps</text>
<text transform="translate(72,297.5) rotate(-90)" font-family="Liberation Sans, sans-serif" font-size="26" fill="#262626" text-anchor="middle">Success Rate (%)</text>
<text transform="translate(873.5,301.2) rotate(-90)" font-family="Liberation Sans, sans-serif" font-size="25.6" fill="#262626" text-anchor="middle">Episode Return (10k)</text>
<text x="741.4" y="581.0999999999999" font-family="Liberation Sans, sans-serif" font-size="31" fill="#262626">×</text>
<text x="759.4" y="577.8" font-family="Liberation Sans, sans-serif" font-size="23.2" fill="#262626">10</text>
<text x="786.3" y="560.6" font-family="Liberation Sans, sans-serif" font-size="16.2" fill="#262626">6</text>
<text x="1528.6" y="584.5999999999999" font-family="Liberation Sans, sans-serif" font-size="31" fill="#262626">×</text>
<text x="1547.8" y="581.3" font-family="Liberation Sans, sans-serif" font-size="23.2" fill="#262626">10</text>
<text x="1574.1" y="565.2" font-family="Liberation Sans, sans-serif" font-size="16.2" fill="#262626">6</text>
<text x="297.4" y="631" font-family="Liberation Serif, serif" font-size="29.8" fill="#111">(a)<tspan dx="10.5">Meta-world MT10</tspan></text>
<text x="1056" y="631" font-family="Liberation Serif, serif" font-size="29.8" fill="#111">(b)<tspan dx="10.5">HalfCheetah Task Group</tspan></text>
</svg></body></html>
